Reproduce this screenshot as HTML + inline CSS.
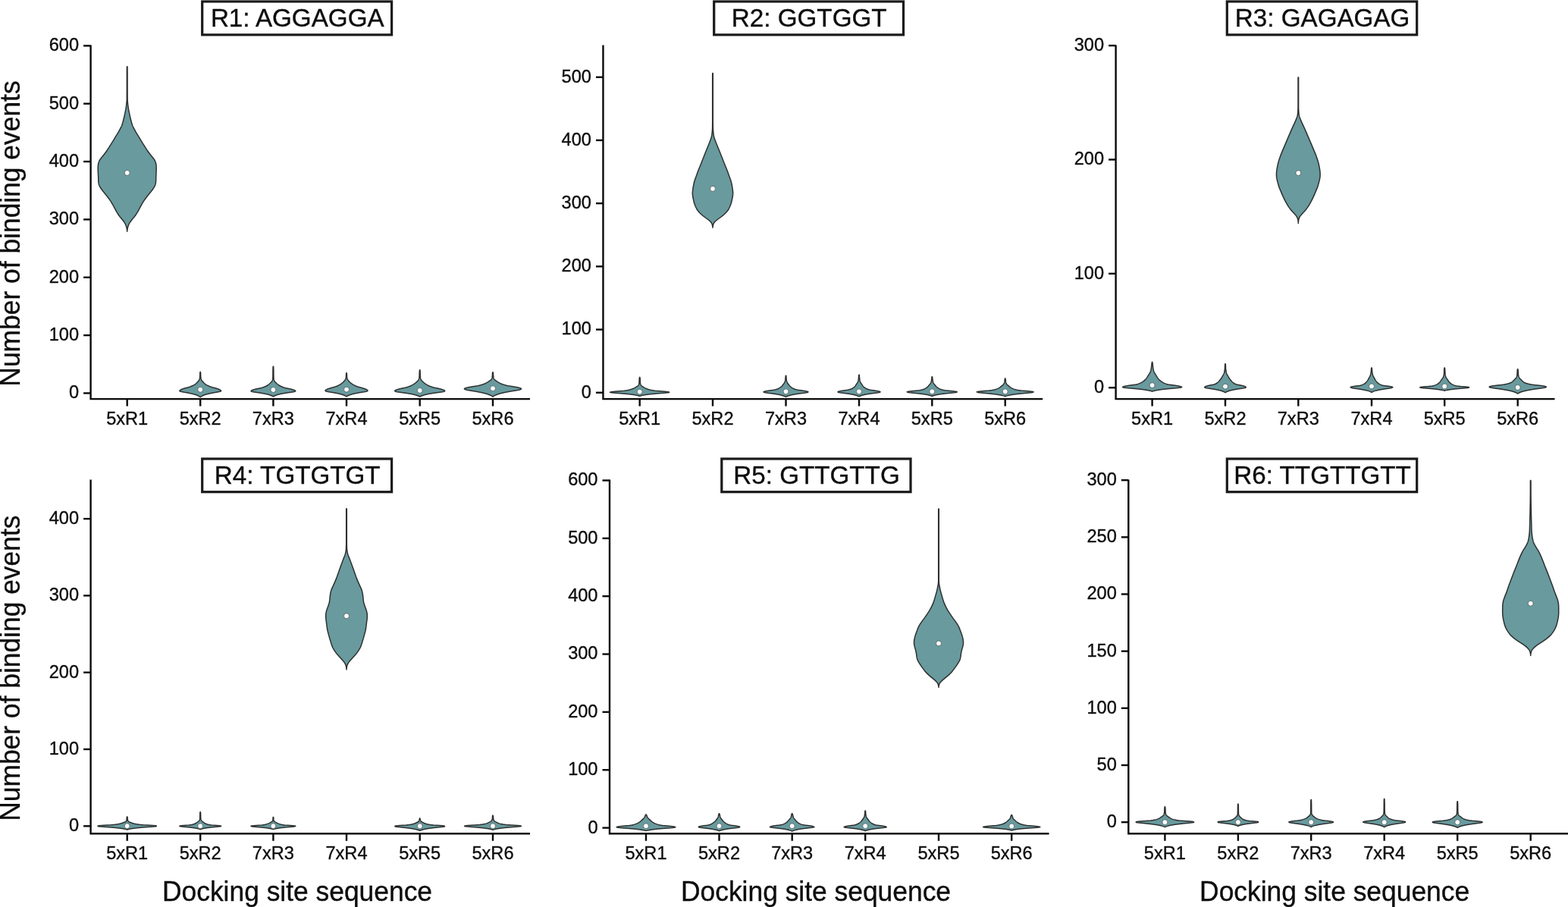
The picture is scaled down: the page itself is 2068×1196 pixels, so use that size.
<!DOCTYPE html>
<html lang="en">
<head>
<meta charset="utf-8">
<title>Number of binding events per docking site sequence</title>
<style>
html,body{margin:0;padding:0;background:#fff;}
body{width:2068px;height:1196px;overflow:hidden;}
svg{display:block;}
text{font-kerning:normal;stroke:#0d0d0d;stroke-width:0.35px;}
</style>
</head>
<body>
<svg width="2068" height="1196" viewBox="0 0 2068 1196">
<rect width="2068" height="1196" fill="#fff"/>
<g>
<g fill="#689a9e" stroke="#2e3030" stroke-width="1.5" stroke-linejoin="round">
<path d="M167.7 87.7 L168 88.2 L168 88.7 L168.01 89.2 L168.01 89.7 L168.01 90.2 L168.02 90.7 L168.02 91.2 L168.02 91.7 L168.02 92.2 L168.03 92.7 L168.03 93.2 L168.03 93.7 L168.03 94.2 L168.04 94.7 L168.04 95.2 L168.04 95.7 L168.04 96.2 L168.04 96.7 L168.04 97.2 L168.04 97.7 L168.05 98.2 L168.05 98.7 L168.05 99.2 L168.05 99.7 L168.05 100.2 L168.05 100.7 L168.05 101.2 L168.05 101.7 L168.05 102.2 L168.05 102.7 L168.05 103.2 L168.05 103.7 L168.05 104.2 L168.05 104.7 L168.06 105.2 L168.06 105.7 L168.06 106.2 L168.06 106.7 L168.06 107.2 L168.06 107.7 L168.06 108.2 L168.06 108.7 L168.06 109.2 L168.06 109.7 L168.06 110.2 L168.06 110.7 L168.06 111.2 L168.06 111.7 L168.06 112.2 L168.06 112.7 L168.06 113.2 L168.06 113.7 L168.06 114.2 L168.06 114.7 L168.06 115.2 L168.06 115.7 L168.06 116.2 L168.06 116.7 L168.06 117.2 L168.06 117.7 L168.06 118.2 L168.06 118.7 L168.06 119.2 L168.06 119.7 L168.07 120.2 L168.07 120.7 L168.07 121.2 L168.07 121.7 L168.07 122.2 L168.07 122.7 L168.07 123.2 L168.07 123.7 L168.07 124.2 L168.08 124.7 L168.08 125.2 L168.08 125.7 L168.08 126.2 L168.08 126.7 L168.09 127.2 L168.09 127.7 L168.09 128.2 L168.09 128.7 L168.1 129.2 L168.1 129.7 L168.1 130.2 L168.11 130.7 L168.12 131.2 L168.14 131.7 L168.16 132.2 L168.19 132.7 L168.22 133.2 L168.26 133.7 L168.3 134.2 L168.34 134.7 L168.39 135.2 L168.43 135.7 L168.48 136.2 L168.54 136.7 L168.59 137.2 L168.64 137.7 L168.7 138.2 L168.75 138.7 L168.81 139.2 L168.87 139.7 L168.92 140.2 L168.98 140.7 L169.05 141.2 L169.12 141.7 L169.2 142.2 L169.28 142.7 L169.36 143.2 L169.45 143.7 L169.53 144.2 L169.63 144.7 L169.72 145.2 L169.82 145.7 L169.92 146.2 L170.02 146.7 L170.12 147.2 L170.22 147.7 L170.33 148.2 L170.43 148.7 L170.54 149.2 L170.64 149.7 L170.74 150.2 L170.85 150.7 L170.96 151.2 L171.06 151.7 L171.17 152.2 L171.29 152.7 L171.4 153.2 L171.51 153.7 L171.63 154.2 L171.75 154.7 L171.87 155.2 L171.99 155.7 L172.11 156.2 L172.24 156.7 L172.37 157.2 L172.5 157.7 L172.63 158.2 L172.76 158.7 L172.89 159.2 L173.02 159.7 L173.16 160.2 L173.3 160.7 L173.43 161.2 L173.58 161.7 L173.72 162.2 L173.87 162.7 L174.02 163.2 L174.17 163.7 L174.33 164.2 L174.5 164.7 L174.68 165.2 L174.87 165.7 L175.08 166.2 L175.29 166.7 L175.52 167.2 L175.76 167.7 L176.01 168.2 L176.27 168.7 L176.54 169.2 L176.8 169.7 L177.07 170.2 L177.33 170.7 L177.59 171.2 L177.85 171.7 L178.11 172.2 L178.37 172.7 L178.64 173.2 L178.92 173.7 L179.2 174.2 L179.49 174.7 L179.79 175.2 L180.09 175.7 L180.4 176.2 L180.71 176.7 L181.03 177.2 L181.35 177.7 L181.66 178.2 L181.97 178.7 L182.29 179.2 L182.59 179.7 L182.9 180.2 L183.2 180.7 L183.5 181.2 L183.79 181.7 L184.09 182.2 L184.38 182.7 L184.67 183.2 L184.96 183.7 L185.26 184.2 L185.55 184.7 L185.85 185.2 L186.15 185.7 L186.46 186.2 L186.77 186.7 L187.08 187.2 L187.4 187.7 L187.72 188.2 L188.04 188.7 L188.36 189.2 L188.69 189.7 L189 190.2 L189.32 190.7 L189.63 191.2 L189.95 191.7 L190.26 192.2 L190.57 192.7 L190.89 193.2 L191.2 193.7 L191.52 194.2 L191.84 194.7 L192.17 195.2 L192.49 195.7 L192.82 196.2 L193.15 196.7 L193.48 197.2 L193.82 197.7 L194.16 198.2 L194.51 198.7 L194.86 199.2 L195.21 199.7 L195.57 200.2 L195.94 200.7 L196.31 201.2 L196.69 201.7 L197.07 202.2 L197.45 202.7 L197.84 203.2 L198.23 203.7 L198.63 204.2 L199.03 204.7 L199.43 205.2 L199.83 205.7 L200.23 206.2 L200.64 206.7 L201.05 207.2 L201.45 207.7 L201.85 208.2 L202.24 208.7 L202.61 209.2 L202.97 209.7 L203.3 210.2 L203.62 210.7 L203.92 211.2 L204.19 211.7 L204.44 212.2 L204.67 212.7 L204.88 213.2 L205.08 213.7 L205.25 214.2 L205.4 214.7 L205.54 215.2 L205.66 215.7 L205.76 216.2 L205.85 216.7 L205.93 217.2 L205.99 217.7 L206.05 218.2 L206.09 218.7 L206.12 219.2 L206.15 219.7 L206.17 220.2 L206.18 220.7 L206.18 221.2 L206.18 221.7 L206.18 222.2 L206.18 222.7 L206.17 223.2 L206.16 223.7 L206.16 224.2 L206.15 224.7 L206.14 225.2 L206.12 225.7 L206.11 226.2 L206.09 226.7 L206.07 227.2 L206.04 227.7 L206.02 228.2 L205.99 228.7 L205.96 229.2 L205.93 229.7 L205.9 230.2 L205.88 230.7 L205.85 231.2 L205.83 231.7 L205.8 232.2 L205.78 232.7 L205.76 233.2 L205.75 233.7 L205.73 234.2 L205.72 234.7 L205.7 235.2 L205.69 235.7 L205.68 236.2 L205.67 236.7 L205.66 237.2 L205.65 237.7 L205.63 238.2 L205.61 238.7 L205.59 239.2 L205.55 239.7 L205.51 240.2 L205.45 240.7 L205.38 241.2 L205.29 241.7 L205.18 242.2 L205.06 242.7 L204.92 243.2 L204.77 243.7 L204.6 244.2 L204.41 244.7 L204.19 245.2 L203.96 245.7 L203.7 246.2 L203.43 246.7 L203.12 247.2 L202.81 247.7 L202.47 248.2 L202.12 248.7 L201.76 249.2 L201.4 249.7 L201.03 250.2 L200.65 250.7 L200.26 251.2 L199.87 251.7 L199.47 252.2 L199.07 252.7 L198.67 253.2 L198.26 253.7 L197.86 254.2 L197.45 254.7 L197.04 255.2 L196.63 255.7 L196.23 256.2 L195.82 256.7 L195.42 257.2 L195.02 257.7 L194.62 258.2 L194.23 258.7 L193.84 259.2 L193.46 259.7 L193.08 260.2 L192.71 260.7 L192.34 261.2 L191.98 261.7 L191.62 262.2 L191.27 262.7 L190.93 263.2 L190.59 263.7 L190.25 264.2 L189.92 264.7 L189.6 265.2 L189.28 265.7 L188.97 266.2 L188.66 266.7 L188.35 267.2 L188.05 267.7 L187.76 268.2 L187.46 268.7 L187.17 269.2 L186.89 269.7 L186.6 270.2 L186.32 270.7 L186.05 271.2 L185.77 271.7 L185.5 272.2 L185.23 272.7 L184.96 273.2 L184.7 273.7 L184.43 274.2 L184.16 274.7 L183.9 275.2 L183.63 275.7 L183.37 276.2 L183.1 276.7 L182.83 277.2 L182.56 277.7 L182.29 278.2 L182.01 278.7 L181.73 279.2 L181.43 279.7 L181.13 280.2 L180.83 280.7 L180.51 281.2 L180.19 281.7 L179.86 282.2 L179.52 282.7 L179.17 283.2 L178.81 283.7 L178.44 284.2 L178.07 284.7 L177.68 285.2 L177.29 285.7 L176.88 286.2 L176.47 286.7 L176.05 287.2 L175.63 287.7 L175.21 288.2 L174.8 288.7 L174.39 289.2 L173.98 289.7 L173.59 290.2 L173.2 290.7 L172.83 291.2 L172.46 291.7 L172.09 292.2 L171.74 292.7 L171.4 293.2 L171.08 293.7 L170.77 294.2 L170.49 294.7 L170.24 295.2 L170 295.7 L169.78 296.2 L169.56 296.7 L169.36 297.2 L169.17 297.7 L169 298.2 L168.84 298.7 L168.69 299.2 L168.57 299.7 L168.46 300.2 L168.35 300.7 L168.25 301.2 L168.15 301.7 L168.06 302.2 L167.98 302.7 L167.9 303.2 L167.84 303.7 L167.78 304.2 L167.74 304.7 L167.7 305.3 L167.66 304.7 L167.62 304.2 L167.56 303.7 L167.5 303.2 L167.42 302.7 L167.34 302.2 L167.25 301.7 L167.15 301.2 L167.05 300.7 L166.94 300.2 L166.83 299.7 L166.71 299.2 L166.56 298.7 L166.4 298.2 L166.23 297.7 L166.04 297.2 L165.84 296.7 L165.62 296.2 L165.4 295.7 L165.16 295.2 L164.91 294.7 L164.63 294.2 L164.32 293.7 L164 293.2 L163.66 292.7 L163.31 292.2 L162.94 291.7 L162.57 291.2 L162.2 290.7 L161.81 290.2 L161.42 289.7 L161.01 289.2 L160.6 288.7 L160.19 288.2 L159.77 287.7 L159.35 287.2 L158.93 286.7 L158.52 286.2 L158.11 285.7 L157.72 285.2 L157.33 284.7 L156.96 284.2 L156.59 283.7 L156.23 283.2 L155.88 282.7 L155.54 282.2 L155.21 281.7 L154.89 281.2 L154.57 280.7 L154.27 280.2 L153.97 279.7 L153.67 279.2 L153.39 278.7 L153.11 278.2 L152.84 277.7 L152.57 277.2 L152.3 276.7 L152.03 276.2 L151.77 275.7 L151.5 275.2 L151.24 274.7 L150.97 274.2 L150.7 273.7 L150.44 273.2 L150.17 272.7 L149.9 272.2 L149.63 271.7 L149.35 271.2 L149.08 270.7 L148.8 270.2 L148.51 269.7 L148.23 269.2 L147.94 268.7 L147.64 268.2 L147.35 267.7 L147.05 267.2 L146.74 266.7 L146.43 266.2 L146.12 265.7 L145.8 265.2 L145.48 264.7 L145.15 264.2 L144.81 263.7 L144.47 263.2 L144.13 262.7 L143.78 262.2 L143.42 261.7 L143.06 261.2 L142.69 260.7 L142.32 260.2 L141.94 259.7 L141.56 259.2 L141.17 258.7 L140.78 258.2 L140.38 257.7 L139.98 257.2 L139.58 256.7 L139.17 256.2 L138.77 255.7 L138.36 255.2 L137.95 254.7 L137.54 254.2 L137.14 253.7 L136.73 253.2 L136.33 252.7 L135.93 252.2 L135.53 251.7 L135.14 251.2 L134.75 250.7 L134.37 250.2 L134 249.7 L133.64 249.2 L133.28 248.7 L132.93 248.2 L132.59 247.7 L132.28 247.2 L131.97 246.7 L131.7 246.2 L131.44 245.7 L131.21 245.2 L130.99 244.7 L130.8 244.2 L130.63 243.7 L130.48 243.2 L130.34 242.7 L130.22 242.2 L130.11 241.7 L130.02 241.2 L129.95 240.7 L129.89 240.2 L129.85 239.7 L129.81 239.2 L129.79 238.7 L129.77 238.2 L129.75 237.7 L129.74 237.2 L129.73 236.7 L129.72 236.2 L129.71 235.7 L129.7 235.2 L129.68 234.7 L129.67 234.2 L129.65 233.7 L129.64 233.2 L129.62 232.7 L129.6 232.2 L129.57 231.7 L129.55 231.2 L129.52 230.7 L129.5 230.2 L129.47 229.7 L129.44 229.2 L129.41 228.7 L129.38 228.2 L129.36 227.7 L129.33 227.2 L129.31 226.7 L129.29 226.2 L129.28 225.7 L129.26 225.2 L129.25 224.7 L129.24 224.2 L129.24 223.7 L129.23 223.2 L129.22 222.7 L129.22 222.2 L129.22 221.7 L129.22 221.2 L129.22 220.7 L129.23 220.2 L129.25 219.7 L129.28 219.2 L129.31 218.7 L129.35 218.2 L129.41 217.7 L129.47 217.2 L129.55 216.7 L129.64 216.2 L129.74 215.7 L129.86 215.2 L130 214.7 L130.15 214.2 L130.32 213.7 L130.52 213.2 L130.73 212.7 L130.96 212.2 L131.21 211.7 L131.48 211.2 L131.78 210.7 L132.1 210.2 L132.43 209.7 L132.79 209.2 L133.16 208.7 L133.55 208.2 L133.95 207.7 L134.35 207.2 L134.76 206.7 L135.17 206.2 L135.57 205.7 L135.97 205.2 L136.37 204.7 L136.77 204.2 L137.17 203.7 L137.56 203.2 L137.95 202.7 L138.33 202.2 L138.71 201.7 L139.09 201.2 L139.46 200.7 L139.83 200.2 L140.19 199.7 L140.54 199.2 L140.89 198.7 L141.24 198.2 L141.58 197.7 L141.92 197.2 L142.25 196.7 L142.58 196.2 L142.91 195.7 L143.23 195.2 L143.56 194.7 L143.88 194.2 L144.2 193.7 L144.51 193.2 L144.83 192.7 L145.14 192.2 L145.45 191.7 L145.77 191.2 L146.08 190.7 L146.4 190.2 L146.71 189.7 L147.04 189.2 L147.36 188.7 L147.68 188.2 L148 187.7 L148.32 187.2 L148.63 186.7 L148.94 186.2 L149.25 185.7 L149.55 185.2 L149.85 184.7 L150.14 184.2 L150.44 183.7 L150.73 183.2 L151.02 182.7 L151.31 182.2 L151.61 181.7 L151.9 181.2 L152.2 180.7 L152.5 180.2 L152.81 179.7 L153.11 179.2 L153.43 178.7 L153.74 178.2 L154.05 177.7 L154.37 177.2 L154.69 176.7 L155 176.2 L155.31 175.7 L155.61 175.2 L155.91 174.7 L156.2 174.2 L156.48 173.7 L156.76 173.2 L157.03 172.7 L157.29 172.2 L157.55 171.7 L157.81 171.2 L158.07 170.7 L158.33 170.2 L158.6 169.7 L158.86 169.2 L159.13 168.7 L159.39 168.2 L159.64 167.7 L159.88 167.2 L160.11 166.7 L160.32 166.2 L160.53 165.7 L160.72 165.2 L160.9 164.7 L161.07 164.2 L161.23 163.7 L161.38 163.2 L161.53 162.7 L161.68 162.2 L161.82 161.7 L161.97 161.2 L162.1 160.7 L162.24 160.2 L162.38 159.7 L162.51 159.2 L162.64 158.7 L162.77 158.2 L162.9 157.7 L163.03 157.2 L163.16 156.7 L163.29 156.2 L163.41 155.7 L163.53 155.2 L163.65 154.7 L163.77 154.2 L163.89 153.7 L164 153.2 L164.11 152.7 L164.23 152.2 L164.34 151.7 L164.44 151.2 L164.55 150.7 L164.66 150.2 L164.76 149.7 L164.86 149.2 L164.97 148.7 L165.07 148.2 L165.18 147.7 L165.28 147.2 L165.38 146.7 L165.48 146.2 L165.58 145.7 L165.68 145.2 L165.77 144.7 L165.87 144.2 L165.95 143.7 L166.04 143.2 L166.12 142.7 L166.2 142.2 L166.28 141.7 L166.35 141.2 L166.42 140.7 L166.48 140.2 L166.53 139.7 L166.59 139.2 L166.65 138.7 L166.7 138.2 L166.76 137.7 L166.81 137.2 L166.86 136.7 L166.92 136.2 L166.97 135.7 L167.01 135.2 L167.06 134.7 L167.1 134.2 L167.14 133.7 L167.18 133.2 L167.21 132.7 L167.24 132.2 L167.26 131.7 L167.28 131.2 L167.29 130.7 L167.3 130.2 L167.3 129.7 L167.3 129.2 L167.31 128.7 L167.31 128.2 L167.31 127.7 L167.31 127.2 L167.32 126.7 L167.32 126.2 L167.32 125.7 L167.32 125.2 L167.32 124.7 L167.33 124.2 L167.33 123.7 L167.33 123.2 L167.33 122.7 L167.33 122.2 L167.33 121.7 L167.33 121.2 L167.33 120.7 L167.33 120.2 L167.34 119.7 L167.34 119.2 L167.34 118.7 L167.34 118.2 L167.34 117.7 L167.34 117.2 L167.34 116.7 L167.34 116.2 L167.34 115.7 L167.34 115.2 L167.34 114.7 L167.34 114.2 L167.34 113.7 L167.34 113.2 L167.34 112.7 L167.34 112.2 L167.34 111.7 L167.34 111.2 L167.34 110.7 L167.34 110.2 L167.34 109.7 L167.34 109.2 L167.34 108.7 L167.34 108.2 L167.34 107.7 L167.34 107.2 L167.34 106.7 L167.34 106.2 L167.34 105.7 L167.34 105.2 L167.35 104.7 L167.35 104.2 L167.35 103.7 L167.35 103.2 L167.35 102.7 L167.35 102.2 L167.35 101.7 L167.35 101.2 L167.35 100.7 L167.35 100.2 L167.35 99.7 L167.35 99.2 L167.35 98.7 L167.35 98.2 L167.36 97.7 L167.36 97.2 L167.36 96.7 L167.36 96.2 L167.36 95.7 L167.36 95.2 L167.36 94.7 L167.37 94.2 L167.37 93.7 L167.37 93.2 L167.37 92.7 L167.38 92.2 L167.38 91.7 L167.38 91.2 L167.38 90.7 L167.39 90.2 L167.39 89.7 L167.39 89.2 L167.4 88.7 L167.4 88.2 Z"/>
<path d="M264.2 490.3 L264.47 490.8 L264.53 491.3 L264.57 491.8 L264.6 492.3 L264.62 492.8 L264.64 493.3 L264.65 493.8 L264.66 494.3 L264.67 494.8 L264.68 495.3 L264.7 495.8 L264.71 496.3 L264.74 496.8 L264.77 497.3 L264.81 497.8 L264.88 498.3 L264.98 498.8 L265.1 499.3 L265.24 499.8 L265.41 500.3 L265.59 500.8 L265.85 501.3 L266.2 501.8 L266.6 502.3 L267.05 502.8 L267.49 503.3 L267.93 503.8 L268.38 504.3 L268.85 504.8 L269.36 505.3 L269.91 505.8 L270.52 506.3 L271.19 506.8 L271.95 507.3 L272.8 507.8 L273.75 508.3 L274.79 508.8 L275.92 509.3 L277.13 509.8 L278.46 510.3 L280.14 510.8 L282.05 511.3 L283.97 511.8 L285.7 512.3 L287.16 512.8 L288.55 513.3 L289.74 513.8 L290.58 514.3 L291.28 514.8 L291.6 515.3 L291.27 515.8 L290.18 516.3 L287.83 516.8 L285.22 517.3 L282.23 517.8 L279.62 518.3 L277.23 518.8 L274.91 519.3 L272.91 519.8 L271.16 520.3 L269.63 520.8 L268.29 521.3 L267.11 521.8 L266.09 522.3 L265.28 522.8 L264.62 523.3 L264.2 523.7 L263.78 523.3 L263.12 522.8 L262.31 522.3 L261.29 521.8 L260.11 521.3 L258.77 520.8 L257.24 520.3 L255.49 519.8 L253.49 519.3 L251.17 518.8 L248.78 518.3 L246.17 517.8 L243.18 517.3 L240.57 516.8 L238.22 516.3 L237.13 515.8 L236.8 515.3 L237.12 514.8 L237.82 514.3 L238.66 513.8 L239.85 513.3 L241.24 512.8 L242.7 512.3 L244.43 511.8 L246.35 511.3 L248.26 510.8 L249.94 510.3 L251.27 509.8 L252.48 509.3 L253.61 508.8 L254.65 508.3 L255.6 507.8 L256.45 507.3 L257.21 506.8 L257.88 506.3 L258.49 505.8 L259.04 505.3 L259.55 504.8 L260.02 504.3 L260.47 503.8 L260.91 503.3 L261.35 502.8 L261.8 502.3 L262.2 501.8 L262.55 501.3 L262.81 500.8 L262.99 500.3 L263.16 499.8 L263.3 499.3 L263.42 498.8 L263.52 498.3 L263.59 497.8 L263.63 497.3 L263.66 496.8 L263.69 496.3 L263.7 495.8 L263.72 495.3 L263.73 494.8 L263.74 494.3 L263.75 493.8 L263.76 493.3 L263.78 492.8 L263.8 492.3 L263.83 491.8 L263.87 491.3 L263.93 490.8 Z"/>
<path d="M360.4 483 L360.66 483.5 L360.69 484 L360.72 484.5 L360.75 485 L360.77 485.5 L360.79 486 L360.8 486.5 L360.82 487 L360.83 487.5 L360.84 488 L360.85 488.5 L360.85 489 L360.86 489.5 L360.86 490 L360.87 490.5 L360.87 491 L360.87 491.5 L360.88 492 L360.88 492.5 L360.88 493 L360.89 493.5 L360.89 494 L360.9 494.5 L360.9 495 L360.91 495.5 L360.92 496 L360.93 496.5 L360.95 497 L360.96 497.5 L360.98 498 L361 498.5 L361.02 499 L361.05 499.5 L361.11 500 L361.22 500.5 L361.37 501 L361.54 501.5 L361.74 502 L361.97 502.5 L362.3 503 L362.73 503.5 L363.22 504 L363.73 504.5 L364.23 505 L364.74 505.5 L365.27 506 L365.85 506.5 L366.47 507 L367.15 507.5 L367.91 508 L368.74 508.5 L369.67 509 L370.7 509.5 L371.84 510 L373.1 510.5 L374.5 511 L376.17 511.5 L378.42 512 L380.91 512.5 L383.22 513 L385.09 513.5 L386.83 514 L388.21 514.5 L389.17 515 L389.78 515.5 L389.5 516 L388.18 516.5 L385.28 517 L381.96 517.5 L378.42 518 L375.45 518.5 L372.57 519 L370.04 519.5 L367.89 520 L366.04 520.5 L364.44 521 L363.07 521.5 L361.94 522 L361.07 522.5 L360.4 523 L359.73 522.5 L358.86 522 L357.73 521.5 L356.36 521 L354.76 520.5 L352.91 520 L350.76 519.5 L348.23 519 L345.35 518.5 L342.38 518 L338.84 517.5 L335.52 517 L332.62 516.5 L331.3 516 L331.02 515.5 L331.63 515 L332.59 514.5 L333.97 514 L335.71 513.5 L337.58 513 L339.89 512.5 L342.38 512 L344.63 511.5 L346.3 511 L347.7 510.5 L348.96 510 L350.1 509.5 L351.13 509 L352.06 508.5 L352.89 508 L353.65 507.5 L354.33 507 L354.95 506.5 L355.53 506 L356.06 505.5 L356.57 505 L357.07 504.5 L357.58 504 L358.07 503.5 L358.5 503 L358.83 502.5 L359.06 502 L359.26 501.5 L359.43 501 L359.58 500.5 L359.69 500 L359.75 499.5 L359.78 499 L359.8 498.5 L359.82 498 L359.84 497.5 L359.85 497 L359.87 496.5 L359.88 496 L359.89 495.5 L359.9 495 L359.9 494.5 L359.91 494 L359.91 493.5 L359.92 493 L359.92 492.5 L359.92 492 L359.93 491.5 L359.93 491 L359.93 490.5 L359.94 490 L359.94 489.5 L359.95 489 L359.95 488.5 L359.96 488 L359.97 487.5 L359.98 487 L360 486.5 L360.01 486 L360.03 485.5 L360.05 485 L360.08 484.5 L360.11 484 L360.14 483.5 Z"/>
<path d="M457 491.7 L457.28 492.2 L457.35 492.7 L457.4 493.2 L457.43 493.7 L457.45 494.2 L457.47 494.7 L457.48 495.2 L457.5 495.7 L457.52 496.2 L457.55 496.7 L457.6 497.2 L457.66 497.7 L457.75 498.2 L457.87 498.7 L458 499.2 L458.17 499.7 L458.35 500.2 L458.59 500.7 L458.93 501.2 L459.34 501.7 L459.8 502.2 L460.27 502.7 L460.73 503.2 L461.21 503.7 L461.71 504.2 L462.25 504.7 L462.82 505.2 L463.45 505.7 L464.14 506.2 L464.91 506.7 L465.77 507.2 L466.71 507.7 L467.72 508.2 L468.82 508.7 L470 509.2 L471.26 509.7 L472.81 510.2 L474.61 510.7 L476.49 511.2 L478.25 511.7 L479.75 512.2 L481.14 512.7 L482.41 513.2 L483.44 513.7 L484.19 514.2 L484.8 514.7 L484.98 515.2 L484.48 515.7 L482.81 516.2 L480.14 516.7 L477.06 517.2 L473.95 517.7 L471.31 518.2 L468.73 518.7 L466.44 519.2 L464.48 519.7 L462.78 520.2 L461.29 520.7 L460.01 521.2 L458.9 521.7 L458.03 522.2 L457.34 522.7 L457 523 L456.66 522.7 L455.97 522.2 L455.1 521.7 L453.99 521.2 L452.71 520.7 L451.22 520.2 L449.52 519.7 L447.56 519.2 L445.27 518.7 L442.69 518.2 L440.05 517.7 L436.94 517.2 L433.86 516.7 L431.19 516.2 L429.52 515.7 L429.02 515.2 L429.2 514.7 L429.81 514.2 L430.56 513.7 L431.59 513.2 L432.86 512.7 L434.25 512.2 L435.75 511.7 L437.51 511.2 L439.39 510.7 L441.19 510.2 L442.74 509.7 L444 509.2 L445.18 508.7 L446.28 508.2 L447.29 507.7 L448.23 507.2 L449.09 506.7 L449.86 506.2 L450.55 505.7 L451.18 505.2 L451.75 504.7 L452.29 504.2 L452.79 503.7 L453.27 503.2 L453.73 502.7 L454.2 502.2 L454.66 501.7 L455.07 501.2 L455.41 500.7 L455.65 500.2 L455.83 499.7 L456 499.2 L456.13 498.7 L456.25 498.2 L456.34 497.7 L456.4 497.2 L456.45 496.7 L456.48 496.2 L456.5 495.7 L456.52 495.2 L456.53 494.7 L456.55 494.2 L456.57 493.7 L456.6 493.2 L456.65 492.7 L456.72 492.2 Z"/>
<path d="M553.7 487.7 L553.98 488.2 L554.03 488.7 L554.08 489.2 L554.12 489.7 L554.15 490.2 L554.17 490.7 L554.19 491.2 L554.21 491.7 L554.22 492.2 L554.23 492.7 L554.24 493.2 L554.25 493.7 L554.26 494.2 L554.27 494.7 L554.28 495.2 L554.3 495.7 L554.33 496.2 L554.36 496.7 L554.4 497.2 L554.45 497.7 L554.53 498.2 L554.64 498.7 L554.78 499.2 L554.96 499.7 L555.15 500.2 L555.37 500.7 L555.66 501.2 L556.06 501.7 L556.53 502.2 L557.05 502.7 L557.57 503.2 L558.08 503.7 L558.61 504.2 L559.16 504.7 L559.75 505.2 L560.38 505.7 L561.07 506.2 L561.82 506.7 L562.64 507.2 L563.56 507.7 L564.57 508.2 L565.68 508.7 L566.89 509.2 L568.21 509.7 L569.65 510.2 L571.29 510.7 L573.43 511.2 L575.82 511.7 L578.17 512.2 L580.2 512.7 L581.97 513.2 L583.63 513.7 L584.95 514.2 L585.9 514.7 L586.64 515.2 L586.71 515.7 L585.95 516.2 L583.41 516.7 L580.09 517.2 L576.19 517.7 L572.65 518.2 L569.5 518.7 L566.44 519.2 L563.85 519.7 L561.62 520.2 L559.68 520.7 L558 521.2 L556.54 521.7 L555.35 522.2 L554.42 522.7 L553.7 523.2 L552.98 522.7 L552.05 522.2 L550.86 521.7 L549.4 521.2 L547.72 520.7 L545.78 520.2 L543.55 519.7 L540.96 519.2 L537.9 518.7 L534.75 518.2 L531.21 517.7 L527.31 517.2 L523.99 516.7 L521.45 516.2 L520.69 515.7 L520.76 515.2 L521.5 514.7 L522.45 514.2 L523.77 513.7 L525.43 513.2 L527.2 512.7 L529.23 512.2 L531.58 511.7 L533.97 511.2 L536.11 510.7 L537.75 510.2 L539.19 509.7 L540.51 509.2 L541.72 508.7 L542.83 508.2 L543.84 507.7 L544.76 507.2 L545.58 506.7 L546.33 506.2 L547.02 505.7 L547.65 505.2 L548.24 504.7 L548.79 504.2 L549.32 503.7 L549.83 503.2 L550.35 502.7 L550.87 502.2 L551.34 501.7 L551.74 501.2 L552.03 500.7 L552.25 500.2 L552.44 499.7 L552.62 499.2 L552.76 498.7 L552.87 498.2 L552.95 497.7 L553 497.2 L553.04 496.7 L553.07 496.2 L553.1 495.7 L553.12 495.2 L553.13 494.7 L553.14 494.2 L553.15 493.7 L553.16 493.2 L553.17 492.7 L553.18 492.2 L553.19 491.7 L553.21 491.2 L553.23 490.7 L553.25 490.2 L553.28 489.7 L553.32 489.2 L553.37 488.7 L553.42 488.2 Z"/>
<path d="M650 490.7 L650.29 491.2 L650.37 491.7 L650.44 492.2 L650.49 492.7 L650.53 493.2 L650.56 493.7 L650.58 494.2 L650.6 494.7 L650.62 495.2 L650.64 495.7 L650.67 496.2 L650.71 496.7 L650.77 497.2 L650.84 497.7 L650.96 498.2 L651.12 498.7 L651.33 499.2 L651.58 499.7 L651.86 500.2 L652.27 500.7 L652.84 501.2 L653.51 501.7 L654.23 502.2 L654.94 502.7 L655.66 503.2 L656.44 503.7 L657.27 504.2 L658.18 504.7 L659.19 505.2 L660.3 505.7 L661.53 506.2 L662.9 506.7 L664.42 507.2 L666.11 507.7 L667.99 508.2 L670.24 508.7 L673.3 509.2 L676.63 509.7 L679.62 510.2 L682.09 510.7 L684.33 511.2 L685.97 511.7 L687.17 512.2 L687.59 512.7 L687.18 513.2 L686.25 513.7 L684.03 514.2 L681.31 514.7 L678.36 515.2 L675.09 515.7 L672.15 516.2 L669.52 516.7 L666.93 517.2 L664.44 517.7 L662.27 518.2 L660.31 518.7 L658.55 519.2 L656.97 519.7 L655.53 520.2 L654.25 520.7 L653.08 521.2 L652.09 521.7 L651.27 522.2 L650.57 522.7 L650 523.2 L649.43 522.7 L648.73 522.2 L647.91 521.7 L646.92 521.2 L645.75 520.7 L644.47 520.2 L643.03 519.7 L641.45 519.2 L639.69 518.7 L637.73 518.2 L635.56 517.7 L633.07 517.2 L630.48 516.7 L627.85 516.2 L624.91 515.7 L621.64 515.2 L618.69 514.7 L615.97 514.2 L613.75 513.7 L612.82 513.2 L612.41 512.7 L612.83 512.2 L614.03 511.7 L615.67 511.2 L617.91 510.7 L620.38 510.2 L623.37 509.7 L626.7 509.2 L629.76 508.7 L632.01 508.2 L633.89 507.7 L635.58 507.2 L637.1 506.7 L638.47 506.2 L639.7 505.7 L640.81 505.2 L641.82 504.7 L642.73 504.2 L643.56 503.7 L644.34 503.2 L645.06 502.7 L645.77 502.2 L646.49 501.7 L647.16 501.2 L647.73 500.7 L648.14 500.2 L648.42 499.7 L648.67 499.2 L648.88 498.7 L649.04 498.2 L649.16 497.7 L649.23 497.2 L649.29 496.7 L649.33 496.2 L649.36 495.7 L649.38 495.2 L649.4 494.7 L649.42 494.2 L649.44 493.7 L649.47 493.2 L649.51 492.7 L649.56 492.2 L649.63 491.7 L649.71 491.2 Z"/>
</g>
<g fill="#fff" stroke="#3c4a4a" stroke-width="0.7">
<circle cx="167.7" cy="227.9" r="3.45"/>
<circle cx="264.2" cy="513.8" r="3.45"/>
<circle cx="360.4" cy="514" r="3.45"/>
<circle cx="457" cy="513.6" r="3.45"/>
<circle cx="553.7" cy="514.9" r="3.45"/>
<circle cx="650" cy="512.2" r="3.45"/>
</g>
<g stroke="#0a0a0a" stroke-width="2.4" fill="none">
<path d="M119.6 59.4 V526.1 H699"/>
<path d="M167.7 526.1 v9.5"/>
<path d="M264.2 526.1 v9.5"/>
<path d="M360.4 526.1 v9.5"/>
<path d="M457 526.1 v9.5"/>
<path d="M553.7 526.1 v9.5"/>
<path d="M650 526.1 v9.5"/>
<path d="M119.6 518.45 h-9.5"/>
<path d="M119.6 442.1 h-9.5"/>
<path d="M119.6 365.75 h-9.5"/>
<path d="M119.6 289.4 h-9.5"/>
<path d="M119.6 213.05 h-9.5"/>
<path d="M119.6 136.7 h-9.5"/>
<path d="M119.6 60.35 h-9.5"/>
</g>
<g font-family='"Liberation Sans", sans-serif' font-size="23.6" fill="#0d0d0d">
<g text-anchor="middle">
<text x="167.7" y="559.9">5xR1</text>
<text x="264.2" y="559.9">5xR2</text>
<text x="360.4" y="559.9">7xR3</text>
<text x="457" y="559.9">7xR4</text>
<text x="553.7" y="559.9">5xR5</text>
<text x="650" y="559.9">5xR6</text>
</g>
<g text-anchor="end">
<text x="104.1" y="525.35">0</text>
<text x="104.1" y="449">100</text>
<text x="104.1" y="372.65">200</text>
<text x="104.1" y="296.3">300</text>
<text x="104.1" y="219.95">400</text>
<text x="104.1" y="143.6">500</text>
<text x="104.1" y="67.25">600</text>
</g>
</g>
<rect x="266.7" y="2" width="249.9" height="43.9" fill="#fff" stroke="#1a1a1a" stroke-width="3.2"/>
<text x="392.25" y="35.3" text-anchor="middle" font-family='"Liberation Sans", sans-serif' font-size="33.2" fill="#0d0d0d">R1: AGGAGGA</text>
<text transform="translate(26.3 308) rotate(-90) scale(1 1.03)" text-anchor="middle" font-family='"Liberation Sans", sans-serif' font-size="35.4" fill="#0d0d0d">Number of binding events</text>
</g>
<g>
<g fill="#689a9e" stroke="#2e3030" stroke-width="1.5" stroke-linejoin="round">
<path d="M940 96.5 L940.3 97 L940.3 97.5 L940.3 98 L940.3 98.5 L940.3 99 L940.3 99.5 L940.3 100 L940.3 100.5 L940.3 101 L940.3 101.5 L940.3 102 L940.3 102.5 L940.3 103 L940.3 103.5 L940.3 104 L940.3 104.5 L940.3 105 L940.3 105.5 L940.3 106 L940.3 106.5 L940.3 107 L940.3 107.5 L940.3 108 L940.3 108.5 L940.3 109 L940.3 109.5 L940.3 110 L940.3 110.5 L940.3 111 L940.3 111.5 L940.3 112 L940.3 112.5 L940.3 113 L940.3 113.5 L940.3 114 L940.3 114.5 L940.3 115 L940.3 115.5 L940.3 116 L940.3 116.5 L940.3 117 L940.3 117.5 L940.3 118 L940.3 118.5 L940.3 119 L940.3 119.5 L940.3 120 L940.3 120.5 L940.3 121 L940.3 121.5 L940.3 122 L940.3 122.5 L940.3 123 L940.3 123.5 L940.3 124 L940.3 124.5 L940.3 125 L940.3 125.5 L940.3 126 L940.3 126.5 L940.3 127 L940.3 127.5 L940.3 128 L940.3 128.5 L940.3 129 L940.3 129.5 L940.3 130 L940.3 130.5 L940.3 131 L940.3 131.5 L940.3 132 L940.3 132.5 L940.3 133 L940.3 133.5 L940.3 134 L940.3 134.5 L940.3 135 L940.3 135.5 L940.3 136 L940.3 136.5 L940.3 137 L940.3 137.5 L940.3 138 L940.3 138.5 L940.3 139 L940.3 139.5 L940.3 140 L940.3 140.5 L940.3 141 L940.3 141.5 L940.3 142 L940.3 142.5 L940.3 143 L940.3 143.5 L940.3 144 L940.3 144.5 L940.3 145 L940.3 145.5 L940.3 146 L940.3 146.5 L940.3 147 L940.3 147.5 L940.3 148 L940.3 148.5 L940.3 149 L940.3 149.5 L940.3 150 L940.3 150.5 L940.3 151 L940.3 151.5 L940.3 152 L940.3 152.5 L940.3 153 L940.3 153.5 L940.3 154 L940.3 154.5 L940.3 155 L940.3 155.5 L940.3 156 L940.3 156.5 L940.3 157 L940.3 157.5 L940.3 158 L940.3 158.5 L940.3 159 L940.3 159.5 L940.3 160 L940.3 160.5 L940.3 161 L940.3 161.5 L940.31 162 L940.31 162.5 L940.32 163 L940.32 163.5 L940.33 164 L940.33 164.5 L940.34 165 L940.35 165.5 L940.36 166 L940.36 166.5 L940.37 167 L940.38 167.5 L940.39 168 L940.4 168.5 L940.42 169 L940.43 169.5 L940.45 170 L940.48 170.5 L940.5 171 L940.53 171.5 L940.57 172 L940.6 172.5 L940.64 173 L940.68 173.5 L940.73 174 L940.77 174.5 L940.82 175 L940.87 175.5 L940.92 176 L940.98 176.5 L941.04 177 L941.11 177.5 L941.19 178 L941.28 178.5 L941.37 179 L941.48 179.5 L941.59 180 L941.71 180.5 L941.83 181 L941.97 181.5 L942.12 182 L942.28 182.5 L942.45 183 L942.63 183.5 L942.81 184 L942.99 184.5 L943.17 185 L943.35 185.5 L943.54 186 L943.73 186.5 L943.92 187 L944.12 187.5 L944.31 188 L944.51 188.5 L944.71 189 L944.91 189.5 L945.12 190 L945.32 190.5 L945.52 191 L945.73 191.5 L945.93 192 L946.13 192.5 L946.34 193 L946.54 193.5 L946.74 194 L946.94 194.5 L947.15 195 L947.35 195.5 L947.55 196 L947.76 196.5 L947.96 197 L948.16 197.5 L948.36 198 L948.57 198.5 L948.77 199 L948.97 199.5 L949.17 200 L949.38 200.5 L949.58 201 L949.78 201.5 L949.98 202 L950.17 202.5 L950.37 203 L950.57 203.5 L950.77 204 L950.96 204.5 L951.16 205 L951.36 205.5 L951.55 206 L951.75 206.5 L951.94 207 L952.14 207.5 L952.34 208 L952.53 208.5 L952.73 209 L952.93 209.5 L953.12 210 L953.32 210.5 L953.52 211 L953.71 211.5 L953.91 212 L954.11 212.5 L954.31 213 L954.51 213.5 L954.71 214 L954.9 214.5 L955.1 215 L955.3 215.5 L955.5 216 L955.7 216.5 L955.9 217 L956.1 217.5 L956.3 218 L956.51 218.5 L956.71 219 L956.91 219.5 L957.12 220 L957.33 220.5 L957.53 221 L957.74 221.5 L957.95 222 L958.15 222.5 L958.36 223 L958.56 223.5 L958.76 224 L958.96 224.5 L959.16 225 L959.35 225.5 L959.54 226 L959.73 226.5 L959.91 227 L960.09 227.5 L960.26 228 L960.43 228.5 L960.6 229 L960.77 229.5 L960.94 230 L961.11 230.5 L961.29 231 L961.47 231.5 L961.65 232 L961.84 232.5 L962.03 233 L962.21 233.5 L962.4 234 L962.59 234.5 L962.78 235 L962.96 235.5 L963.15 236 L963.32 236.5 L963.5 237 L963.67 237.5 L963.83 238 L963.99 238.5 L964.14 239 L964.28 239.5 L964.41 240 L964.53 240.5 L964.65 241 L964.76 241.5 L964.87 242 L964.98 242.5 L965.08 243 L965.18 243.5 L965.28 244 L965.38 244.5 L965.48 245 L965.57 245.5 L965.67 246 L965.76 246.5 L965.84 247 L965.93 247.5 L966 248 L966.07 248.5 L966.14 249 L966.21 249.5 L966.27 250 L966.33 250.5 L966.39 251 L966.45 251.5 L966.5 252 L966.56 252.5 L966.61 253 L966.65 253.5 L966.68 254 L966.69 254.5 L966.69 255 L966.68 255.5 L966.65 256 L966.61 256.5 L966.56 257 L966.5 257.5 L966.43 258 L966.36 258.5 L966.28 259 L966.19 259.5 L966.1 260 L966 260.5 L965.9 261 L965.8 261.5 L965.7 262 L965.6 262.5 L965.49 263 L965.39 263.5 L965.29 264 L965.18 264.5 L965.07 265 L964.96 265.5 L964.84 266 L964.72 266.5 L964.59 267 L964.45 267.5 L964.3 268 L964.14 268.5 L963.97 269 L963.79 269.5 L963.61 270 L963.42 270.5 L963.23 271 L963.03 271.5 L962.82 272 L962.61 272.5 L962.38 273 L962.15 273.5 L961.91 274 L961.65 274.5 L961.38 275 L961.1 275.5 L960.81 276 L960.49 276.5 L960.16 277 L959.82 277.5 L959.45 278 L959.06 278.5 L958.66 279 L958.23 279.5 L957.79 280 L957.33 280.5 L956.86 281 L956.36 281.5 L955.85 282 L955.32 282.5 L954.76 283 L954.19 283.5 L953.6 284 L952.99 284.5 L952.36 285 L951.71 285.5 L951.05 286 L950.38 286.5 L949.69 287 L949 287.5 L948.3 288 L947.61 288.5 L946.93 289 L946.26 289.5 L945.62 290 L945 290.5 L944.4 291 L943.82 291.5 L943.28 292 L942.77 292.5 L942.33 293 L941.96 293.5 L941.65 294 L941.38 294.5 L941.14 295 L940.93 295.5 L940.75 296 L940.6 296.5 L940.48 297 L940.37 297.5 L940.27 298 L940.18 298.5 L940.1 299 L940.04 299.5 L940.01 300 L940 300.2 L939.99 300 L939.96 299.5 L939.9 299 L939.82 298.5 L939.73 298 L939.63 297.5 L939.52 297 L939.4 296.5 L939.25 296 L939.07 295.5 L938.86 295 L938.62 294.5 L938.35 294 L938.04 293.5 L937.67 293 L937.23 292.5 L936.72 292 L936.18 291.5 L935.6 291 L935 290.5 L934.38 290 L933.74 289.5 L933.07 289 L932.39 288.5 L931.7 288 L931 287.5 L930.31 287 L929.62 286.5 L928.95 286 L928.29 285.5 L927.64 285 L927.01 284.5 L926.4 284 L925.81 283.5 L925.24 283 L924.68 282.5 L924.15 282 L923.64 281.5 L923.14 281 L922.67 280.5 L922.21 280 L921.77 279.5 L921.34 279 L920.94 278.5 L920.55 278 L920.18 277.5 L919.84 277 L919.51 276.5 L919.19 276 L918.9 275.5 L918.62 275 L918.35 274.5 L918.09 274 L917.85 273.5 L917.62 273 L917.39 272.5 L917.18 272 L916.97 271.5 L916.77 271 L916.58 270.5 L916.39 270 L916.21 269.5 L916.03 269 L915.86 268.5 L915.7 268 L915.55 267.5 L915.41 267 L915.28 266.5 L915.16 266 L915.04 265.5 L914.93 265 L914.82 264.5 L914.71 264 L914.61 263.5 L914.51 263 L914.4 262.5 L914.3 262 L914.2 261.5 L914.1 261 L914 260.5 L913.9 260 L913.81 259.5 L913.72 259 L913.64 258.5 L913.57 258 L913.5 257.5 L913.44 257 L913.39 256.5 L913.35 256 L913.32 255.5 L913.31 255 L913.31 254.5 L913.32 254 L913.35 253.5 L913.39 253 L913.44 252.5 L913.5 252 L913.55 251.5 L913.61 251 L913.67 250.5 L913.73 250 L913.79 249.5 L913.86 249 L913.93 248.5 L914 248 L914.07 247.5 L914.16 247 L914.24 246.5 L914.33 246 L914.43 245.5 L914.52 245 L914.62 244.5 L914.72 244 L914.82 243.5 L914.92 243 L915.02 242.5 L915.13 242 L915.24 241.5 L915.35 241 L915.47 240.5 L915.59 240 L915.72 239.5 L915.86 239 L916.01 238.5 L916.17 238 L916.33 237.5 L916.5 237 L916.68 236.5 L916.85 236 L917.04 235.5 L917.22 235 L917.41 234.5 L917.6 234 L917.79 233.5 L917.97 233 L918.16 232.5 L918.35 232 L918.53 231.5 L918.71 231 L918.89 230.5 L919.06 230 L919.23 229.5 L919.4 229 L919.57 228.5 L919.74 228 L919.91 227.5 L920.09 227 L920.27 226.5 L920.46 226 L920.65 225.5 L920.84 225 L921.04 224.5 L921.24 224 L921.44 223.5 L921.64 223 L921.85 222.5 L922.05 222 L922.26 221.5 L922.47 221 L922.67 220.5 L922.88 220 L923.09 219.5 L923.29 219 L923.49 218.5 L923.7 218 L923.9 217.5 L924.1 217 L924.3 216.5 L924.5 216 L924.7 215.5 L924.9 215 L925.1 214.5 L925.29 214 L925.49 213.5 L925.69 213 L925.89 212.5 L926.09 212 L926.29 211.5 L926.48 211 L926.68 210.5 L926.88 210 L927.07 209.5 L927.27 209 L927.47 208.5 L927.66 208 L927.86 207.5 L928.06 207 L928.25 206.5 L928.45 206 L928.64 205.5 L928.84 205 L929.04 204.5 L929.23 204 L929.43 203.5 L929.63 203 L929.83 202.5 L930.02 202 L930.22 201.5 L930.42 201 L930.62 200.5 L930.83 200 L931.03 199.5 L931.23 199 L931.43 198.5 L931.64 198 L931.84 197.5 L932.04 197 L932.24 196.5 L932.45 196 L932.65 195.5 L932.85 195 L933.06 194.5 L933.26 194 L933.46 193.5 L933.66 193 L933.87 192.5 L934.07 192 L934.27 191.5 L934.48 191 L934.68 190.5 L934.88 190 L935.09 189.5 L935.29 189 L935.49 188.5 L935.69 188 L935.88 187.5 L936.08 187 L936.27 186.5 L936.46 186 L936.65 185.5 L936.83 185 L937.01 184.5 L937.19 184 L937.37 183.5 L937.55 183 L937.72 182.5 L937.88 182 L938.03 181.5 L938.17 181 L938.29 180.5 L938.41 180 L938.52 179.5 L938.63 179 L938.72 178.5 L938.81 178 L938.89 177.5 L938.96 177 L939.02 176.5 L939.08 176 L939.13 175.5 L939.18 175 L939.23 174.5 L939.27 174 L939.32 173.5 L939.36 173 L939.4 172.5 L939.43 172 L939.47 171.5 L939.5 171 L939.52 170.5 L939.55 170 L939.57 169.5 L939.58 169 L939.6 168.5 L939.61 168 L939.62 167.5 L939.63 167 L939.64 166.5 L939.64 166 L939.65 165.5 L939.66 165 L939.67 164.5 L939.67 164 L939.68 163.5 L939.68 163 L939.69 162.5 L939.69 162 L939.7 161.5 L939.7 161 L939.7 160.5 L939.7 160 L939.7 159.5 L939.7 159 L939.7 158.5 L939.7 158 L939.7 157.5 L939.7 157 L939.7 156.5 L939.7 156 L939.7 155.5 L939.7 155 L939.7 154.5 L939.7 154 L939.7 153.5 L939.7 153 L939.7 152.5 L939.7 152 L939.7 151.5 L939.7 151 L939.7 150.5 L939.7 150 L939.7 149.5 L939.7 149 L939.7 148.5 L939.7 148 L939.7 147.5 L939.7 147 L939.7 146.5 L939.7 146 L939.7 145.5 L939.7 145 L939.7 144.5 L939.7 144 L939.7 143.5 L939.7 143 L939.7 142.5 L939.7 142 L939.7 141.5 L939.7 141 L939.7 140.5 L939.7 140 L939.7 139.5 L939.7 139 L939.7 138.5 L939.7 138 L939.7 137.5 L939.7 137 L939.7 136.5 L939.7 136 L939.7 135.5 L939.7 135 L939.7 134.5 L939.7 134 L939.7 133.5 L939.7 133 L939.7 132.5 L939.7 132 L939.7 131.5 L939.7 131 L939.7 130.5 L939.7 130 L939.7 129.5 L939.7 129 L939.7 128.5 L939.7 128 L939.7 127.5 L939.7 127 L939.7 126.5 L939.7 126 L939.7 125.5 L939.7 125 L939.7 124.5 L939.7 124 L939.7 123.5 L939.7 123 L939.7 122.5 L939.7 122 L939.7 121.5 L939.7 121 L939.7 120.5 L939.7 120 L939.7 119.5 L939.7 119 L939.7 118.5 L939.7 118 L939.7 117.5 L939.7 117 L939.7 116.5 L939.7 116 L939.7 115.5 L939.7 115 L939.7 114.5 L939.7 114 L939.7 113.5 L939.7 113 L939.7 112.5 L939.7 112 L939.7 111.5 L939.7 111 L939.7 110.5 L939.7 110 L939.7 109.5 L939.7 109 L939.7 108.5 L939.7 108 L939.7 107.5 L939.7 107 L939.7 106.5 L939.7 106 L939.7 105.5 L939.7 105 L939.7 104.5 L939.7 104 L939.7 103.5 L939.7 103 L939.7 102.5 L939.7 102 L939.7 101.5 L939.7 101 L939.7 100.5 L939.7 100 L939.7 99.5 L939.7 99 L939.7 98.5 L939.7 98 L939.7 97.5 L939.7 97 Z"/>
<path d="M843.7 497.3 L843.99 497.8 L844.06 498.3 L844.12 498.8 L844.17 499.3 L844.21 499.8 L844.24 500.3 L844.26 500.8 L844.28 501.3 L844.29 501.8 L844.31 502.3 L844.32 502.8 L844.34 503.3 L844.36 503.8 L844.4 504.3 L844.43 504.8 L844.49 505.3 L844.55 505.8 L844.65 506.3 L844.82 506.8 L845.06 507.3 L845.35 507.8 L845.68 508.3 L846.18 508.8 L846.87 509.3 L847.66 509.8 L848.47 510.3 L849.27 510.8 L850.09 511.3 L851 511.8 L852.02 512.3 L853.21 512.8 L854.59 513.3 L856.2 513.8 L858.19 514.3 L860.73 514.8 L864.09 515.3 L870.98 515.8 L877.12 516.3 L881.26 516.8 L882.74 517.3 L880.93 517.8 L875.47 518.3 L868.74 518.8 L863.03 519.3 L857.78 519.8 L853.6 520.3 L850.21 520.8 L847.47 521.3 L845.38 521.8 L843.7 522.4 L842.02 521.8 L839.93 521.3 L837.19 520.8 L833.8 520.3 L829.62 519.8 L824.37 519.3 L818.66 518.8 L811.93 518.3 L806.47 517.8 L804.66 517.3 L806.14 516.8 L810.28 516.3 L816.42 515.8 L823.31 515.3 L826.67 514.8 L829.21 514.3 L831.2 513.8 L832.81 513.3 L834.19 512.8 L835.38 512.3 L836.4 511.8 L837.31 511.3 L838.13 510.8 L838.93 510.3 L839.74 509.8 L840.53 509.3 L841.22 508.8 L841.72 508.3 L842.05 507.8 L842.34 507.3 L842.58 506.8 L842.75 506.3 L842.85 505.8 L842.91 505.3 L842.97 504.8 L843 504.3 L843.04 503.8 L843.06 503.3 L843.08 502.8 L843.09 502.3 L843.11 501.8 L843.12 501.3 L843.14 500.8 L843.16 500.3 L843.19 499.8 L843.23 499.3 L843.28 498.8 L843.34 498.3 L843.41 497.8 Z"/>
<path d="M1036.5 495.2 L1036.79 495.7 L1036.87 496.2 L1036.92 496.7 L1036.96 497.2 L1036.99 497.7 L1037.01 498.2 L1037.03 498.7 L1037.06 499.2 L1037.1 499.7 L1037.16 500.2 L1037.23 500.7 L1037.32 501.2 L1037.41 501.7 L1037.52 502.2 L1037.65 502.7 L1037.79 503.2 L1037.94 503.7 L1038.15 504.2 L1038.42 504.7 L1038.75 505.2 L1039.12 505.7 L1039.52 506.2 L1039.91 506.7 L1040.3 507.2 L1040.67 507.7 L1041.06 508.2 L1041.46 508.7 L1041.89 509.2 L1042.37 509.7 L1042.91 510.2 L1043.52 510.7 L1044.21 511.2 L1045.04 511.7 L1046.02 512.2 L1047.2 512.7 L1048.61 513.2 L1050.27 513.7 L1052.5 514.2 L1056.3 514.7 L1059.96 515.2 L1062.77 515.7 L1064.77 516.2 L1065.89 516.7 L1065.45 517.2 L1063.45 517.7 L1060.08 518.2 L1056.08 518.7 L1052.55 519.2 L1049.33 519.7 L1046.42 520.2 L1044.01 520.7 L1041.96 521.2 L1040.23 521.7 L1038.76 522.2 L1037.63 522.7 L1036.78 523.2 L1036.5 523.4 L1036.22 523.2 L1035.37 522.7 L1034.24 522.2 L1032.77 521.7 L1031.04 521.2 L1028.99 520.7 L1026.58 520.2 L1023.67 519.7 L1020.45 519.2 L1016.92 518.7 L1012.92 518.2 L1009.55 517.7 L1007.55 517.2 L1007.11 516.7 L1008.23 516.2 L1010.23 515.7 L1013.04 515.2 L1016.7 514.7 L1020.5 514.2 L1022.73 513.7 L1024.39 513.2 L1025.8 512.7 L1026.98 512.2 L1027.96 511.7 L1028.79 511.2 L1029.48 510.7 L1030.09 510.2 L1030.63 509.7 L1031.11 509.2 L1031.54 508.7 L1031.94 508.2 L1032.33 507.7 L1032.7 507.2 L1033.09 506.7 L1033.48 506.2 L1033.88 505.7 L1034.25 505.2 L1034.58 504.7 L1034.85 504.2 L1035.06 503.7 L1035.21 503.2 L1035.35 502.7 L1035.48 502.2 L1035.59 501.7 L1035.68 501.2 L1035.77 500.7 L1035.84 500.2 L1035.9 499.7 L1035.94 499.2 L1035.97 498.7 L1035.99 498.2 L1036.01 497.7 L1036.04 497.2 L1036.08 496.7 L1036.13 496.2 L1036.21 495.7 Z"/>
<path d="M1133 494.2 L1133.29 494.7 L1133.36 495.2 L1133.41 495.7 L1133.45 496.2 L1133.47 496.7 L1133.5 497.2 L1133.52 497.7 L1133.54 498.2 L1133.58 498.7 L1133.64 499.2 L1133.7 499.7 L1133.77 500.2 L1133.85 500.7 L1133.95 501.2 L1134.05 501.7 L1134.16 502.2 L1134.29 502.7 L1134.44 503.2 L1134.64 503.7 L1134.89 504.2 L1135.18 504.7 L1135.51 505.2 L1135.85 505.7 L1136.19 506.2 L1136.53 506.7 L1136.85 507.2 L1137.17 507.7 L1137.51 508.2 L1137.86 508.7 L1138.24 509.2 L1138.67 509.7 L1139.15 510.2 L1139.7 510.7 L1140.33 511.2 L1141.1 511.7 L1142.04 512.2 L1143.17 512.7 L1144.52 513.2 L1146.11 513.7 L1148.24 514.2 L1151.85 514.7 L1155.34 515.2 L1158.02 515.7 L1159.93 516.2 L1160.99 516.7 L1160.52 517.2 L1158.19 517.7 L1154.6 518.2 L1150.49 518.7 L1147.07 519.2 L1143.81 519.7 L1141.11 520.2 L1138.86 520.7 L1136.98 521.2 L1135.41 521.7 L1134.19 522.2 L1133.29 522.7 L1133 522.9 L1132.71 522.7 L1131.81 522.2 L1130.59 521.7 L1129.02 521.2 L1127.14 520.7 L1124.89 520.2 L1122.19 519.7 L1118.93 519.2 L1115.51 518.7 L1111.4 518.2 L1107.81 517.7 L1105.48 517.2 L1105.01 516.7 L1106.07 516.2 L1107.98 515.7 L1110.66 515.2 L1114.15 514.7 L1117.76 514.2 L1119.89 513.7 L1121.48 513.2 L1122.83 512.7 L1123.96 512.2 L1124.9 511.7 L1125.67 511.2 L1126.3 510.7 L1126.85 510.2 L1127.33 509.7 L1127.76 509.2 L1128.14 508.7 L1128.49 508.2 L1128.83 507.7 L1129.15 507.2 L1129.47 506.7 L1129.81 506.2 L1130.15 505.7 L1130.49 505.2 L1130.82 504.7 L1131.11 504.2 L1131.36 503.7 L1131.56 503.2 L1131.71 502.7 L1131.84 502.2 L1131.95 501.7 L1132.05 501.2 L1132.15 500.7 L1132.23 500.2 L1132.3 499.7 L1132.36 499.2 L1132.42 498.7 L1132.46 498.2 L1132.48 497.7 L1132.5 497.2 L1132.53 496.7 L1132.55 496.2 L1132.59 495.7 L1132.64 495.2 L1132.71 494.7 Z"/>
<path d="M1229.3 496.7 L1229.6 497.2 L1229.7 497.7 L1229.77 498.2 L1229.82 498.7 L1229.85 499.2 L1229.88 499.7 L1229.92 500.2 L1229.97 500.7 L1230.05 501.2 L1230.13 501.7 L1230.23 502.2 L1230.34 502.7 L1230.46 503.2 L1230.59 503.7 L1230.75 504.2 L1230.93 504.7 L1231.15 505.2 L1231.46 505.7 L1231.84 506.2 L1232.25 506.7 L1232.69 507.2 L1233.14 507.7 L1233.57 508.2 L1233.99 508.7 L1234.41 509.2 L1234.85 509.7 L1235.33 510.2 L1235.87 510.7 L1236.48 511.2 L1237.18 511.7 L1238 512.2 L1238.99 512.7 L1240.22 513.2 L1241.77 513.7 L1243.71 514.2 L1246.14 514.7 L1251.37 515.2 L1256.69 515.7 L1260.47 516.2 L1262.37 516.7 L1261.74 517.2 L1258.38 517.7 L1253.58 518.2 L1248.52 518.7 L1244.22 519.2 L1240.34 519.7 L1237.21 520.2 L1234.63 520.7 L1232.51 521.2 L1230.86 521.7 L1229.67 522.2 L1229.3 522.4 L1228.93 522.2 L1227.74 521.7 L1226.09 521.2 L1223.97 520.7 L1221.39 520.2 L1218.26 519.7 L1214.38 519.2 L1210.08 518.7 L1205.02 518.2 L1200.22 517.7 L1196.86 517.2 L1196.23 516.7 L1198.13 516.2 L1201.91 515.7 L1207.23 515.2 L1212.46 514.7 L1214.89 514.2 L1216.83 513.7 L1218.38 513.2 L1219.61 512.7 L1220.6 512.2 L1221.42 511.7 L1222.12 511.2 L1222.73 510.7 L1223.27 510.2 L1223.75 509.7 L1224.19 509.2 L1224.61 508.7 L1225.03 508.2 L1225.46 507.7 L1225.91 507.2 L1226.35 506.7 L1226.76 506.2 L1227.14 505.7 L1227.45 505.2 L1227.67 504.7 L1227.85 504.2 L1228.01 503.7 L1228.14 503.2 L1228.26 502.7 L1228.37 502.2 L1228.47 501.7 L1228.55 501.2 L1228.63 500.7 L1228.68 500.2 L1228.72 499.7 L1228.75 499.2 L1228.78 498.7 L1228.83 498.2 L1228.9 497.7 L1229 497.2 Z"/>
<path d="M1325.7 498.9 L1326.01 499.4 L1326.12 499.9 L1326.2 500.4 L1326.26 500.9 L1326.3 501.4 L1326.35 501.9 L1326.4 502.4 L1326.46 502.9 L1326.56 503.4 L1326.68 503.9 L1326.82 504.4 L1326.98 504.9 L1327.16 505.4 L1327.38 505.9 L1327.64 506.4 L1328 506.9 L1328.49 507.4 L1329.06 507.9 L1329.67 508.4 L1330.27 508.9 L1330.85 509.4 L1331.44 509.9 L1332.05 510.4 L1332.72 510.9 L1333.49 511.4 L1334.39 511.9 L1335.43 512.4 L1336.72 512.9 L1338.35 513.4 L1340.41 513.9 L1342.99 514.4 L1346.84 514.9 L1353.54 515.4 L1358.73 515.9 L1362.18 516.4 L1363.2 516.9 L1361.75 517.4 L1357.28 517.9 L1351.83 518.4 L1346.62 518.9 L1342.01 519.4 L1337.92 519.9 L1334.58 520.4 L1331.81 520.9 L1329.5 521.4 L1327.66 521.9 L1326.32 522.4 L1325.7 522.7 L1325.08 522.4 L1323.74 521.9 L1321.9 521.4 L1319.59 520.9 L1316.82 520.4 L1313.48 519.9 L1309.39 519.4 L1304.78 518.9 L1299.57 518.4 L1294.12 517.9 L1289.65 517.4 L1288.2 516.9 L1289.22 516.4 L1292.67 515.9 L1297.86 515.4 L1304.56 514.9 L1308.41 514.4 L1310.99 513.9 L1313.05 513.4 L1314.68 512.9 L1315.97 512.4 L1317.01 511.9 L1317.91 511.4 L1318.68 510.9 L1319.35 510.4 L1319.96 509.9 L1320.55 509.4 L1321.13 508.9 L1321.73 508.4 L1322.34 507.9 L1322.91 507.4 L1323.4 506.9 L1323.76 506.4 L1324.02 505.9 L1324.24 505.4 L1324.42 504.9 L1324.58 504.4 L1324.72 503.9 L1324.84 503.4 L1324.94 502.9 L1325 502.4 L1325.05 501.9 L1325.1 501.4 L1325.14 500.9 L1325.2 500.4 L1325.28 499.9 L1325.39 499.4 Z"/>
</g>
<g fill="#fff" stroke="#3c4a4a" stroke-width="0.7">
<circle cx="940" cy="248.9" r="3.45"/>
<circle cx="843.7" cy="516.6" r="3.45"/>
<circle cx="1036.5" cy="516.3" r="3.45"/>
<circle cx="1133" cy="516.3" r="3.45"/>
<circle cx="1229.3" cy="516.3" r="3.45"/>
<circle cx="1325.7" cy="516.3" r="3.45"/>
</g>
<g stroke="#0a0a0a" stroke-width="2.4" fill="none">
<path d="M795.45 59.4 V526.1 H1375.2"/>
<path d="M843.7 526.1 v9.5"/>
<path d="M940 526.1 v9.5"/>
<path d="M1036.5 526.1 v9.5"/>
<path d="M1133 526.1 v9.5"/>
<path d="M1229.3 526.1 v9.5"/>
<path d="M1325.7 526.1 v9.5"/>
<path d="M795.45 517.75 h-9.5"/>
<path d="M795.45 434.55 h-9.5"/>
<path d="M795.45 351.35 h-9.5"/>
<path d="M795.45 268.15 h-9.5"/>
<path d="M795.45 184.95 h-9.5"/>
<path d="M795.45 101.75 h-9.5"/>
</g>
<g font-family='"Liberation Sans", sans-serif' font-size="23.6" fill="#0d0d0d">
<g text-anchor="middle">
<text x="843.7" y="559.9">5xR1</text>
<text x="940" y="559.9">5xR2</text>
<text x="1036.5" y="559.9">7xR3</text>
<text x="1133" y="559.9">7xR4</text>
<text x="1229.3" y="559.9">5xR5</text>
<text x="1325.7" y="559.9">5xR6</text>
</g>
<g text-anchor="end">
<text x="779.95" y="524.65">0</text>
<text x="779.95" y="441.45">100</text>
<text x="779.95" y="358.25">200</text>
<text x="779.95" y="275.05">300</text>
<text x="779.95" y="191.85">400</text>
<text x="779.95" y="108.65">500</text>
</g>
</g>
<rect x="941.7" y="2" width="249.8" height="43.9" fill="#fff" stroke="#1a1a1a" stroke-width="3.2"/>
<text x="1067.2" y="35.3" text-anchor="middle" font-family='"Liberation Sans", sans-serif' font-size="33.2" fill="#0d0d0d">R2: GGTGGT</text>
</g>
<g>
<g fill="#689a9e" stroke="#2e3030" stroke-width="1.5" stroke-linejoin="round">
<path d="M1712.3 101.9 L1712.6 102.4 L1712.6 102.9 L1712.6 103.4 L1712.6 103.9 L1712.6 104.4 L1712.6 104.9 L1712.6 105.4 L1712.6 105.9 L1712.6 106.4 L1712.6 106.9 L1712.6 107.4 L1712.6 107.9 L1712.6 108.4 L1712.6 108.9 L1712.6 109.4 L1712.6 109.9 L1712.6 110.4 L1712.6 110.9 L1712.6 111.4 L1712.6 111.9 L1712.6 112.4 L1712.6 112.9 L1712.6 113.4 L1712.6 113.9 L1712.6 114.4 L1712.6 114.9 L1712.6 115.4 L1712.6 115.9 L1712.6 116.4 L1712.6 116.9 L1712.6 117.4 L1712.6 117.9 L1712.6 118.4 L1712.6 118.9 L1712.6 119.4 L1712.6 119.9 L1712.6 120.4 L1712.6 120.9 L1712.6 121.4 L1712.6 121.9 L1712.6 122.4 L1712.6 122.9 L1712.6 123.4 L1712.6 123.9 L1712.6 124.4 L1712.6 124.9 L1712.6 125.4 L1712.6 125.9 L1712.6 126.4 L1712.6 126.9 L1712.6 127.4 L1712.6 127.9 L1712.6 128.4 L1712.6 128.9 L1712.6 129.4 L1712.6 129.9 L1712.6 130.4 L1712.6 130.9 L1712.6 131.4 L1712.6 131.9 L1712.6 132.4 L1712.6 132.9 L1712.6 133.4 L1712.6 133.9 L1712.6 134.4 L1712.6 134.9 L1712.6 135.4 L1712.6 135.9 L1712.6 136.4 L1712.6 136.9 L1712.6 137.4 L1712.6 137.9 L1712.6 138.4 L1712.6 138.9 L1712.6 139.4 L1712.6 139.9 L1712.6 140.4 L1712.6 140.9 L1712.61 141.4 L1712.62 141.9 L1712.63 142.4 L1712.64 142.9 L1712.66 143.4 L1712.67 143.9 L1712.69 144.4 L1712.71 144.9 L1712.74 145.4 L1712.76 145.9 L1712.79 146.4 L1712.81 146.9 L1712.84 147.4 L1712.87 147.9 L1712.9 148.4 L1712.94 148.9 L1712.99 149.4 L1713.05 149.9 L1713.12 150.4 L1713.2 150.9 L1713.29 151.4 L1713.38 151.9 L1713.48 152.4 L1713.59 152.9 L1713.73 153.4 L1713.89 153.9 L1714.05 154.4 L1714.23 154.9 L1714.42 155.4 L1714.6 155.9 L1714.79 156.4 L1714.98 156.9 L1715.17 157.4 L1715.36 157.9 L1715.56 158.4 L1715.77 158.9 L1715.97 159.4 L1716.19 159.9 L1716.4 160.4 L1716.62 160.9 L1716.85 161.4 L1717.08 161.9 L1717.31 162.4 L1717.55 162.9 L1717.78 163.4 L1718.02 163.9 L1718.26 164.4 L1718.49 164.9 L1718.73 165.4 L1718.96 165.9 L1719.19 166.4 L1719.42 166.9 L1719.64 167.4 L1719.87 167.9 L1720.09 168.4 L1720.32 168.9 L1720.54 169.4 L1720.76 169.9 L1720.98 170.4 L1721.2 170.9 L1721.42 171.4 L1721.64 171.9 L1721.86 172.4 L1722.08 172.9 L1722.3 173.4 L1722.51 173.9 L1722.73 174.4 L1722.95 174.9 L1723.16 175.4 L1723.38 175.9 L1723.59 176.4 L1723.81 176.9 L1724.02 177.4 L1724.24 177.9 L1724.45 178.4 L1724.66 178.9 L1724.88 179.4 L1725.09 179.9 L1725.3 180.4 L1725.52 180.9 L1725.73 181.4 L1725.94 181.9 L1726.16 182.4 L1726.37 182.9 L1726.59 183.4 L1726.8 183.9 L1727.02 184.4 L1727.23 184.9 L1727.45 185.4 L1727.66 185.9 L1727.87 186.4 L1728.09 186.9 L1728.3 187.4 L1728.52 187.9 L1728.73 188.4 L1728.94 188.9 L1729.16 189.4 L1729.37 189.9 L1729.58 190.4 L1729.8 190.9 L1730.01 191.4 L1730.22 191.9 L1730.43 192.4 L1730.65 192.9 L1730.86 193.4 L1731.07 193.9 L1731.28 194.4 L1731.49 194.9 L1731.7 195.4 L1731.91 195.9 L1732.12 196.4 L1732.33 196.9 L1732.54 197.4 L1732.75 197.9 L1732.96 198.4 L1733.17 198.9 L1733.38 199.4 L1733.59 199.9 L1733.8 200.4 L1734.01 200.9 L1734.22 201.4 L1734.42 201.9 L1734.63 202.4 L1734.84 202.9 L1735.04 203.4 L1735.24 203.9 L1735.44 204.4 L1735.64 204.9 L1735.83 205.4 L1736.02 205.9 L1736.2 206.4 L1736.38 206.9 L1736.56 207.4 L1736.74 207.9 L1736.91 208.4 L1737.08 208.9 L1737.24 209.4 L1737.41 209.9 L1737.57 210.4 L1737.73 210.9 L1737.89 211.4 L1738.04 211.9 L1738.19 212.4 L1738.33 212.9 L1738.48 213.4 L1738.61 213.9 L1738.75 214.4 L1738.88 214.9 L1739 215.4 L1739.12 215.9 L1739.24 216.4 L1739.36 216.9 L1739.47 217.4 L1739.57 217.9 L1739.68 218.4 L1739.78 218.9 L1739.88 219.4 L1739.97 219.9 L1740.06 220.4 L1740.16 220.9 L1740.24 221.4 L1740.33 221.9 L1740.41 222.4 L1740.49 222.9 L1740.57 223.4 L1740.64 223.9 L1740.71 224.4 L1740.77 224.9 L1740.83 225.4 L1740.89 225.9 L1740.94 226.4 L1740.99 226.9 L1741.03 227.4 L1741.07 227.9 L1741.1 228.4 L1741.12 228.9 L1741.14 229.4 L1741.15 229.9 L1741.15 230.4 L1741.13 230.9 L1741.12 231.4 L1741.09 231.9 L1741.05 232.4 L1741.01 232.9 L1740.96 233.4 L1740.9 233.9 L1740.83 234.4 L1740.76 234.9 L1740.67 235.4 L1740.58 235.9 L1740.48 236.4 L1740.37 236.9 L1740.26 237.4 L1740.14 237.9 L1740.02 238.4 L1739.9 238.9 L1739.77 239.4 L1739.64 239.9 L1739.51 240.4 L1739.38 240.9 L1739.25 241.4 L1739.11 241.9 L1738.97 242.4 L1738.83 242.9 L1738.68 243.4 L1738.53 243.9 L1738.37 244.4 L1738.21 244.9 L1738.05 245.4 L1737.88 245.9 L1737.71 246.4 L1737.54 246.9 L1737.36 247.4 L1737.17 247.9 L1736.98 248.4 L1736.78 248.9 L1736.58 249.4 L1736.38 249.9 L1736.17 250.4 L1735.96 250.9 L1735.75 251.4 L1735.54 251.9 L1735.33 252.4 L1735.12 252.9 L1734.9 253.4 L1734.69 253.9 L1734.48 254.4 L1734.27 254.9 L1734.06 255.4 L1733.84 255.9 L1733.63 256.4 L1733.42 256.9 L1733.2 257.4 L1732.98 257.9 L1732.76 258.4 L1732.53 258.9 L1732.31 259.4 L1732.08 259.9 L1731.84 260.4 L1731.61 260.9 L1731.37 261.4 L1731.12 261.9 L1730.88 262.4 L1730.63 262.9 L1730.38 263.4 L1730.12 263.9 L1729.87 264.4 L1729.6 264.9 L1729.34 265.4 L1729.07 265.9 L1728.81 266.4 L1728.53 266.9 L1728.26 267.4 L1727.98 267.9 L1727.7 268.4 L1727.42 268.9 L1727.13 269.4 L1726.84 269.9 L1726.54 270.4 L1726.24 270.9 L1725.93 271.4 L1725.61 271.9 L1725.29 272.4 L1724.95 272.9 L1724.6 273.4 L1724.25 273.9 L1723.87 274.4 L1723.49 274.9 L1723.1 275.4 L1722.69 275.9 L1722.28 276.4 L1721.85 276.9 L1721.42 277.4 L1720.98 277.9 L1720.53 278.4 L1720.08 278.9 L1719.63 279.4 L1719.17 279.9 L1718.71 280.4 L1718.25 280.9 L1717.79 281.4 L1717.35 281.9 L1716.9 282.4 L1716.46 282.9 L1716.05 283.4 L1715.65 283.9 L1715.27 284.4 L1714.91 284.9 L1714.56 285.4 L1714.24 285.9 L1713.96 286.4 L1713.71 286.9 L1713.51 287.4 L1713.31 287.9 L1713.14 288.4 L1712.99 288.9 L1712.86 289.4 L1712.75 289.9 L1712.67 290.4 L1712.6 290.9 L1712.53 291.4 L1712.47 291.9 L1712.41 292.4 L1712.37 292.9 L1712.33 293.4 L1712.31 293.9 L1712.3 294.4 L1712.29 293.9 L1712.27 293.4 L1712.23 292.9 L1712.19 292.4 L1712.13 291.9 L1712.07 291.4 L1712 290.9 L1711.93 290.4 L1711.85 289.9 L1711.74 289.4 L1711.61 288.9 L1711.46 288.4 L1711.29 287.9 L1711.09 287.4 L1710.89 286.9 L1710.64 286.4 L1710.36 285.9 L1710.04 285.4 L1709.69 284.9 L1709.33 284.4 L1708.95 283.9 L1708.55 283.4 L1708.14 282.9 L1707.7 282.4 L1707.25 281.9 L1706.81 281.4 L1706.35 280.9 L1705.89 280.4 L1705.43 279.9 L1704.97 279.4 L1704.52 278.9 L1704.07 278.4 L1703.62 277.9 L1703.18 277.4 L1702.75 276.9 L1702.32 276.4 L1701.91 275.9 L1701.5 275.4 L1701.11 274.9 L1700.73 274.4 L1700.35 273.9 L1700 273.4 L1699.65 272.9 L1699.31 272.4 L1698.99 271.9 L1698.67 271.4 L1698.36 270.9 L1698.06 270.4 L1697.76 269.9 L1697.47 269.4 L1697.18 268.9 L1696.9 268.4 L1696.62 267.9 L1696.34 267.4 L1696.07 266.9 L1695.79 266.4 L1695.53 265.9 L1695.26 265.4 L1695 264.9 L1694.73 264.4 L1694.48 263.9 L1694.22 263.4 L1693.97 262.9 L1693.72 262.4 L1693.48 261.9 L1693.23 261.4 L1692.99 260.9 L1692.76 260.4 L1692.52 259.9 L1692.29 259.4 L1692.07 258.9 L1691.84 258.4 L1691.62 257.9 L1691.4 257.4 L1691.18 256.9 L1690.97 256.4 L1690.76 255.9 L1690.54 255.4 L1690.33 254.9 L1690.12 254.4 L1689.91 253.9 L1689.7 253.4 L1689.48 252.9 L1689.27 252.4 L1689.06 251.9 L1688.85 251.4 L1688.64 250.9 L1688.43 250.4 L1688.22 249.9 L1688.02 249.4 L1687.82 248.9 L1687.62 248.4 L1687.43 247.9 L1687.24 247.4 L1687.06 246.9 L1686.89 246.4 L1686.72 245.9 L1686.55 245.4 L1686.39 244.9 L1686.23 244.4 L1686.07 243.9 L1685.92 243.4 L1685.77 242.9 L1685.63 242.4 L1685.49 241.9 L1685.35 241.4 L1685.22 240.9 L1685.09 240.4 L1684.96 239.9 L1684.83 239.4 L1684.7 238.9 L1684.58 238.4 L1684.46 237.9 L1684.34 237.4 L1684.23 236.9 L1684.12 236.4 L1684.02 235.9 L1683.93 235.4 L1683.84 234.9 L1683.77 234.4 L1683.7 233.9 L1683.64 233.4 L1683.59 232.9 L1683.55 232.4 L1683.51 231.9 L1683.48 231.4 L1683.47 230.9 L1683.45 230.4 L1683.45 229.9 L1683.46 229.4 L1683.48 228.9 L1683.5 228.4 L1683.53 227.9 L1683.57 227.4 L1683.61 226.9 L1683.66 226.4 L1683.71 225.9 L1683.77 225.4 L1683.83 224.9 L1683.89 224.4 L1683.96 223.9 L1684.03 223.4 L1684.11 222.9 L1684.19 222.4 L1684.27 221.9 L1684.36 221.4 L1684.44 220.9 L1684.54 220.4 L1684.63 219.9 L1684.72 219.4 L1684.82 218.9 L1684.92 218.4 L1685.03 217.9 L1685.13 217.4 L1685.24 216.9 L1685.36 216.4 L1685.48 215.9 L1685.6 215.4 L1685.72 214.9 L1685.85 214.4 L1685.99 213.9 L1686.12 213.4 L1686.27 212.9 L1686.41 212.4 L1686.56 211.9 L1686.71 211.4 L1686.87 210.9 L1687.03 210.4 L1687.19 209.9 L1687.36 209.4 L1687.52 208.9 L1687.69 208.4 L1687.86 207.9 L1688.04 207.4 L1688.22 206.9 L1688.4 206.4 L1688.58 205.9 L1688.77 205.4 L1688.96 204.9 L1689.16 204.4 L1689.36 203.9 L1689.56 203.4 L1689.76 202.9 L1689.97 202.4 L1690.18 201.9 L1690.38 201.4 L1690.59 200.9 L1690.8 200.4 L1691.01 199.9 L1691.22 199.4 L1691.43 198.9 L1691.64 198.4 L1691.85 197.9 L1692.06 197.4 L1692.27 196.9 L1692.48 196.4 L1692.69 195.9 L1692.9 195.4 L1693.11 194.9 L1693.32 194.4 L1693.53 193.9 L1693.74 193.4 L1693.95 192.9 L1694.17 192.4 L1694.38 191.9 L1694.59 191.4 L1694.8 190.9 L1695.02 190.4 L1695.23 189.9 L1695.44 189.4 L1695.66 188.9 L1695.87 188.4 L1696.08 187.9 L1696.3 187.4 L1696.51 186.9 L1696.73 186.4 L1696.94 185.9 L1697.15 185.4 L1697.37 184.9 L1697.58 184.4 L1697.8 183.9 L1698.01 183.4 L1698.23 182.9 L1698.44 182.4 L1698.66 181.9 L1698.87 181.4 L1699.08 180.9 L1699.3 180.4 L1699.51 179.9 L1699.72 179.4 L1699.94 178.9 L1700.15 178.4 L1700.36 177.9 L1700.58 177.4 L1700.79 176.9 L1701.01 176.4 L1701.22 175.9 L1701.44 175.4 L1701.65 174.9 L1701.87 174.4 L1702.09 173.9 L1702.3 173.4 L1702.52 172.9 L1702.74 172.4 L1702.96 171.9 L1703.18 171.4 L1703.4 170.9 L1703.62 170.4 L1703.84 169.9 L1704.06 169.4 L1704.28 168.9 L1704.51 168.4 L1704.73 167.9 L1704.96 167.4 L1705.18 166.9 L1705.41 166.4 L1705.64 165.9 L1705.87 165.4 L1706.11 164.9 L1706.34 164.4 L1706.58 163.9 L1706.82 163.4 L1707.05 162.9 L1707.29 162.4 L1707.52 161.9 L1707.75 161.4 L1707.98 160.9 L1708.2 160.4 L1708.41 159.9 L1708.63 159.4 L1708.83 158.9 L1709.04 158.4 L1709.24 157.9 L1709.43 157.4 L1709.62 156.9 L1709.81 156.4 L1710 155.9 L1710.18 155.4 L1710.37 154.9 L1710.55 154.4 L1710.71 153.9 L1710.87 153.4 L1711.01 152.9 L1711.12 152.4 L1711.22 151.9 L1711.31 151.4 L1711.4 150.9 L1711.48 150.4 L1711.55 149.9 L1711.61 149.4 L1711.66 148.9 L1711.7 148.4 L1711.73 147.9 L1711.76 147.4 L1711.79 146.9 L1711.81 146.4 L1711.84 145.9 L1711.86 145.4 L1711.89 144.9 L1711.91 144.4 L1711.93 143.9 L1711.94 143.4 L1711.96 142.9 L1711.97 142.4 L1711.98 141.9 L1711.99 141.4 L1712 140.9 L1712 140.4 L1712 139.9 L1712 139.4 L1712 138.9 L1712 138.4 L1712 137.9 L1712 137.4 L1712 136.9 L1712 136.4 L1712 135.9 L1712 135.4 L1712 134.9 L1712 134.4 L1712 133.9 L1712 133.4 L1712 132.9 L1712 132.4 L1712 131.9 L1712 131.4 L1712 130.9 L1712 130.4 L1712 129.9 L1712 129.4 L1712 128.9 L1712 128.4 L1712 127.9 L1712 127.4 L1712 126.9 L1712 126.4 L1712 125.9 L1712 125.4 L1712 124.9 L1712 124.4 L1712 123.9 L1712 123.4 L1712 122.9 L1712 122.4 L1712 121.9 L1712 121.4 L1712 120.9 L1712 120.4 L1712 119.9 L1712 119.4 L1712 118.9 L1712 118.4 L1712 117.9 L1712 117.4 L1712 116.9 L1712 116.4 L1712 115.9 L1712 115.4 L1712 114.9 L1712 114.4 L1712 113.9 L1712 113.4 L1712 112.9 L1712 112.4 L1712 111.9 L1712 111.4 L1712 110.9 L1712 110.4 L1712 109.9 L1712 109.4 L1712 108.9 L1712 108.4 L1712 107.9 L1712 107.4 L1712 106.9 L1712 106.4 L1712 105.9 L1712 105.4 L1712 104.9 L1712 104.4 L1712 103.9 L1712 103.4 L1712 102.9 L1712 102.4 Z"/>
<path d="M1519.6 477.4 L1519.9 477.9 L1520.01 478.4 L1520.09 478.9 L1520.15 479.4 L1520.2 479.9 L1520.24 480.4 L1520.28 480.9 L1520.31 481.4 L1520.35 481.9 L1520.4 482.4 L1520.46 482.9 L1520.53 483.4 L1520.6 483.9 L1520.67 484.4 L1520.74 484.9 L1520.81 485.4 L1520.89 485.9 L1520.97 486.4 L1521.06 486.9 L1521.16 487.4 L1521.26 487.9 L1521.37 488.4 L1521.5 488.9 L1521.64 489.4 L1521.81 489.9 L1522.02 490.4 L1522.26 490.9 L1522.53 491.4 L1522.81 491.9 L1523.11 492.4 L1523.42 492.9 L1523.73 493.4 L1524.05 493.9 L1524.35 494.4 L1524.66 494.9 L1524.96 495.4 L1525.26 495.9 L1525.57 496.4 L1525.88 496.9 L1526.21 497.4 L1526.55 497.9 L1526.9 498.4 L1527.28 498.9 L1527.68 499.4 L1528.11 499.9 L1528.57 500.4 L1529.06 500.9 L1529.59 501.4 L1530.14 501.9 L1530.72 502.4 L1531.35 502.9 L1532.05 503.4 L1532.83 503.9 L1533.71 504.4 L1534.7 504.9 L1535.82 505.4 L1537.09 505.9 L1538.53 506.4 L1540.51 506.9 L1544.05 507.4 L1548.09 507.9 L1551.39 508.4 L1554.15 508.9 L1556.41 509.4 L1557.91 509.9 L1558.7 510.4 L1557.8 510.9 L1553.7 511.4 L1548.13 511.9 L1542.33 512.4 L1537.38 512.9 L1532.86 513.4 L1529.22 513.9 L1526.2 514.4 L1523.7 514.9 L1521.71 515.4 L1520.26 515.9 L1519.6 516.2 L1518.94 515.9 L1517.49 515.4 L1515.5 514.9 L1513 514.4 L1509.98 513.9 L1506.34 513.4 L1501.82 512.9 L1496.87 512.4 L1491.07 511.9 L1485.5 511.4 L1481.4 510.9 L1480.5 510.4 L1481.29 509.9 L1482.79 509.4 L1485.05 508.9 L1487.81 508.4 L1491.11 507.9 L1495.15 507.4 L1498.69 506.9 L1500.67 506.4 L1502.11 505.9 L1503.38 505.4 L1504.5 504.9 L1505.49 504.4 L1506.37 503.9 L1507.15 503.4 L1507.85 502.9 L1508.48 502.4 L1509.06 501.9 L1509.61 501.4 L1510.14 500.9 L1510.63 500.4 L1511.09 499.9 L1511.52 499.4 L1511.92 498.9 L1512.3 498.4 L1512.65 497.9 L1512.99 497.4 L1513.32 496.9 L1513.63 496.4 L1513.94 495.9 L1514.24 495.4 L1514.54 494.9 L1514.85 494.4 L1515.15 493.9 L1515.47 493.4 L1515.78 492.9 L1516.09 492.4 L1516.39 491.9 L1516.67 491.4 L1516.94 490.9 L1517.18 490.4 L1517.39 489.9 L1517.56 489.4 L1517.7 488.9 L1517.83 488.4 L1517.94 487.9 L1518.04 487.4 L1518.14 486.9 L1518.23 486.4 L1518.31 485.9 L1518.39 485.4 L1518.46 484.9 L1518.53 484.4 L1518.6 483.9 L1518.67 483.4 L1518.74 482.9 L1518.8 482.4 L1518.85 481.9 L1518.89 481.4 L1518.92 480.9 L1518.96 480.4 L1519 479.9 L1519.05 479.4 L1519.11 478.9 L1519.19 478.4 L1519.3 477.9 Z"/>
<path d="M1616 479.5 L1616.28 480 L1616.33 480.5 L1616.38 481 L1616.41 481.5 L1616.44 482 L1616.46 482.5 L1616.47 483 L1616.48 483.5 L1616.5 484 L1616.51 484.5 L1616.53 485 L1616.55 485.5 L1616.58 486 L1616.62 486.5 L1616.66 487 L1616.72 487.5 L1616.78 488 L1616.85 488.5 L1616.92 489 L1617.01 489.5 L1617.1 490 L1617.2 490.5 L1617.31 491 L1617.43 491.5 L1617.59 492 L1617.78 492.5 L1618.01 493 L1618.26 493.5 L1618.52 494 L1618.79 494.5 L1619.07 495 L1619.34 495.5 L1619.61 496 L1619.89 496.5 L1620.17 497 L1620.46 497.5 L1620.77 498 L1621.08 498.5 L1621.42 499 L1621.76 499.5 L1622.13 500 L1622.52 500.5 L1622.93 501 L1623.35 501.5 L1623.76 502 L1624.18 502.5 L1624.62 503 L1625.11 503.5 L1625.64 504 L1626.23 504.5 L1626.9 505 L1627.66 505.5 L1628.52 506 L1629.49 506.5 L1630.99 507 L1633.44 507.5 L1636.12 508 L1638.3 508.5 L1640.14 509 L1641.68 509.5 L1642.71 510 L1643.38 510.5 L1643.1 511 L1641.72 511.5 L1638.86 512 L1635.54 512.5 L1632.21 513 L1629.36 513.5 L1626.61 514 L1624.29 514.5 L1622.31 515 L1620.61 515.5 L1619.16 516 L1617.93 516.5 L1616.98 517 L1616.24 517.5 L1616 517.7 L1615.76 517.5 L1615.02 517 L1614.07 516.5 L1612.84 516 L1611.39 515.5 L1609.69 515 L1607.71 514.5 L1605.39 514 L1602.64 513.5 L1599.79 513 L1596.46 512.5 L1593.14 512 L1590.28 511.5 L1588.9 511 L1588.62 510.5 L1589.29 510 L1590.32 509.5 L1591.86 509 L1593.7 508.5 L1595.88 508 L1598.56 507.5 L1601.01 507 L1602.51 506.5 L1603.48 506 L1604.34 505.5 L1605.1 505 L1605.77 504.5 L1606.36 504 L1606.89 503.5 L1607.38 503 L1607.82 502.5 L1608.24 502 L1608.65 501.5 L1609.07 501 L1609.48 500.5 L1609.87 500 L1610.24 499.5 L1610.58 499 L1610.92 498.5 L1611.23 498 L1611.54 497.5 L1611.83 497 L1612.11 496.5 L1612.39 496 L1612.66 495.5 L1612.93 495 L1613.21 494.5 L1613.48 494 L1613.74 493.5 L1613.99 493 L1614.22 492.5 L1614.41 492 L1614.57 491.5 L1614.69 491 L1614.8 490.5 L1614.9 490 L1614.99 489.5 L1615.08 489 L1615.15 488.5 L1615.22 488 L1615.28 487.5 L1615.34 487 L1615.38 486.5 L1615.42 486 L1615.45 485.5 L1615.47 485 L1615.49 484.5 L1615.5 484 L1615.52 483.5 L1615.53 483 L1615.54 482.5 L1615.56 482 L1615.59 481.5 L1615.62 481 L1615.67 480.5 L1615.72 480 Z"/>
<path d="M1809 484.9 L1809.29 485.4 L1809.37 485.9 L1809.43 486.4 L1809.47 486.9 L1809.5 487.4 L1809.52 487.9 L1809.55 488.4 L1809.6 488.9 L1809.65 489.4 L1809.71 489.9 L1809.77 490.4 L1809.84 490.9 L1809.9 491.4 L1809.98 491.9 L1810.06 492.4 L1810.15 492.9 L1810.25 493.4 L1810.36 493.9 L1810.48 494.4 L1810.65 494.9 L1810.85 495.4 L1811.09 495.9 L1811.34 496.4 L1811.61 496.9 L1811.89 497.4 L1812.17 497.9 L1812.44 498.4 L1812.71 498.9 L1812.98 499.4 L1813.25 499.9 L1813.53 500.4 L1813.82 500.9 L1814.13 501.4 L1814.46 501.9 L1814.82 502.4 L1815.21 502.9 L1815.63 503.4 L1816.1 503.9 L1816.58 504.4 L1817.09 504.9 L1817.67 505.4 L1818.34 505.9 L1819.13 506.4 L1820.07 506.9 L1821.2 507.4 L1822.55 507.9 L1824.99 508.4 L1829.34 508.9 L1832.78 509.4 L1835.39 509.9 L1836.86 510.4 L1836.74 510.9 L1835.44 511.4 L1832.48 511.9 L1829.04 512.4 L1825.56 512.9 L1822.59 513.4 L1819.72 513.9 L1817.33 514.4 L1815.29 514.9 L1813.54 515.4 L1812.05 515.9 L1810.8 516.4 L1809.85 516.9 L1809 517.5 L1808.15 516.9 L1807.2 516.4 L1805.95 515.9 L1804.46 515.4 L1802.71 514.9 L1800.67 514.4 L1798.28 513.9 L1795.41 513.4 L1792.44 512.9 L1788.96 512.4 L1785.52 511.9 L1782.56 511.4 L1781.26 510.9 L1781.14 510.4 L1782.61 509.9 L1785.22 509.4 L1788.66 508.9 L1793.01 508.4 L1795.45 507.9 L1796.8 507.4 L1797.93 506.9 L1798.87 506.4 L1799.66 505.9 L1800.33 505.4 L1800.91 504.9 L1801.42 504.4 L1801.9 503.9 L1802.37 503.4 L1802.79 502.9 L1803.18 502.4 L1803.54 501.9 L1803.87 501.4 L1804.18 500.9 L1804.47 500.4 L1804.75 499.9 L1805.02 499.4 L1805.29 498.9 L1805.56 498.4 L1805.83 497.9 L1806.11 497.4 L1806.39 496.9 L1806.66 496.4 L1806.91 495.9 L1807.15 495.4 L1807.35 494.9 L1807.52 494.4 L1807.64 493.9 L1807.75 493.4 L1807.85 492.9 L1807.94 492.4 L1808.02 491.9 L1808.1 491.4 L1808.16 490.9 L1808.23 490.4 L1808.29 489.9 L1808.35 489.4 L1808.4 488.9 L1808.45 488.4 L1808.48 487.9 L1808.5 487.4 L1808.53 486.9 L1808.57 486.4 L1808.63 485.9 L1808.71 485.4 Z"/>
<path d="M1905.2 484.9 L1905.48 485.4 L1905.55 485.9 L1905.61 486.4 L1905.65 486.9 L1905.68 487.4 L1905.71 487.9 L1905.73 488.4 L1905.75 488.9 L1905.76 489.4 L1905.78 489.9 L1905.79 490.4 L1905.82 490.9 L1905.84 491.4 L1905.88 491.9 L1905.92 492.4 L1905.98 492.9 L1906.05 493.4 L1906.12 493.9 L1906.21 494.4 L1906.32 494.9 L1906.43 495.4 L1906.55 495.9 L1906.69 496.4 L1906.84 496.9 L1907.02 497.4 L1907.26 497.9 L1907.55 498.4 L1907.88 498.9 L1908.23 499.4 L1908.59 499.9 L1908.96 500.4 L1909.31 500.9 L1909.66 501.4 L1910 501.9 L1910.35 502.4 L1910.71 502.9 L1911.1 503.4 L1911.52 503.9 L1911.99 504.4 L1912.51 504.9 L1913.09 505.4 L1913.74 505.9 L1914.44 506.4 L1915.25 506.9 L1916.25 507.4 L1917.54 507.9 L1919.18 508.4 L1921.27 508.9 L1926.44 509.4 L1933.21 509.9 L1936.96 510.4 L1937.59 510.9 L1935.25 511.4 L1929.22 511.9 L1923.22 512.4 L1918.04 512.9 L1913.89 513.4 L1910.62 513.9 L1908.06 514.4 L1906.21 514.9 L1905.2 515.3 L1904.19 514.9 L1902.34 514.4 L1899.78 513.9 L1896.51 513.4 L1892.36 512.9 L1887.18 512.4 L1881.18 511.9 L1875.15 511.4 L1872.81 510.9 L1873.44 510.4 L1877.19 509.9 L1883.96 509.4 L1889.13 508.9 L1891.22 508.4 L1892.86 507.9 L1894.15 507.4 L1895.15 506.9 L1895.96 506.4 L1896.66 505.9 L1897.31 505.4 L1897.89 504.9 L1898.41 504.4 L1898.88 503.9 L1899.3 503.4 L1899.69 502.9 L1900.05 502.4 L1900.4 501.9 L1900.74 501.4 L1901.09 500.9 L1901.44 500.4 L1901.81 499.9 L1902.17 499.4 L1902.52 498.9 L1902.85 498.4 L1903.14 497.9 L1903.38 497.4 L1903.56 496.9 L1903.71 496.4 L1903.85 495.9 L1903.97 495.4 L1904.08 494.9 L1904.19 494.4 L1904.28 493.9 L1904.35 493.4 L1904.42 492.9 L1904.48 492.4 L1904.52 491.9 L1904.56 491.4 L1904.58 490.9 L1904.61 490.4 L1904.62 489.9 L1904.64 489.4 L1904.65 488.9 L1904.67 488.4 L1904.69 487.9 L1904.72 487.4 L1904.75 486.9 L1904.79 486.4 L1904.85 485.9 L1904.92 485.4 Z"/>
<path d="M2001.7 486.55 L2001.99 487.05 L2002.07 487.55 L2002.13 488.05 L2002.18 488.55 L2002.22 489.05 L2002.25 489.55 L2002.27 490.05 L2002.29 490.55 L2002.31 491.05 L2002.33 491.55 L2002.35 492.05 L2002.37 492.55 L2002.4 493.05 L2002.45 493.55 L2002.5 494.05 L2002.57 494.55 L2002.66 495.05 L2002.77 495.55 L2002.91 496.05 L2003.07 496.55 L2003.25 497.05 L2003.45 497.55 L2003.69 498.05 L2004.02 498.55 L2004.43 499.05 L2004.91 499.55 L2005.43 500.05 L2005.95 500.55 L2006.46 501.05 L2006.95 501.55 L2007.44 502.05 L2007.96 502.55 L2008.52 503.05 L2009.15 503.55 L2009.87 504.05 L2010.72 504.55 L2011.76 505.05 L2013.19 505.55 L2015 506.05 L2017.17 506.55 L2019.68 507.05 L2023.05 507.55 L2027.83 508.05 L2032.1 508.55 L2035.53 509.05 L2037.93 509.55 L2039.28 510.05 L2038.96 510.55 L2037.89 511.05 L2035.15 511.55 L2031.94 512.05 L2028.19 512.55 L2024.55 513.05 L2021.41 513.55 L2018.37 514.05 L2015.5 514.55 L2013.04 515.05 L2010.87 515.55 L2008.95 516.05 L2007.24 516.55 L2005.74 517.05 L2004.41 517.55 L2003.34 518.05 L2002.47 518.55 L2001.7 519.1 L2000.93 518.55 L2000.06 518.05 L1998.99 517.55 L1997.66 517.05 L1996.16 516.55 L1994.45 516.05 L1992.53 515.55 L1990.36 515.05 L1987.9 514.55 L1985.03 514.05 L1981.99 513.55 L1978.85 513.05 L1975.21 512.55 L1971.46 512.05 L1968.25 511.55 L1965.51 511.05 L1964.44 510.55 L1964.12 510.05 L1965.47 509.55 L1967.87 509.05 L1971.3 508.55 L1975.57 508.05 L1980.35 507.55 L1983.72 507.05 L1986.23 506.55 L1988.4 506.05 L1990.21 505.55 L1991.64 505.05 L1992.68 504.55 L1993.53 504.05 L1994.25 503.55 L1994.88 503.05 L1995.44 502.55 L1995.96 502.05 L1996.45 501.55 L1996.94 501.05 L1997.45 500.55 L1997.97 500.05 L1998.49 499.55 L1998.97 499.05 L1999.38 498.55 L1999.71 498.05 L1999.95 497.55 L2000.15 497.05 L2000.33 496.55 L2000.49 496.05 L2000.63 495.55 L2000.74 495.05 L2000.83 494.55 L2000.9 494.05 L2000.95 493.55 L2001 493.05 L2001.03 492.55 L2001.05 492.05 L2001.07 491.55 L2001.09 491.05 L2001.11 490.55 L2001.13 490.05 L2001.15 489.55 L2001.18 489.05 L2001.22 488.55 L2001.27 488.05 L2001.33 487.55 L2001.41 487.05 Z"/>
</g>
<g fill="#fff" stroke="#3c4a4a" stroke-width="0.7">
<circle cx="1712.3" cy="228.1" r="3.45"/>
<circle cx="1519.6" cy="508.1" r="3.45"/>
<circle cx="1616" cy="509.6" r="3.45"/>
<circle cx="1809" cy="509.4" r="3.45"/>
<circle cx="1905.2" cy="509.4" r="3.45"/>
<circle cx="2001.7" cy="510.9" r="3.45"/>
</g>
<g stroke="#0a0a0a" stroke-width="2.4" fill="none">
<path d="M1471.6 59.4 V526.1 H2050.5"/>
<path d="M1519.6 526.1 v9.5"/>
<path d="M1616 526.1 v9.5"/>
<path d="M1712.3 526.1 v9.5"/>
<path d="M1809 526.1 v9.5"/>
<path d="M1905.2 526.1 v9.5"/>
<path d="M2001.7 526.1 v9.5"/>
<path d="M1471.6 511.2 h-9.5"/>
<path d="M1471.6 360.83 h-9.5"/>
<path d="M1471.6 210.46 h-9.5"/>
<path d="M1471.6 60.09 h-9.5"/>
</g>
<g font-family='"Liberation Sans", sans-serif' font-size="23.6" fill="#0d0d0d">
<g text-anchor="middle">
<text x="1519.6" y="559.9">5xR1</text>
<text x="1616" y="559.9">5xR2</text>
<text x="1712.3" y="559.9">7xR3</text>
<text x="1809" y="559.9">7xR4</text>
<text x="1905.2" y="559.9">5xR5</text>
<text x="2001.7" y="559.9">5xR6</text>
</g>
<g text-anchor="end">
<text x="1456.1" y="518.1">0</text>
<text x="1456.1" y="367.73">100</text>
<text x="1456.1" y="217.36">200</text>
<text x="1456.1" y="66.99">300</text>
</g>
</g>
<rect x="1618.3" y="2" width="250.4" height="43.9" fill="#fff" stroke="#1a1a1a" stroke-width="3.2"/>
<text x="1744.1" y="35.3" text-anchor="middle" font-family='"Liberation Sans", sans-serif' font-size="33.2" fill="#0d0d0d">R3: GAGAGAG</text>
</g>
<g>
<g fill="#689a9e" stroke="#2e3030" stroke-width="1.5" stroke-linejoin="round">
<path d="M457 670.6 L457.3 671.1 L457.3 671.6 L457.3 672.1 L457.3 672.6 L457.3 673.1 L457.3 673.6 L457.3 674.1 L457.3 674.6 L457.3 675.1 L457.3 675.6 L457.3 676.1 L457.3 676.6 L457.3 677.1 L457.3 677.6 L457.3 678.1 L457.3 678.6 L457.3 679.1 L457.3 679.6 L457.3 680.1 L457.3 680.6 L457.3 681.1 L457.3 681.6 L457.3 682.1 L457.3 682.6 L457.3 683.1 L457.3 683.6 L457.3 684.1 L457.3 684.6 L457.3 685.1 L457.3 685.6 L457.3 686.1 L457.3 686.6 L457.3 687.1 L457.3 687.6 L457.3 688.1 L457.3 688.6 L457.3 689.1 L457.3 689.6 L457.3 690.1 L457.3 690.6 L457.3 691.1 L457.3 691.6 L457.3 692.1 L457.3 692.6 L457.3 693.1 L457.3 693.6 L457.3 694.1 L457.3 694.6 L457.3 695.1 L457.3 695.6 L457.3 696.1 L457.3 696.6 L457.3 697.1 L457.3 697.6 L457.3 698.1 L457.3 698.6 L457.3 699.1 L457.3 699.6 L457.3 700.1 L457.3 700.6 L457.3 701.1 L457.3 701.6 L457.3 702.1 L457.3 702.6 L457.3 703.1 L457.3 703.6 L457.3 704.1 L457.3 704.6 L457.3 705.1 L457.3 705.6 L457.3 706.1 L457.3 706.6 L457.3 707.1 L457.3 707.6 L457.3 708.1 L457.3 708.6 L457.3 709.1 L457.3 709.6 L457.3 710.1 L457.3 710.6 L457.3 711.1 L457.3 711.6 L457.3 712.1 L457.3 712.6 L457.3 713.1 L457.3 713.6 L457.3 714.1 L457.3 714.6 L457.3 715.1 L457.3 715.6 L457.3 716.1 L457.31 716.6 L457.31 717.1 L457.32 717.6 L457.33 718.1 L457.34 718.6 L457.35 719.1 L457.37 719.6 L457.38 720.1 L457.39 720.6 L457.41 721.1 L457.43 721.6 L457.45 722.1 L457.47 722.6 L457.49 723.1 L457.51 723.6 L457.54 724.1 L457.59 724.6 L457.65 725.1 L457.71 725.6 L457.78 726.1 L457.86 726.6 L457.94 727.1 L458.02 727.6 L458.11 728.1 L458.2 728.6 L458.31 729.1 L458.43 729.6 L458.56 730.1 L458.69 730.6 L458.84 731.1 L458.99 731.6 L459.15 732.1 L459.33 732.6 L459.53 733.1 L459.73 733.6 L459.94 734.1 L460.15 734.6 L460.36 735.1 L460.56 735.6 L460.75 736.1 L460.94 736.6 L461.13 737.1 L461.31 737.6 L461.49 738.1 L461.67 738.6 L461.85 739.1 L462.03 739.6 L462.21 740.1 L462.39 740.6 L462.58 741.1 L462.76 741.6 L462.95 742.1 L463.13 742.6 L463.32 743.1 L463.51 743.6 L463.7 744.1 L463.89 744.6 L464.07 745.1 L464.26 745.6 L464.45 746.1 L464.63 746.6 L464.82 747.1 L465 747.6 L465.18 748.1 L465.36 748.6 L465.54 749.1 L465.72 749.6 L465.89 750.1 L466.06 750.6 L466.23 751.1 L466.41 751.6 L466.58 752.1 L466.75 752.6 L466.92 753.1 L467.09 753.6 L467.26 754.1 L467.43 754.6 L467.61 755.1 L467.78 755.6 L467.96 756.1 L468.14 756.6 L468.32 757.1 L468.5 757.6 L468.68 758.1 L468.86 758.6 L469.05 759.1 L469.23 759.6 L469.42 760.1 L469.61 760.6 L469.79 761.1 L469.99 761.6 L470.18 762.1 L470.37 762.6 L470.57 763.1 L470.77 763.6 L470.97 764.1 L471.17 764.6 L471.37 765.1 L471.58 765.6 L471.79 766.1 L472 766.6 L472.22 767.1 L472.44 767.6 L472.66 768.1 L472.88 768.6 L473.1 769.1 L473.33 769.6 L473.55 770.1 L473.78 770.6 L474.01 771.1 L474.24 771.6 L474.47 772.1 L474.7 772.6 L474.93 773.1 L475.16 773.6 L475.39 774.1 L475.62 774.6 L475.85 775.1 L476.08 775.6 L476.3 776.1 L476.5 776.6 L476.7 777.1 L476.89 777.6 L477.07 778.1 L477.23 778.6 L477.38 779.1 L477.53 779.6 L477.66 780.1 L477.78 780.6 L477.9 781.1 L478 781.6 L478.1 782.1 L478.19 782.6 L478.28 783.1 L478.35 783.6 L478.43 784.1 L478.5 784.6 L478.56 785.1 L478.62 785.6 L478.68 786.1 L478.74 786.6 L478.79 787.1 L478.84 787.6 L478.89 788.1 L478.94 788.6 L478.99 789.1 L479.04 789.6 L479.09 790.1 L479.15 790.6 L479.21 791.1 L479.27 791.6 L479.33 792.1 L479.41 792.6 L479.48 793.1 L479.57 793.6 L479.66 794.1 L479.77 794.6 L479.88 795.1 L480.01 795.6 L480.15 796.1 L480.3 796.6 L480.46 797.1 L480.62 797.6 L480.79 798.1 L480.96 798.6 L481.14 799.1 L481.31 799.6 L481.49 800.1 L481.67 800.6 L481.85 801.1 L482.03 801.6 L482.21 802.1 L482.39 802.6 L482.57 803.1 L482.74 803.6 L482.92 804.1 L483.09 804.6 L483.25 805.1 L483.41 805.6 L483.55 806.1 L483.68 806.6 L483.8 807.1 L483.91 807.6 L484 808.1 L484.09 808.6 L484.16 809.1 L484.22 809.6 L484.27 810.1 L484.3 810.6 L484.33 811.1 L484.34 811.6 L484.35 812.1 L484.35 812.6 L484.34 813.1 L484.32 813.6 L484.29 814.1 L484.27 814.6 L484.23 815.1 L484.19 815.6 L484.14 816.1 L484.09 816.6 L484.03 817.1 L483.97 817.6 L483.9 818.1 L483.83 818.6 L483.76 819.1 L483.69 819.6 L483.62 820.1 L483.55 820.6 L483.49 821.1 L483.42 821.6 L483.36 822.1 L483.3 822.6 L483.24 823.1 L483.18 823.6 L483.12 824.1 L483.07 824.6 L483.01 825.1 L482.95 825.6 L482.89 826.1 L482.82 826.6 L482.76 827.1 L482.69 827.6 L482.62 828.1 L482.54 828.6 L482.47 829.1 L482.38 829.6 L482.29 830.1 L482.2 830.6 L482.1 831.1 L481.99 831.6 L481.88 832.1 L481.76 832.6 L481.64 833.1 L481.51 833.6 L481.38 834.1 L481.24 834.6 L481.1 835.1 L480.96 835.6 L480.82 836.1 L480.68 836.6 L480.54 837.1 L480.4 837.6 L480.27 838.1 L480.13 838.6 L480 839.1 L479.87 839.6 L479.73 840.1 L479.59 840.6 L479.45 841.1 L479.3 841.6 L479.16 842.1 L479.01 842.6 L478.85 843.1 L478.7 843.6 L478.55 844.1 L478.4 844.6 L478.24 845.1 L478.1 845.6 L477.95 846.1 L477.8 846.6 L477.65 847.1 L477.5 847.6 L477.35 848.1 L477.2 848.6 L477.04 849.1 L476.87 849.6 L476.7 850.1 L476.52 850.6 L476.34 851.1 L476.15 851.6 L475.95 852.1 L475.74 852.6 L475.52 853.1 L475.28 853.6 L475.04 854.1 L474.78 854.6 L474.52 855.1 L474.24 855.6 L473.95 856.1 L473.65 856.6 L473.35 857.1 L473.04 857.6 L472.72 858.1 L472.39 858.6 L472.06 859.1 L471.72 859.6 L471.37 860.1 L471.01 860.6 L470.64 861.1 L470.26 861.6 L469.87 862.1 L469.47 862.6 L469.05 863.1 L468.62 863.6 L468.19 864.1 L467.75 864.6 L467.3 865.1 L466.85 865.6 L466.4 866.1 L465.94 866.6 L465.49 867.1 L465.04 867.6 L464.58 868.1 L464.13 868.6 L463.68 869.1 L463.23 869.6 L462.78 870.1 L462.33 870.6 L461.89 871.1 L461.45 871.6 L461.01 872.1 L460.58 872.6 L460.17 873.1 L459.78 873.6 L459.43 874.1 L459.14 874.6 L458.87 875.1 L458.63 875.6 L458.4 876.1 L458.2 876.6 L458.01 877.1 L457.85 877.6 L457.71 878.1 L457.6 878.6 L457.5 879.1 L457.4 879.6 L457.31 880.1 L457.22 880.6 L457.15 881.1 L457.09 881.6 L457.04 882.1 L457.01 882.6 L457 882.9 L456.99 882.6 L456.96 882.1 L456.91 881.6 L456.85 881.1 L456.78 880.6 L456.69 880.1 L456.6 879.6 L456.5 879.1 L456.4 878.6 L456.29 878.1 L456.15 877.6 L455.99 877.1 L455.8 876.6 L455.6 876.1 L455.37 875.6 L455.13 875.1 L454.86 874.6 L454.57 874.1 L454.22 873.6 L453.83 873.1 L453.42 872.6 L452.99 872.1 L452.55 871.6 L452.11 871.1 L451.67 870.6 L451.22 870.1 L450.77 869.6 L450.32 869.1 L449.87 868.6 L449.42 868.1 L448.96 867.6 L448.51 867.1 L448.06 866.6 L447.6 866.1 L447.15 865.6 L446.7 865.1 L446.25 864.6 L445.81 864.1 L445.38 863.6 L444.95 863.1 L444.53 862.6 L444.13 862.1 L443.74 861.6 L443.36 861.1 L442.99 860.6 L442.63 860.1 L442.28 859.6 L441.94 859.1 L441.61 858.6 L441.28 858.1 L440.96 857.6 L440.65 857.1 L440.35 856.6 L440.05 856.1 L439.76 855.6 L439.48 855.1 L439.22 854.6 L438.96 854.1 L438.72 853.6 L438.48 853.1 L438.26 852.6 L438.05 852.1 L437.85 851.6 L437.66 851.1 L437.48 850.6 L437.3 850.1 L437.13 849.6 L436.96 849.1 L436.8 848.6 L436.65 848.1 L436.5 847.6 L436.35 847.1 L436.2 846.6 L436.05 846.1 L435.9 845.6 L435.76 845.1 L435.6 844.6 L435.45 844.1 L435.3 843.6 L435.15 843.1 L434.99 842.6 L434.84 842.1 L434.7 841.6 L434.55 841.1 L434.41 840.6 L434.27 840.1 L434.13 839.6 L434 839.1 L433.87 838.6 L433.73 838.1 L433.6 837.6 L433.46 837.1 L433.32 836.6 L433.18 836.1 L433.04 835.6 L432.9 835.1 L432.76 834.6 L432.62 834.1 L432.49 833.6 L432.36 833.1 L432.24 832.6 L432.12 832.1 L432.01 831.6 L431.9 831.1 L431.8 830.6 L431.71 830.1 L431.62 829.6 L431.53 829.1 L431.46 828.6 L431.38 828.1 L431.31 827.6 L431.24 827.1 L431.18 826.6 L431.11 826.1 L431.05 825.6 L430.99 825.1 L430.93 824.6 L430.88 824.1 L430.82 823.6 L430.76 823.1 L430.7 822.6 L430.64 822.1 L430.58 821.6 L430.51 821.1 L430.45 820.6 L430.38 820.1 L430.31 819.6 L430.24 819.1 L430.17 818.6 L430.1 818.1 L430.03 817.6 L429.97 817.1 L429.91 816.6 L429.86 816.1 L429.81 815.6 L429.77 815.1 L429.73 814.6 L429.71 814.1 L429.68 813.6 L429.66 813.1 L429.65 812.6 L429.65 812.1 L429.66 811.6 L429.67 811.1 L429.7 810.6 L429.73 810.1 L429.78 809.6 L429.84 809.1 L429.91 808.6 L430 808.1 L430.09 807.6 L430.2 807.1 L430.32 806.6 L430.45 806.1 L430.59 805.6 L430.75 805.1 L430.91 804.6 L431.08 804.1 L431.26 803.6 L431.43 803.1 L431.61 802.6 L431.79 802.1 L431.97 801.6 L432.15 801.1 L432.33 800.6 L432.51 800.1 L432.69 799.6 L432.86 799.1 L433.04 798.6 L433.21 798.1 L433.38 797.6 L433.54 797.1 L433.7 796.6 L433.85 796.1 L433.99 795.6 L434.12 795.1 L434.23 794.6 L434.34 794.1 L434.43 793.6 L434.52 793.1 L434.59 792.6 L434.67 792.1 L434.73 791.6 L434.79 791.1 L434.85 790.6 L434.91 790.1 L434.96 789.6 L435.01 789.1 L435.06 788.6 L435.11 788.1 L435.16 787.6 L435.21 787.1 L435.26 786.6 L435.32 786.1 L435.38 785.6 L435.44 785.1 L435.5 784.6 L435.57 784.1 L435.65 783.6 L435.72 783.1 L435.81 782.6 L435.9 782.1 L436 781.6 L436.1 781.1 L436.22 780.6 L436.34 780.1 L436.47 779.6 L436.62 779.1 L436.77 778.6 L436.93 778.1 L437.11 777.6 L437.3 777.1 L437.5 776.6 L437.7 776.1 L437.92 775.6 L438.15 775.1 L438.38 774.6 L438.61 774.1 L438.84 773.6 L439.07 773.1 L439.3 772.6 L439.53 772.1 L439.76 771.6 L439.99 771.1 L440.22 770.6 L440.45 770.1 L440.67 769.6 L440.9 769.1 L441.12 768.6 L441.34 768.1 L441.56 767.6 L441.78 767.1 L442 766.6 L442.21 766.1 L442.42 765.6 L442.63 765.1 L442.83 764.6 L443.03 764.1 L443.23 763.6 L443.43 763.1 L443.63 762.6 L443.82 762.1 L444.01 761.6 L444.21 761.1 L444.39 760.6 L444.58 760.1 L444.77 759.6 L444.95 759.1 L445.14 758.6 L445.32 758.1 L445.5 757.6 L445.68 757.1 L445.86 756.6 L446.04 756.1 L446.22 755.6 L446.39 755.1 L446.57 754.6 L446.74 754.1 L446.91 753.6 L447.08 753.1 L447.25 752.6 L447.42 752.1 L447.59 751.6 L447.77 751.1 L447.94 750.6 L448.11 750.1 L448.28 749.6 L448.46 749.1 L448.64 748.6 L448.82 748.1 L449 747.6 L449.18 747.1 L449.37 746.6 L449.55 746.1 L449.74 745.6 L449.93 745.1 L450.11 744.6 L450.3 744.1 L450.49 743.6 L450.68 743.1 L450.87 742.6 L451.05 742.1 L451.24 741.6 L451.42 741.1 L451.61 740.6 L451.79 740.1 L451.97 739.6 L452.15 739.1 L452.33 738.6 L452.51 738.1 L452.69 737.6 L452.87 737.1 L453.06 736.6 L453.25 736.1 L453.44 735.6 L453.64 735.1 L453.85 734.6 L454.06 734.1 L454.27 733.6 L454.47 733.1 L454.67 732.6 L454.85 732.1 L455.01 731.6 L455.16 731.1 L455.31 730.6 L455.44 730.1 L455.57 729.6 L455.69 729.1 L455.8 728.6 L455.89 728.1 L455.98 727.6 L456.06 727.1 L456.14 726.6 L456.22 726.1 L456.29 725.6 L456.35 725.1 L456.41 724.6 L456.46 724.1 L456.49 723.6 L456.51 723.1 L456.53 722.6 L456.55 722.1 L456.57 721.6 L456.59 721.1 L456.61 720.6 L456.62 720.1 L456.63 719.6 L456.65 719.1 L456.66 718.6 L456.67 718.1 L456.68 717.6 L456.69 717.1 L456.69 716.6 L456.7 716.1 L456.7 715.6 L456.7 715.1 L456.7 714.6 L456.7 714.1 L456.7 713.6 L456.7 713.1 L456.7 712.6 L456.7 712.1 L456.7 711.6 L456.7 711.1 L456.7 710.6 L456.7 710.1 L456.7 709.6 L456.7 709.1 L456.7 708.6 L456.7 708.1 L456.7 707.6 L456.7 707.1 L456.7 706.6 L456.7 706.1 L456.7 705.6 L456.7 705.1 L456.7 704.6 L456.7 704.1 L456.7 703.6 L456.7 703.1 L456.7 702.6 L456.7 702.1 L456.7 701.6 L456.7 701.1 L456.7 700.6 L456.7 700.1 L456.7 699.6 L456.7 699.1 L456.7 698.6 L456.7 698.1 L456.7 697.6 L456.7 697.1 L456.7 696.6 L456.7 696.1 L456.7 695.6 L456.7 695.1 L456.7 694.6 L456.7 694.1 L456.7 693.6 L456.7 693.1 L456.7 692.6 L456.7 692.1 L456.7 691.6 L456.7 691.1 L456.7 690.6 L456.7 690.1 L456.7 689.6 L456.7 689.1 L456.7 688.6 L456.7 688.1 L456.7 687.6 L456.7 687.1 L456.7 686.6 L456.7 686.1 L456.7 685.6 L456.7 685.1 L456.7 684.6 L456.7 684.1 L456.7 683.6 L456.7 683.1 L456.7 682.6 L456.7 682.1 L456.7 681.6 L456.7 681.1 L456.7 680.6 L456.7 680.1 L456.7 679.6 L456.7 679.1 L456.7 678.6 L456.7 678.1 L456.7 677.6 L456.7 677.1 L456.7 676.6 L456.7 676.1 L456.7 675.6 L456.7 675.1 L456.7 674.6 L456.7 674.1 L456.7 673.6 L456.7 673.1 L456.7 672.6 L456.7 672.1 L456.7 671.6 L456.7 671.1 Z"/>
<path d="M167.7 1076.8 L168 1077.3 L168.11 1077.8 L168.18 1078.3 L168.23 1078.8 L168.26 1079.3 L168.29 1079.8 L168.32 1080.3 L168.37 1080.8 L168.43 1081.3 L168.51 1081.8 L168.66 1082.3 L168.98 1082.8 L169.46 1083.3 L170.17 1083.8 L171.37 1084.3 L172.73 1084.8 L174.1 1085.3 L175.66 1085.8 L177.62 1086.3 L180.22 1086.8 L183.78 1087.3 L188.85 1087.8 L198.27 1088.3 L205.27 1088.8 L206.43 1089.3 L205.46 1089.8 L199.11 1090.3 L191.9 1090.8 L185.89 1091.3 L180.55 1091.8 L176.36 1092.3 L173.01 1092.8 L170.37 1093.3 L168.51 1093.8 L167.7 1094.1 L166.89 1093.8 L165.03 1093.3 L162.39 1092.8 L159.04 1092.3 L154.85 1091.8 L149.51 1091.3 L143.5 1090.8 L136.29 1090.3 L129.94 1089.8 L128.97 1089.3 L130.13 1088.8 L137.13 1088.3 L146.55 1087.8 L151.62 1087.3 L155.18 1086.8 L157.77 1086.3 L159.74 1085.8 L161.3 1085.3 L162.67 1084.8 L164.03 1084.3 L165.23 1083.8 L165.94 1083.3 L166.42 1082.8 L166.74 1082.3 L166.89 1081.8 L166.97 1081.3 L167.03 1080.8 L167.08 1080.3 L167.11 1079.8 L167.14 1079.3 L167.17 1078.8 L167.22 1078.3 L167.29 1077.8 L167.4 1077.3 Z"/>
<path d="M264.2 1070.5 L264.47 1071 L264.52 1071.5 L264.55 1072 L264.58 1072.5 L264.61 1073 L264.62 1073.5 L264.64 1074 L264.65 1074.5 L264.65 1075 L264.66 1075.5 L264.67 1076 L264.67 1076.5 L264.68 1077 L264.69 1077.5 L264.71 1078 L264.73 1078.5 L264.76 1079 L264.8 1079.5 L264.85 1080 L264.97 1080.5 L265.16 1081 L265.39 1081.5 L265.66 1082 L266.09 1082.5 L266.66 1083 L267.3 1083.5 L267.93 1084 L268.55 1084.5 L269.23 1085 L270.02 1085.5 L270.98 1086 L272.15 1086.5 L273.68 1087 L275.83 1087.5 L279.15 1088 L286.78 1088.5 L291.11 1089 L291.63 1089.5 L288.42 1090 L283.06 1090.5 L278.2 1091 L273.9 1091.5 L270.58 1092 L267.98 1092.5 L265.96 1093 L264.6 1093.5 L264.2 1093.7 L263.8 1093.5 L262.44 1093 L260.42 1092.5 L257.82 1092 L254.5 1091.5 L250.2 1091 L245.34 1090.5 L239.98 1090 L236.77 1089.5 L237.29 1089 L241.62 1088.5 L249.25 1088 L252.57 1087.5 L254.72 1087 L256.25 1086.5 L257.42 1086 L258.38 1085.5 L259.17 1085 L259.85 1084.5 L260.47 1084 L261.1 1083.5 L261.74 1083 L262.31 1082.5 L262.74 1082 L263.01 1081.5 L263.24 1081 L263.43 1080.5 L263.55 1080 L263.6 1079.5 L263.64 1079 L263.67 1078.5 L263.69 1078 L263.71 1077.5 L263.72 1077 L263.73 1076.5 L263.73 1076 L263.74 1075.5 L263.75 1075 L263.75 1074.5 L263.76 1074 L263.78 1073.5 L263.79 1073 L263.82 1072.5 L263.85 1072 L263.88 1071.5 L263.93 1071 Z"/>
<path d="M360.4 1077.4 L360.7 1077.9 L360.78 1078.4 L360.83 1078.9 L360.87 1079.4 L360.89 1079.9 L360.92 1080.4 L360.97 1080.9 L361.04 1081.4 L361.16 1081.9 L361.39 1082.4 L361.71 1082.9 L362.15 1083.4 L362.91 1083.9 L363.82 1084.4 L364.72 1084.9 L365.68 1085.4 L366.81 1085.9 L368.2 1086.4 L369.87 1086.9 L372.13 1087.4 L375.4 1087.9 L383.19 1088.4 L389.01 1088.9 L389.75 1089.4 L387.29 1089.9 L381.51 1090.4 L375.99 1090.9 L371.2 1091.4 L367.48 1091.9 L364.58 1092.4 L362.35 1092.9 L360.84 1093.4 L360.4 1093.6 L359.96 1093.4 L358.45 1092.9 L356.22 1092.4 L353.32 1091.9 L349.6 1091.4 L344.81 1090.9 L339.29 1090.4 L333.51 1089.9 L331.05 1089.4 L331.79 1088.9 L337.61 1088.4 L345.4 1087.9 L348.67 1087.4 L350.93 1086.9 L352.6 1086.4 L353.99 1085.9 L355.12 1085.4 L356.08 1084.9 L356.98 1084.4 L357.89 1083.9 L358.65 1083.4 L359.09 1082.9 L359.41 1082.4 L359.64 1081.9 L359.76 1081.4 L359.83 1080.9 L359.88 1080.4 L359.91 1079.9 L359.93 1079.4 L359.97 1078.9 L360.02 1078.4 L360.1 1077.9 Z"/>
<path d="M553.7 1079 L554.02 1079.5 L554.15 1080 L554.22 1080.5 L554.3 1081 L554.4 1081.5 L554.58 1082 L554.83 1082.5 L555.18 1083 L555.67 1083.5 L556.52 1084 L557.54 1084.5 L558.55 1085 L559.62 1085.5 L560.88 1086 L562.48 1086.5 L564.55 1087 L567.43 1087.5 L571.69 1088 L580.25 1088.5 L585.9 1089 L586.61 1089.5 L586.05 1090 L581.83 1090.5 L577.04 1091 L572.49 1091.5 L568.45 1092 L564.84 1092.5 L561.88 1093 L559.42 1093.5 L557.36 1094 L555.68 1094.5 L554.45 1095 L553.7 1095.4 L552.95 1095 L551.72 1094.5 L550.04 1094 L547.98 1093.5 L545.52 1093 L542.56 1092.5 L538.95 1092 L534.91 1091.5 L530.36 1091 L525.57 1090.5 L521.35 1090 L520.79 1089.5 L521.5 1089 L527.15 1088.5 L535.71 1088 L539.97 1087.5 L542.85 1087 L544.92 1086.5 L546.52 1086 L547.78 1085.5 L548.85 1085 L549.86 1084.5 L550.88 1084 L551.73 1083.5 L552.22 1083 L552.57 1082.5 L552.82 1082 L553 1081.5 L553.1 1081 L553.18 1080.5 L553.25 1080 L553.38 1079.5 Z"/>
<path d="M650 1075.1 L650.3 1075.6 L650.4 1076.1 L650.47 1076.6 L650.52 1077.1 L650.55 1077.6 L650.58 1078.1 L650.61 1078.6 L650.64 1079.1 L650.68 1079.6 L650.75 1080.1 L650.83 1080.6 L650.98 1081.1 L651.23 1081.6 L651.57 1082.1 L651.98 1082.6 L652.66 1083.1 L653.58 1083.6 L654.58 1084.1 L655.55 1084.6 L656.57 1085.1 L657.75 1085.6 L659.21 1086.1 L661.09 1086.6 L663.66 1087.1 L667.28 1087.6 L674.1 1088.1 L683.29 1088.6 L686.94 1089.1 L687.44 1089.6 L683.34 1090.1 L677.12 1090.6 L671.03 1091.1 L665.69 1091.6 L661.2 1092.1 L657.61 1092.6 L654.69 1093.1 L652.37 1093.6 L650.73 1094.1 L650 1094.4 L649.27 1094.1 L647.63 1093.6 L645.31 1093.1 L642.39 1092.6 L638.8 1092.1 L634.31 1091.6 L628.97 1091.1 L622.88 1090.6 L616.66 1090.1 L612.56 1089.6 L613.06 1089.1 L616.71 1088.6 L625.9 1088.1 L632.72 1087.6 L636.34 1087.1 L638.91 1086.6 L640.79 1086.1 L642.25 1085.6 L643.43 1085.1 L644.45 1084.6 L645.42 1084.1 L646.42 1083.6 L647.34 1083.1 L648.02 1082.6 L648.43 1082.1 L648.77 1081.6 L649.02 1081.1 L649.17 1080.6 L649.25 1080.1 L649.32 1079.6 L649.36 1079.1 L649.39 1078.6 L649.42 1078.1 L649.45 1077.6 L649.48 1077.1 L649.53 1076.6 L649.6 1076.1 L649.7 1075.6 Z"/>
</g>
<g fill="#fff" stroke="#3c4a4a" stroke-width="0.7">
<circle cx="457" cy="812.2" r="3.45"/>
<circle cx="167.7" cy="1089.2" r="3.45"/>
<circle cx="264.2" cy="1089.2" r="3.45"/>
<circle cx="360.4" cy="1089.2" r="3.45"/>
<circle cx="553.7" cy="1089.3" r="3.45"/>
<circle cx="650" cy="1089.2" r="3.45"/>
</g>
<g stroke="#0a0a0a" stroke-width="2.4" fill="none">
<path d="M119.6 632.4 V1099.3 H699"/>
<path d="M167.7 1099.3 v9.5"/>
<path d="M264.2 1099.3 v9.5"/>
<path d="M360.4 1099.3 v9.5"/>
<path d="M457 1099.3 v9.5"/>
<path d="M553.7 1099.3 v9.5"/>
<path d="M650 1099.3 v9.5"/>
<path d="M119.6 1089.3 h-9.5"/>
<path d="M119.6 988 h-9.5"/>
<path d="M119.6 886.7 h-9.5"/>
<path d="M119.6 785.4 h-9.5"/>
<path d="M119.6 684.1 h-9.5"/>
</g>
<g font-family='"Liberation Sans", sans-serif' font-size="23.6" fill="#0d0d0d">
<g text-anchor="middle">
<text x="167.7" y="1133.1">5xR1</text>
<text x="264.2" y="1133.1">5xR2</text>
<text x="360.4" y="1133.1">7xR3</text>
<text x="457" y="1133.1">7xR4</text>
<text x="553.7" y="1133.1">5xR5</text>
<text x="650" y="1133.1">5xR6</text>
</g>
<g text-anchor="end">
<text x="104.1" y="1096.2">0</text>
<text x="104.1" y="994.9">100</text>
<text x="104.1" y="893.6">200</text>
<text x="104.1" y="792.3">300</text>
<text x="104.1" y="691">400</text>
</g>
</g>
<rect x="266.7" y="605" width="249.9" height="43.7" fill="#fff" stroke="#1a1a1a" stroke-width="3.2"/>
<text x="392.25" y="638.3" text-anchor="middle" font-family='"Liberation Sans", sans-serif' font-size="33.2" fill="#0d0d0d">R4: TGTGTGT</text>
<text transform="translate(392 1187.8) scale(1 1.03)" text-anchor="middle" font-family='"Liberation Sans", sans-serif' font-size="35.4" fill="#0d0d0d">Docking site sequence</text>
<text transform="translate(26.3 881.2) rotate(-90) scale(1 1.03)" text-anchor="middle" font-family='"Liberation Sans", sans-serif' font-size="35.4" fill="#0d0d0d">Number of binding events</text>
</g>
<g>
<g fill="#689a9e" stroke="#2e3030" stroke-width="1.5" stroke-linejoin="round">
<path d="M1238 670.9 L1238.3 671.4 L1238.3 671.9 L1238.3 672.4 L1238.3 672.9 L1238.3 673.4 L1238.3 673.9 L1238.3 674.4 L1238.3 674.9 L1238.3 675.4 L1238.3 675.9 L1238.3 676.4 L1238.3 676.9 L1238.3 677.4 L1238.3 677.9 L1238.3 678.4 L1238.3 678.9 L1238.3 679.4 L1238.3 679.9 L1238.3 680.4 L1238.3 680.9 L1238.3 681.4 L1238.3 681.9 L1238.3 682.4 L1238.3 682.9 L1238.3 683.4 L1238.3 683.9 L1238.3 684.4 L1238.3 684.9 L1238.3 685.4 L1238.3 685.9 L1238.3 686.4 L1238.3 686.9 L1238.3 687.4 L1238.3 687.9 L1238.3 688.4 L1238.3 688.9 L1238.3 689.4 L1238.3 689.9 L1238.3 690.4 L1238.3 690.9 L1238.3 691.4 L1238.3 691.9 L1238.3 692.4 L1238.3 692.9 L1238.3 693.4 L1238.3 693.9 L1238.3 694.4 L1238.3 694.9 L1238.3 695.4 L1238.3 695.9 L1238.3 696.4 L1238.3 696.9 L1238.3 697.4 L1238.3 697.9 L1238.3 698.4 L1238.3 698.9 L1238.3 699.4 L1238.3 699.9 L1238.3 700.4 L1238.3 700.9 L1238.3 701.4 L1238.3 701.9 L1238.3 702.4 L1238.3 702.9 L1238.3 703.4 L1238.3 703.9 L1238.3 704.4 L1238.3 704.9 L1238.3 705.4 L1238.3 705.9 L1238.3 706.4 L1238.3 706.9 L1238.3 707.4 L1238.3 707.9 L1238.3 708.4 L1238.3 708.9 L1238.3 709.4 L1238.3 709.9 L1238.3 710.4 L1238.3 710.9 L1238.3 711.4 L1238.3 711.9 L1238.3 712.4 L1238.3 712.9 L1238.3 713.4 L1238.3 713.9 L1238.3 714.4 L1238.3 714.9 L1238.3 715.4 L1238.3 715.9 L1238.3 716.4 L1238.3 716.9 L1238.3 717.4 L1238.3 717.9 L1238.3 718.4 L1238.3 718.9 L1238.3 719.4 L1238.3 719.9 L1238.3 720.4 L1238.3 720.9 L1238.3 721.4 L1238.3 721.9 L1238.3 722.4 L1238.3 722.9 L1238.3 723.4 L1238.3 723.9 L1238.3 724.4 L1238.3 724.9 L1238.3 725.4 L1238.3 725.9 L1238.3 726.4 L1238.3 726.9 L1238.3 727.4 L1238.3 727.9 L1238.3 728.4 L1238.3 728.9 L1238.3 729.4 L1238.3 729.9 L1238.3 730.4 L1238.3 730.9 L1238.3 731.4 L1238.3 731.9 L1238.3 732.4 L1238.3 732.9 L1238.3 733.4 L1238.3 733.9 L1238.3 734.4 L1238.3 734.9 L1238.3 735.4 L1238.3 735.9 L1238.3 736.4 L1238.3 736.9 L1238.3 737.4 L1238.3 737.9 L1238.3 738.4 L1238.3 738.9 L1238.3 739.4 L1238.3 739.9 L1238.3 740.4 L1238.3 740.9 L1238.3 741.4 L1238.3 741.9 L1238.3 742.4 L1238.3 742.9 L1238.3 743.4 L1238.3 743.9 L1238.3 744.4 L1238.3 744.9 L1238.3 745.4 L1238.3 745.9 L1238.3 746.4 L1238.3 746.9 L1238.3 747.4 L1238.3 747.9 L1238.3 748.4 L1238.3 748.9 L1238.3 749.4 L1238.3 749.9 L1238.3 750.4 L1238.3 750.9 L1238.3 751.4 L1238.3 751.9 L1238.3 752.4 L1238.3 752.9 L1238.3 753.4 L1238.3 753.9 L1238.3 754.4 L1238.3 754.9 L1238.3 755.4 L1238.3 755.9 L1238.3 756.4 L1238.3 756.9 L1238.3 757.4 L1238.3 757.9 L1238.3 758.4 L1238.3 758.9 L1238.3 759.4 L1238.3 759.9 L1238.3 760.4 L1238.3 760.9 L1238.3 761.4 L1238.3 761.9 L1238.3 762.4 L1238.3 762.9 L1238.3 763.4 L1238.3 763.9 L1238.3 764.4 L1238.3 764.9 L1238.3 765.4 L1238.31 765.9 L1238.33 766.4 L1238.35 766.9 L1238.38 767.4 L1238.41 767.9 L1238.44 768.4 L1238.48 768.9 L1238.52 769.4 L1238.57 769.9 L1238.64 770.4 L1238.72 770.9 L1238.81 771.4 L1238.91 771.9 L1239.01 772.4 L1239.11 772.9 L1239.2 773.4 L1239.29 773.9 L1239.38 774.4 L1239.47 774.9 L1239.57 775.4 L1239.67 775.9 L1239.77 776.4 L1239.87 776.9 L1239.98 777.4 L1240.1 777.9 L1240.22 778.4 L1240.35 778.9 L1240.48 779.4 L1240.61 779.9 L1240.75 780.4 L1240.88 780.9 L1241.02 781.4 L1241.16 781.9 L1241.3 782.4 L1241.44 782.9 L1241.58 783.4 L1241.72 783.9 L1241.87 784.4 L1242.01 784.9 L1242.15 785.4 L1242.3 785.9 L1242.44 786.4 L1242.58 786.9 L1242.72 787.4 L1242.87 787.9 L1243.01 788.4 L1243.16 788.9 L1243.3 789.4 L1243.45 789.9 L1243.61 790.4 L1243.76 790.9 L1243.92 791.4 L1244.09 791.9 L1244.25 792.4 L1244.42 792.9 L1244.6 793.4 L1244.78 793.9 L1244.96 794.4 L1245.15 794.9 L1245.35 795.4 L1245.55 795.9 L1245.75 796.4 L1245.96 796.9 L1246.18 797.4 L1246.4 797.9 L1246.63 798.4 L1246.86 798.9 L1247.09 799.4 L1247.33 799.9 L1247.58 800.4 L1247.83 800.9 L1248.09 801.4 L1248.35 801.9 L1248.62 802.4 L1248.9 802.9 L1249.18 803.4 L1249.46 803.9 L1249.75 804.4 L1250.05 804.9 L1250.35 805.4 L1250.66 805.9 L1250.97 806.4 L1251.29 806.9 L1251.61 807.4 L1251.93 807.9 L1252.26 808.4 L1252.59 808.9 L1252.92 809.4 L1253.26 809.9 L1253.6 810.4 L1253.93 810.9 L1254.27 811.4 L1254.62 811.9 L1254.96 812.4 L1255.3 812.9 L1255.65 813.4 L1256 813.9 L1256.35 814.4 L1256.71 814.9 L1257.08 815.4 L1257.44 815.9 L1257.81 816.4 L1258.19 816.9 L1258.56 817.4 L1258.94 817.9 L1259.31 818.4 L1259.68 818.9 L1260.05 819.4 L1260.42 819.9 L1260.78 820.4 L1261.13 820.9 L1261.48 821.4 L1261.82 821.9 L1262.15 822.4 L1262.47 822.9 L1262.78 823.4 L1263.08 823.9 L1263.37 824.4 L1263.66 824.9 L1263.93 825.4 L1264.19 825.9 L1264.44 826.4 L1264.68 826.9 L1264.91 827.4 L1265.14 827.9 L1265.35 828.4 L1265.56 828.9 L1265.76 829.4 L1265.95 829.9 L1266.14 830.4 L1266.33 830.9 L1266.52 831.4 L1266.71 831.9 L1266.9 832.4 L1267.1 832.9 L1267.29 833.4 L1267.48 833.9 L1267.66 834.4 L1267.85 834.9 L1268.02 835.4 L1268.2 835.9 L1268.36 836.4 L1268.53 836.9 L1268.68 837.4 L1268.83 837.9 L1268.98 838.4 L1269.12 838.9 L1269.25 839.4 L1269.38 839.9 L1269.51 840.4 L1269.63 840.9 L1269.75 841.4 L1269.87 841.9 L1269.97 842.4 L1270.07 842.9 L1270.17 843.4 L1270.25 843.9 L1270.32 844.4 L1270.38 844.9 L1270.43 845.4 L1270.47 845.9 L1270.5 846.4 L1270.52 846.9 L1270.52 847.4 L1270.5 847.9 L1270.48 848.4 L1270.44 848.9 L1270.38 849.4 L1270.31 849.9 L1270.23 850.4 L1270.14 850.9 L1270.05 851.4 L1269.94 851.9 L1269.82 852.4 L1269.7 852.9 L1269.57 853.4 L1269.43 853.9 L1269.28 854.4 L1269.14 854.9 L1268.99 855.4 L1268.84 855.9 L1268.7 856.4 L1268.56 856.9 L1268.43 857.4 L1268.3 857.9 L1268.18 858.4 L1268.07 858.9 L1267.96 859.4 L1267.86 859.9 L1267.77 860.4 L1267.68 860.9 L1267.59 861.4 L1267.51 861.9 L1267.44 862.4 L1267.36 862.9 L1267.3 863.4 L1267.23 863.9 L1267.17 864.4 L1267.11 864.9 L1267.05 865.4 L1266.98 865.9 L1266.91 866.4 L1266.83 866.9 L1266.73 867.4 L1266.62 867.9 L1266.49 868.4 L1266.34 868.9 L1266.18 869.4 L1265.99 869.9 L1265.78 870.4 L1265.56 870.9 L1265.32 871.4 L1265.07 871.9 L1264.8 872.4 L1264.53 872.9 L1264.24 873.4 L1263.94 873.9 L1263.63 874.4 L1263.32 874.9 L1263 875.4 L1262.68 875.9 L1262.36 876.4 L1262.03 876.9 L1261.7 877.4 L1261.36 877.9 L1261.02 878.4 L1260.67 878.9 L1260.32 879.4 L1259.97 879.9 L1259.6 880.4 L1259.24 880.9 L1258.87 881.4 L1258.49 881.9 L1258.11 882.4 L1257.73 882.9 L1257.34 883.4 L1256.94 883.9 L1256.54 884.4 L1256.12 884.9 L1255.7 885.4 L1255.27 885.9 L1254.83 886.4 L1254.37 886.9 L1253.9 887.4 L1253.42 887.9 L1252.92 888.4 L1252.41 888.9 L1251.89 889.4 L1251.36 889.9 L1250.81 890.4 L1250.25 890.9 L1249.68 891.4 L1249.1 891.9 L1248.51 892.4 L1247.91 892.9 L1247.3 893.4 L1246.69 893.9 L1246.08 894.4 L1245.46 894.9 L1244.86 895.4 L1244.26 895.9 L1243.67 896.4 L1243.1 896.9 L1242.54 897.4 L1242.01 897.9 L1241.5 898.4 L1241.02 898.9 L1240.56 899.4 L1240.12 899.9 L1239.73 900.4 L1239.4 900.9 L1239.14 901.4 L1238.96 901.9 L1238.79 902.4 L1238.63 902.9 L1238.48 903.4 L1238.34 903.9 L1238.23 904.4 L1238.13 904.9 L1238.06 905.4 L1238.02 905.9 L1238 906.4 L1237.98 905.9 L1237.94 905.4 L1237.87 904.9 L1237.77 904.4 L1237.66 903.9 L1237.52 903.4 L1237.37 902.9 L1237.21 902.4 L1237.04 901.9 L1236.86 901.4 L1236.6 900.9 L1236.27 900.4 L1235.88 899.9 L1235.44 899.4 L1234.98 898.9 L1234.5 898.4 L1233.99 897.9 L1233.46 897.4 L1232.9 896.9 L1232.33 896.4 L1231.74 895.9 L1231.14 895.4 L1230.54 894.9 L1229.92 894.4 L1229.31 893.9 L1228.7 893.4 L1228.09 892.9 L1227.49 892.4 L1226.9 891.9 L1226.32 891.4 L1225.75 890.9 L1225.19 890.4 L1224.64 889.9 L1224.11 889.4 L1223.59 888.9 L1223.08 888.4 L1222.58 887.9 L1222.1 887.4 L1221.63 886.9 L1221.17 886.4 L1220.73 885.9 L1220.3 885.4 L1219.88 884.9 L1219.46 884.4 L1219.06 883.9 L1218.66 883.4 L1218.27 882.9 L1217.89 882.4 L1217.51 881.9 L1217.13 881.4 L1216.76 880.9 L1216.4 880.4 L1216.03 879.9 L1215.68 879.4 L1215.33 878.9 L1214.98 878.4 L1214.64 877.9 L1214.3 877.4 L1213.97 876.9 L1213.64 876.4 L1213.32 875.9 L1213 875.4 L1212.68 874.9 L1212.37 874.4 L1212.06 873.9 L1211.76 873.4 L1211.47 872.9 L1211.2 872.4 L1210.93 871.9 L1210.68 871.4 L1210.44 870.9 L1210.22 870.4 L1210.01 869.9 L1209.82 869.4 L1209.66 868.9 L1209.51 868.4 L1209.38 867.9 L1209.27 867.4 L1209.17 866.9 L1209.09 866.4 L1209.02 865.9 L1208.95 865.4 L1208.89 864.9 L1208.83 864.4 L1208.77 863.9 L1208.7 863.4 L1208.64 862.9 L1208.56 862.4 L1208.49 861.9 L1208.41 861.4 L1208.32 860.9 L1208.23 860.4 L1208.14 859.9 L1208.04 859.4 L1207.93 858.9 L1207.82 858.4 L1207.7 857.9 L1207.57 857.4 L1207.44 856.9 L1207.3 856.4 L1207.16 855.9 L1207.01 855.4 L1206.86 854.9 L1206.72 854.4 L1206.57 853.9 L1206.43 853.4 L1206.3 852.9 L1206.18 852.4 L1206.06 851.9 L1205.95 851.4 L1205.86 850.9 L1205.77 850.4 L1205.69 849.9 L1205.62 849.4 L1205.56 848.9 L1205.52 848.4 L1205.5 847.9 L1205.48 847.4 L1205.48 846.9 L1205.5 846.4 L1205.53 845.9 L1205.57 845.4 L1205.62 844.9 L1205.68 844.4 L1205.75 843.9 L1205.83 843.4 L1205.93 842.9 L1206.03 842.4 L1206.13 841.9 L1206.25 841.4 L1206.37 840.9 L1206.49 840.4 L1206.62 839.9 L1206.75 839.4 L1206.88 838.9 L1207.02 838.4 L1207.17 837.9 L1207.32 837.4 L1207.47 836.9 L1207.64 836.4 L1207.8 835.9 L1207.98 835.4 L1208.15 834.9 L1208.34 834.4 L1208.52 833.9 L1208.71 833.4 L1208.9 832.9 L1209.1 832.4 L1209.29 831.9 L1209.48 831.4 L1209.67 830.9 L1209.86 830.4 L1210.05 829.9 L1210.24 829.4 L1210.44 828.9 L1210.65 828.4 L1210.86 827.9 L1211.09 827.4 L1211.32 826.9 L1211.56 826.4 L1211.81 825.9 L1212.07 825.4 L1212.34 824.9 L1212.63 824.4 L1212.92 823.9 L1213.22 823.4 L1213.53 822.9 L1213.85 822.4 L1214.18 821.9 L1214.52 821.4 L1214.87 820.9 L1215.22 820.4 L1215.58 819.9 L1215.95 819.4 L1216.32 818.9 L1216.69 818.4 L1217.06 817.9 L1217.44 817.4 L1217.81 816.9 L1218.19 816.4 L1218.56 815.9 L1218.92 815.4 L1219.29 814.9 L1219.65 814.4 L1220 813.9 L1220.35 813.4 L1220.7 812.9 L1221.04 812.4 L1221.38 811.9 L1221.73 811.4 L1222.07 810.9 L1222.4 810.4 L1222.74 809.9 L1223.08 809.4 L1223.41 808.9 L1223.74 808.4 L1224.07 807.9 L1224.39 807.4 L1224.71 806.9 L1225.03 806.4 L1225.34 805.9 L1225.65 805.4 L1225.95 804.9 L1226.25 804.4 L1226.54 803.9 L1226.82 803.4 L1227.1 802.9 L1227.38 802.4 L1227.65 801.9 L1227.91 801.4 L1228.17 800.9 L1228.42 800.4 L1228.67 799.9 L1228.91 799.4 L1229.14 798.9 L1229.37 798.4 L1229.6 797.9 L1229.82 797.4 L1230.04 796.9 L1230.25 796.4 L1230.45 795.9 L1230.65 795.4 L1230.85 794.9 L1231.04 794.4 L1231.22 793.9 L1231.4 793.4 L1231.58 792.9 L1231.75 792.4 L1231.91 791.9 L1232.08 791.4 L1232.24 790.9 L1232.39 790.4 L1232.55 789.9 L1232.7 789.4 L1232.84 788.9 L1232.99 788.4 L1233.13 787.9 L1233.28 787.4 L1233.42 786.9 L1233.56 786.4 L1233.7 785.9 L1233.85 785.4 L1233.99 784.9 L1234.13 784.4 L1234.28 783.9 L1234.42 783.4 L1234.56 782.9 L1234.7 782.4 L1234.84 781.9 L1234.98 781.4 L1235.12 780.9 L1235.25 780.4 L1235.39 779.9 L1235.52 779.4 L1235.65 778.9 L1235.78 778.4 L1235.9 777.9 L1236.02 777.4 L1236.13 776.9 L1236.23 776.4 L1236.33 775.9 L1236.43 775.4 L1236.53 774.9 L1236.62 774.4 L1236.71 773.9 L1236.8 773.4 L1236.89 772.9 L1236.99 772.4 L1237.09 771.9 L1237.19 771.4 L1237.28 770.9 L1237.36 770.4 L1237.43 769.9 L1237.48 769.4 L1237.52 768.9 L1237.56 768.4 L1237.59 767.9 L1237.62 767.4 L1237.65 766.9 L1237.67 766.4 L1237.69 765.9 L1237.7 765.4 L1237.7 764.9 L1237.7 764.4 L1237.7 763.9 L1237.7 763.4 L1237.7 762.9 L1237.7 762.4 L1237.7 761.9 L1237.7 761.4 L1237.7 760.9 L1237.7 760.4 L1237.7 759.9 L1237.7 759.4 L1237.7 758.9 L1237.7 758.4 L1237.7 757.9 L1237.7 757.4 L1237.7 756.9 L1237.7 756.4 L1237.7 755.9 L1237.7 755.4 L1237.7 754.9 L1237.7 754.4 L1237.7 753.9 L1237.7 753.4 L1237.7 752.9 L1237.7 752.4 L1237.7 751.9 L1237.7 751.4 L1237.7 750.9 L1237.7 750.4 L1237.7 749.9 L1237.7 749.4 L1237.7 748.9 L1237.7 748.4 L1237.7 747.9 L1237.7 747.4 L1237.7 746.9 L1237.7 746.4 L1237.7 745.9 L1237.7 745.4 L1237.7 744.9 L1237.7 744.4 L1237.7 743.9 L1237.7 743.4 L1237.7 742.9 L1237.7 742.4 L1237.7 741.9 L1237.7 741.4 L1237.7 740.9 L1237.7 740.4 L1237.7 739.9 L1237.7 739.4 L1237.7 738.9 L1237.7 738.4 L1237.7 737.9 L1237.7 737.4 L1237.7 736.9 L1237.7 736.4 L1237.7 735.9 L1237.7 735.4 L1237.7 734.9 L1237.7 734.4 L1237.7 733.9 L1237.7 733.4 L1237.7 732.9 L1237.7 732.4 L1237.7 731.9 L1237.7 731.4 L1237.7 730.9 L1237.7 730.4 L1237.7 729.9 L1237.7 729.4 L1237.7 728.9 L1237.7 728.4 L1237.7 727.9 L1237.7 727.4 L1237.7 726.9 L1237.7 726.4 L1237.7 725.9 L1237.7 725.4 L1237.7 724.9 L1237.7 724.4 L1237.7 723.9 L1237.7 723.4 L1237.7 722.9 L1237.7 722.4 L1237.7 721.9 L1237.7 721.4 L1237.7 720.9 L1237.7 720.4 L1237.7 719.9 L1237.7 719.4 L1237.7 718.9 L1237.7 718.4 L1237.7 717.9 L1237.7 717.4 L1237.7 716.9 L1237.7 716.4 L1237.7 715.9 L1237.7 715.4 L1237.7 714.9 L1237.7 714.4 L1237.7 713.9 L1237.7 713.4 L1237.7 712.9 L1237.7 712.4 L1237.7 711.9 L1237.7 711.4 L1237.7 710.9 L1237.7 710.4 L1237.7 709.9 L1237.7 709.4 L1237.7 708.9 L1237.7 708.4 L1237.7 707.9 L1237.7 707.4 L1237.7 706.9 L1237.7 706.4 L1237.7 705.9 L1237.7 705.4 L1237.7 704.9 L1237.7 704.4 L1237.7 703.9 L1237.7 703.4 L1237.7 702.9 L1237.7 702.4 L1237.7 701.9 L1237.7 701.4 L1237.7 700.9 L1237.7 700.4 L1237.7 699.9 L1237.7 699.4 L1237.7 698.9 L1237.7 698.4 L1237.7 697.9 L1237.7 697.4 L1237.7 696.9 L1237.7 696.4 L1237.7 695.9 L1237.7 695.4 L1237.7 694.9 L1237.7 694.4 L1237.7 693.9 L1237.7 693.4 L1237.7 692.9 L1237.7 692.4 L1237.7 691.9 L1237.7 691.4 L1237.7 690.9 L1237.7 690.4 L1237.7 689.9 L1237.7 689.4 L1237.7 688.9 L1237.7 688.4 L1237.7 687.9 L1237.7 687.4 L1237.7 686.9 L1237.7 686.4 L1237.7 685.9 L1237.7 685.4 L1237.7 684.9 L1237.7 684.4 L1237.7 683.9 L1237.7 683.4 L1237.7 682.9 L1237.7 682.4 L1237.7 681.9 L1237.7 681.4 L1237.7 680.9 L1237.7 680.4 L1237.7 679.9 L1237.7 679.4 L1237.7 678.9 L1237.7 678.4 L1237.7 677.9 L1237.7 677.4 L1237.7 676.9 L1237.7 676.4 L1237.7 675.9 L1237.7 675.4 L1237.7 674.9 L1237.7 674.4 L1237.7 673.9 L1237.7 673.4 L1237.7 672.9 L1237.7 672.4 L1237.7 671.9 L1237.7 671.4 Z"/>
<path d="M852 1073.9 L852.38 1074.4 L852.66 1074.9 L852.9 1075.4 L853.11 1075.9 L853.32 1076.4 L853.55 1076.9 L853.82 1077.4 L854.14 1077.9 L854.52 1078.4 L854.94 1078.9 L855.4 1079.4 L855.88 1079.9 L856.38 1080.4 L856.9 1080.9 L857.41 1081.4 L857.92 1081.9 L858.46 1082.4 L859.03 1082.9 L859.65 1083.4 L860.33 1083.9 L861.1 1084.4 L861.95 1084.9 L862.89 1085.4 L863.94 1085.9 L865.16 1086.4 L866.64 1086.9 L868.42 1087.4 L870.57 1087.9 L873.93 1088.4 L879.84 1088.9 L884.78 1089.4 L888.57 1089.9 L890.77 1090.4 L890.62 1090.9 L886.85 1091.4 L880.43 1091.9 L873.83 1092.4 L868.15 1092.9 L863.37 1093.4 L859.57 1093.9 L856.53 1094.4 L854.15 1094.9 L852.5 1095.4 L852 1095.6 L851.5 1095.4 L849.85 1094.9 L847.47 1094.4 L844.43 1093.9 L840.63 1093.4 L835.85 1092.9 L830.17 1092.4 L823.57 1091.9 L817.15 1091.4 L813.38 1090.9 L813.23 1090.4 L815.43 1089.9 L819.22 1089.4 L824.16 1088.9 L830.07 1088.4 L833.43 1087.9 L835.58 1087.4 L837.36 1086.9 L838.84 1086.4 L840.06 1085.9 L841.11 1085.4 L842.05 1084.9 L842.9 1084.4 L843.67 1083.9 L844.35 1083.4 L844.97 1082.9 L845.54 1082.4 L846.08 1081.9 L846.59 1081.4 L847.1 1080.9 L847.62 1080.4 L848.12 1079.9 L848.6 1079.4 L849.06 1078.9 L849.48 1078.4 L849.86 1077.9 L850.18 1077.4 L850.45 1076.9 L850.68 1076.4 L850.89 1075.9 L851.1 1075.4 L851.34 1074.9 L851.62 1074.4 Z"/>
<path d="M948.5 1072.7 L948.87 1073.2 L949.1 1073.7 L949.25 1074.2 L949.35 1074.7 L949.44 1075.2 L949.52 1075.7 L949.6 1076.2 L949.71 1076.7 L949.84 1077.2 L950.03 1077.7 L950.29 1078.2 L950.61 1078.7 L950.96 1079.2 L951.34 1079.7 L951.71 1080.2 L952.08 1080.7 L952.45 1081.2 L952.84 1081.7 L953.24 1082.2 L953.67 1082.7 L954.14 1083.2 L954.66 1083.7 L955.23 1084.2 L955.85 1084.7 L956.51 1085.2 L957.25 1085.7 L958.11 1086.2 L959.14 1086.7 L960.38 1087.2 L961.87 1087.7 L964.49 1088.2 L968.55 1088.7 L971.75 1089.2 L974.23 1089.7 L975.69 1090.2 L975.6 1090.7 L973.41 1091.2 L969.39 1091.7 L964.91 1092.2 L961.16 1092.7 L957.75 1093.2 L955.03 1093.7 L952.81 1094.2 L951 1094.7 L949.63 1095.2 L948.5 1095.8 L947.37 1095.2 L946 1094.7 L944.19 1094.2 L941.97 1093.7 L939.25 1093.2 L935.84 1092.7 L932.09 1092.2 L927.61 1091.7 L923.59 1091.2 L921.4 1090.7 L921.31 1090.2 L922.77 1089.7 L925.25 1089.2 L928.45 1088.7 L932.51 1088.2 L935.13 1087.7 L936.62 1087.2 L937.86 1086.7 L938.89 1086.2 L939.75 1085.7 L940.49 1085.2 L941.15 1084.7 L941.77 1084.2 L942.34 1083.7 L942.86 1083.2 L943.33 1082.7 L943.76 1082.2 L944.16 1081.7 L944.55 1081.2 L944.92 1080.7 L945.29 1080.2 L945.66 1079.7 L946.04 1079.2 L946.39 1078.7 L946.71 1078.2 L946.97 1077.7 L947.16 1077.2 L947.29 1076.7 L947.4 1076.2 L947.48 1075.7 L947.56 1075.2 L947.65 1074.7 L947.75 1074.2 L947.9 1073.7 L948.13 1073.2 Z"/>
<path d="M1044.7 1072.6 L1045.06 1073.1 L1045.28 1073.6 L1045.44 1074.1 L1045.56 1074.6 L1045.66 1075.1 L1045.75 1075.6 L1045.84 1076.1 L1045.94 1076.6 L1046.07 1077.1 L1046.25 1077.6 L1046.5 1078.1 L1046.82 1078.6 L1047.18 1079.1 L1047.58 1079.6 L1047.99 1080.1 L1048.39 1080.6 L1048.78 1081.1 L1049.18 1081.6 L1049.6 1082.1 L1050.05 1082.6 L1050.53 1083.1 L1051.07 1083.6 L1051.66 1084.1 L1052.32 1084.6 L1053.02 1085.1 L1053.81 1085.6 L1054.72 1086.1 L1055.81 1086.6 L1057.12 1087.1 L1058.69 1087.6 L1061.1 1088.1 L1065.36 1088.6 L1069.03 1089.1 L1071.87 1089.6 L1073.62 1090.1 L1073.97 1090.6 L1072.52 1091.1 L1068.8 1091.6 L1064.28 1092.1 L1060.28 1092.6 L1056.62 1093.1 L1053.51 1093.6 L1050.97 1094.1 L1048.87 1094.6 L1047.13 1095.1 L1045.81 1095.6 L1044.7 1096.2 L1043.59 1095.6 L1042.27 1095.1 L1040.53 1094.6 L1038.43 1094.1 L1035.89 1093.6 L1032.78 1093.1 L1029.12 1092.6 L1025.12 1092.1 L1020.6 1091.6 L1016.88 1091.1 L1015.43 1090.6 L1015.78 1090.1 L1017.53 1089.6 L1020.37 1089.1 L1024.04 1088.6 L1028.3 1088.1 L1030.71 1087.6 L1032.28 1087.1 L1033.59 1086.6 L1034.68 1086.1 L1035.59 1085.6 L1036.38 1085.1 L1037.08 1084.6 L1037.74 1084.1 L1038.33 1083.6 L1038.87 1083.1 L1039.35 1082.6 L1039.8 1082.1 L1040.22 1081.6 L1040.62 1081.1 L1041.01 1080.6 L1041.41 1080.1 L1041.82 1079.6 L1042.22 1079.1 L1042.58 1078.6 L1042.9 1078.1 L1043.15 1077.6 L1043.33 1077.1 L1043.46 1076.6 L1043.56 1076.1 L1043.65 1075.6 L1043.74 1075.1 L1043.84 1074.6 L1043.96 1074.1 L1044.12 1073.6 L1044.34 1073.1 Z"/>
<path d="M1141.2 1069 L1141.49 1069.5 L1141.57 1070 L1141.62 1070.5 L1141.66 1071 L1141.68 1071.5 L1141.71 1072 L1141.74 1072.5 L1141.78 1073 L1141.83 1073.5 L1141.9 1074 L1141.98 1074.5 L1142.07 1075 L1142.17 1075.5 L1142.28 1076 L1142.41 1076.5 L1142.55 1077 L1142.73 1077.5 L1142.97 1078 L1143.27 1078.5 L1143.61 1079 L1143.97 1079.5 L1144.34 1080 L1144.7 1080.5 L1145.06 1081 L1145.42 1081.5 L1145.79 1082 L1146.19 1082.5 L1146.62 1083 L1147.09 1083.5 L1147.61 1084 L1148.2 1084.5 L1148.84 1085 L1149.55 1085.5 L1150.36 1086 L1151.33 1086.5 L1152.49 1087 L1153.89 1087.5 L1155.62 1088 L1159.18 1088.5 L1163.16 1089 L1166.09 1089.5 L1168.16 1090 L1169.2 1090.5 L1168.37 1091 L1164.76 1091.5 L1160.09 1092 L1155.82 1092.5 L1151.97 1093 L1148.84 1093.5 L1146.31 1094 L1144.26 1094.5 L1142.66 1095 L1141.54 1095.5 L1141.2 1095.7 L1140.86 1095.5 L1139.74 1095 L1138.14 1094.5 L1136.09 1094 L1133.56 1093.5 L1130.43 1093 L1126.58 1092.5 L1122.31 1092 L1117.64 1091.5 L1114.03 1091 L1113.2 1090.5 L1114.24 1090 L1116.31 1089.5 L1119.24 1089 L1123.22 1088.5 L1126.78 1088 L1128.51 1087.5 L1129.91 1087 L1131.07 1086.5 L1132.04 1086 L1132.85 1085.5 L1133.56 1085 L1134.2 1084.5 L1134.79 1084 L1135.31 1083.5 L1135.78 1083 L1136.21 1082.5 L1136.61 1082 L1136.98 1081.5 L1137.34 1081 L1137.7 1080.5 L1138.06 1080 L1138.43 1079.5 L1138.79 1079 L1139.13 1078.5 L1139.43 1078 L1139.67 1077.5 L1139.85 1077 L1139.99 1076.5 L1140.12 1076 L1140.23 1075.5 L1140.33 1075 L1140.42 1074.5 L1140.5 1074 L1140.57 1073.5 L1140.62 1073 L1140.66 1072.5 L1140.69 1072 L1140.72 1071.5 L1140.74 1071 L1140.78 1070.5 L1140.83 1070 L1140.91 1069.5 Z"/>
<path d="M1334.2 1074.5 L1334.6 1075 L1334.93 1075.5 L1335.15 1076 L1335.32 1076.5 L1335.45 1077 L1335.58 1077.5 L1335.7 1078 L1335.86 1078.5 L1336.07 1079 L1336.37 1079.5 L1336.78 1080 L1337.27 1080.5 L1337.82 1081 L1338.38 1081.5 L1338.93 1082 L1339.47 1082.5 L1340.01 1083 L1340.59 1083.5 L1341.21 1084 L1341.91 1084.5 L1342.7 1085 L1343.6 1085.5 L1344.63 1086 L1345.84 1086.5 L1347.31 1087 L1349.13 1087.5 L1351.4 1088 L1354.62 1088.5 L1360.93 1089 L1366.25 1089.5 L1370.03 1090 L1371.8 1090.5 L1370.18 1091 L1364.09 1091.5 L1356.72 1092 L1350.56 1092.5 L1345.31 1093 L1341.27 1093.5 L1338.1 1094 L1335.75 1094.5 L1334.2 1095 L1332.65 1094.5 L1330.3 1094 L1327.13 1093.5 L1323.09 1093 L1317.84 1092.5 L1311.68 1092 L1304.31 1091.5 L1298.22 1091 L1296.6 1090.5 L1298.37 1090 L1302.15 1089.5 L1307.47 1089 L1313.78 1088.5 L1317 1088 L1319.27 1087.5 L1321.09 1087 L1322.56 1086.5 L1323.77 1086 L1324.8 1085.5 L1325.7 1085 L1326.49 1084.5 L1327.19 1084 L1327.81 1083.5 L1328.39 1083 L1328.93 1082.5 L1329.47 1082 L1330.02 1081.5 L1330.58 1081 L1331.13 1080.5 L1331.62 1080 L1332.03 1079.5 L1332.33 1079 L1332.54 1078.5 L1332.7 1078 L1332.82 1077.5 L1332.95 1077 L1333.08 1076.5 L1333.25 1076 L1333.47 1075.5 L1333.8 1075 Z"/>
</g>
<g fill="#fff" stroke="#3c4a4a" stroke-width="0.7">
<circle cx="1238" cy="848.4" r="3.45"/>
<circle cx="852" cy="1089.2" r="3.45"/>
<circle cx="948.5" cy="1089.2" r="3.45"/>
<circle cx="1044.7" cy="1089.2" r="3.45"/>
<circle cx="1141.2" cy="1089.2" r="3.45"/>
<circle cx="1334.2" cy="1089.4" r="3.45"/>
</g>
<g stroke="#0a0a0a" stroke-width="2.4" fill="none">
<path d="M804 632.4 V1099.3 H1383.5"/>
<path d="M852 1099.3 v9.5"/>
<path d="M948.5 1099.3 v9.5"/>
<path d="M1044.7 1099.3 v9.5"/>
<path d="M1141.2 1099.3 v9.5"/>
<path d="M1238 1099.3 v9.5"/>
<path d="M1334.2 1099.3 v9.5"/>
<path d="M804 1091.6 h-9.5"/>
<path d="M804 1015.25 h-9.5"/>
<path d="M804 938.9 h-9.5"/>
<path d="M804 862.55 h-9.5"/>
<path d="M804 786.2 h-9.5"/>
<path d="M804 709.85 h-9.5"/>
<path d="M804 633.5 h-9.5"/>
</g>
<g font-family='"Liberation Sans", sans-serif' font-size="23.6" fill="#0d0d0d">
<g text-anchor="middle">
<text x="852" y="1133.1">5xR1</text>
<text x="948.5" y="1133.1">5xR2</text>
<text x="1044.7" y="1133.1">7xR3</text>
<text x="1141.2" y="1133.1">7xR4</text>
<text x="1238" y="1133.1">5xR5</text>
<text x="1334.2" y="1133.1">5xR6</text>
</g>
<g text-anchor="end">
<text x="788.5" y="1098.5">0</text>
<text x="788.5" y="1022.15">100</text>
<text x="788.5" y="945.8">200</text>
<text x="788.5" y="869.45">300</text>
<text x="788.5" y="793.1">400</text>
<text x="788.5" y="716.75">500</text>
<text x="788.5" y="640.4">600</text>
</g>
</g>
<rect x="951.8" y="605" width="249.2" height="43.7" fill="#fff" stroke="#1a1a1a" stroke-width="3.2"/>
<text x="1077" y="638.3" text-anchor="middle" font-family='"Liberation Sans", sans-serif' font-size="33.2" fill="#0d0d0d">R5: GTTGTTG</text>
<text transform="translate(1076 1187.8) scale(1 1.03)" text-anchor="middle" font-family='"Liberation Sans", sans-serif' font-size="35.4" fill="#0d0d0d">Docking site sequence</text>
</g>
<g>
<g fill="#689a9e" stroke="#2e3030" stroke-width="1.5" stroke-linejoin="round">
<path d="M2018.7 633.4 L2019 633.9 L2019.01 634.4 L2019.01 634.9 L2019.01 635.4 L2019.02 635.9 L2019.02 636.4 L2019.02 636.9 L2019.02 637.4 L2019.03 637.9 L2019.03 638.4 L2019.03 638.9 L2019.03 639.4 L2019.03 639.9 L2019.03 640.4 L2019.03 640.9 L2019.03 641.4 L2019.03 641.9 L2019.03 642.4 L2019.03 642.9 L2019.04 643.4 L2019.04 643.9 L2019.04 644.4 L2019.04 644.9 L2019.04 645.4 L2019.04 645.9 L2019.04 646.4 L2019.04 646.9 L2019.04 647.4 L2019.04 647.9 L2019.04 648.4 L2019.05 648.9 L2019.05 649.4 L2019.05 649.9 L2019.05 650.4 L2019.05 650.9 L2019.06 651.4 L2019.06 651.9 L2019.06 652.4 L2019.07 652.9 L2019.07 653.4 L2019.08 653.9 L2019.08 654.4 L2019.09 654.9 L2019.09 655.4 L2019.1 655.9 L2019.1 656.4 L2019.11 656.9 L2019.11 657.4 L2019.12 657.9 L2019.12 658.4 L2019.13 658.9 L2019.14 659.4 L2019.14 659.9 L2019.15 660.4 L2019.16 660.9 L2019.16 661.4 L2019.17 661.9 L2019.18 662.4 L2019.19 662.9 L2019.19 663.4 L2019.2 663.9 L2019.21 664.4 L2019.22 664.9 L2019.22 665.4 L2019.23 665.9 L2019.24 666.4 L2019.25 666.9 L2019.26 667.4 L2019.27 667.9 L2019.27 668.4 L2019.28 668.9 L2019.29 669.4 L2019.3 669.9 L2019.31 670.4 L2019.32 670.9 L2019.32 671.4 L2019.33 671.9 L2019.34 672.4 L2019.36 672.9 L2019.37 673.4 L2019.38 673.9 L2019.39 674.4 L2019.4 674.9 L2019.41 675.4 L2019.42 675.9 L2019.44 676.4 L2019.45 676.9 L2019.46 677.4 L2019.47 677.9 L2019.49 678.4 L2019.5 678.9 L2019.51 679.4 L2019.53 679.9 L2019.54 680.4 L2019.56 680.9 L2019.57 681.4 L2019.58 681.9 L2019.6 682.4 L2019.61 682.9 L2019.62 683.4 L2019.64 683.9 L2019.65 684.4 L2019.67 684.9 L2019.68 685.4 L2019.69 685.9 L2019.71 686.4 L2019.72 686.9 L2019.73 687.4 L2019.75 687.9 L2019.76 688.4 L2019.77 688.9 L2019.79 689.4 L2019.8 689.9 L2019.81 690.4 L2019.82 690.9 L2019.83 691.4 L2019.84 691.9 L2019.85 692.4 L2019.86 692.9 L2019.87 693.4 L2019.88 693.9 L2019.89 694.4 L2019.9 694.9 L2019.91 695.4 L2019.92 695.9 L2019.94 696.4 L2019.95 696.9 L2019.97 697.4 L2019.98 697.9 L2020 698.4 L2020.02 698.9 L2020.05 699.4 L2020.07 699.9 L2020.1 700.4 L2020.14 700.9 L2020.17 701.4 L2020.21 701.9 L2020.26 702.4 L2020.3 702.9 L2020.35 703.4 L2020.4 703.9 L2020.45 704.4 L2020.5 704.9 L2020.56 705.4 L2020.61 705.9 L2020.67 706.4 L2020.73 706.9 L2020.8 707.4 L2020.87 707.9 L2020.95 708.4 L2021.03 708.9 L2021.12 709.4 L2021.21 709.9 L2021.31 710.4 L2021.41 710.9 L2021.52 711.4 L2021.63 711.9 L2021.75 712.4 L2021.88 712.9 L2022.01 713.4 L2022.16 713.9 L2022.31 714.4 L2022.48 714.9 L2022.67 715.4 L2022.87 715.9 L2023.08 716.4 L2023.31 716.9 L2023.55 717.4 L2023.8 717.9 L2024.06 718.4 L2024.32 718.9 L2024.6 719.4 L2024.88 719.9 L2025.17 720.4 L2025.46 720.9 L2025.76 721.4 L2026.07 721.9 L2026.38 722.4 L2026.69 722.9 L2027 723.4 L2027.32 723.9 L2027.63 724.4 L2027.95 724.9 L2028.25 725.4 L2028.56 725.9 L2028.86 726.4 L2029.15 726.9 L2029.43 727.4 L2029.71 727.9 L2029.97 728.4 L2030.23 728.9 L2030.47 729.4 L2030.71 729.9 L2030.95 730.4 L2031.18 730.9 L2031.41 731.4 L2031.63 731.9 L2031.86 732.4 L2032.08 732.9 L2032.29 733.4 L2032.51 733.9 L2032.72 734.4 L2032.93 734.9 L2033.14 735.4 L2033.35 735.9 L2033.56 736.4 L2033.76 736.9 L2033.97 737.4 L2034.17 737.9 L2034.37 738.4 L2034.57 738.9 L2034.78 739.4 L2034.97 739.9 L2035.17 740.4 L2035.37 740.9 L2035.57 741.4 L2035.76 741.9 L2035.96 742.4 L2036.15 742.9 L2036.34 743.4 L2036.53 743.9 L2036.72 744.4 L2036.92 744.9 L2037.11 745.4 L2037.3 745.9 L2037.49 746.4 L2037.68 746.9 L2037.88 747.4 L2038.07 747.9 L2038.27 748.4 L2038.47 748.9 L2038.67 749.4 L2038.87 749.9 L2039.07 750.4 L2039.27 750.9 L2039.47 751.4 L2039.68 751.9 L2039.88 752.4 L2040.08 752.9 L2040.29 753.4 L2040.49 753.9 L2040.69 754.4 L2040.9 754.9 L2041.1 755.4 L2041.3 755.9 L2041.5 756.4 L2041.69 756.9 L2041.89 757.4 L2042.08 757.9 L2042.28 758.4 L2042.47 758.9 L2042.66 759.4 L2042.86 759.9 L2043.05 760.4 L2043.24 760.9 L2043.43 761.4 L2043.62 761.9 L2043.81 762.4 L2044 762.9 L2044.18 763.4 L2044.37 763.9 L2044.56 764.4 L2044.75 764.9 L2044.94 765.4 L2045.13 765.9 L2045.32 766.4 L2045.51 766.9 L2045.7 767.4 L2045.89 767.9 L2046.07 768.4 L2046.26 768.9 L2046.45 769.4 L2046.64 769.9 L2046.83 770.4 L2047.01 770.9 L2047.2 771.4 L2047.38 771.9 L2047.56 772.4 L2047.74 772.9 L2047.92 773.4 L2048.09 773.9 L2048.27 774.4 L2048.44 774.9 L2048.61 775.4 L2048.78 775.9 L2048.95 776.4 L2049.12 776.9 L2049.29 777.4 L2049.46 777.9 L2049.63 778.4 L2049.81 778.9 L2049.98 779.4 L2050.16 779.9 L2050.34 780.4 L2050.52 780.9 L2050.71 781.4 L2050.9 781.9 L2051.08 782.4 L2051.28 782.9 L2051.47 783.4 L2051.67 783.9 L2051.86 784.4 L2052.06 784.9 L2052.26 785.4 L2052.46 785.9 L2052.66 786.4 L2052.86 786.9 L2053.05 787.4 L2053.25 787.9 L2053.44 788.4 L2053.63 788.9 L2053.81 789.4 L2053.98 789.9 L2054.15 790.4 L2054.31 790.9 L2054.46 791.4 L2054.6 791.9 L2054.72 792.4 L2054.84 792.9 L2054.95 793.4 L2055.05 793.9 L2055.14 794.4 L2055.22 794.9 L2055.3 795.4 L2055.36 795.9 L2055.42 796.4 L2055.48 796.9 L2055.52 797.4 L2055.57 797.9 L2055.6 798.4 L2055.63 798.9 L2055.65 799.4 L2055.67 799.9 L2055.68 800.4 L2055.69 800.9 L2055.69 801.4 L2055.7 801.9 L2055.7 802.4 L2055.7 802.9 L2055.7 803.4 L2055.7 803.9 L2055.7 804.4 L2055.7 804.9 L2055.7 805.4 L2055.7 805.9 L2055.7 806.4 L2055.7 806.9 L2055.69 807.4 L2055.68 807.9 L2055.67 808.4 L2055.66 808.9 L2055.64 809.4 L2055.61 809.9 L2055.58 810.4 L2055.54 810.9 L2055.5 811.4 L2055.45 811.9 L2055.39 812.4 L2055.33 812.9 L2055.27 813.4 L2055.2 813.9 L2055.12 814.4 L2055.04 814.9 L2054.95 815.4 L2054.86 815.9 L2054.77 816.4 L2054.67 816.9 L2054.57 817.4 L2054.47 817.9 L2054.37 818.4 L2054.26 818.9 L2054.15 819.4 L2054.04 819.9 L2053.92 820.4 L2053.8 820.9 L2053.68 821.4 L2053.55 821.9 L2053.42 822.4 L2053.28 822.9 L2053.13 823.4 L2052.98 823.9 L2052.82 824.4 L2052.65 824.9 L2052.47 825.4 L2052.29 825.9 L2052.09 826.4 L2051.88 826.9 L2051.67 827.4 L2051.44 827.9 L2051.2 828.4 L2050.96 828.9 L2050.7 829.4 L2050.44 829.9 L2050.16 830.4 L2049.88 830.9 L2049.59 831.4 L2049.29 831.9 L2048.97 832.4 L2048.65 832.9 L2048.31 833.4 L2047.97 833.9 L2047.61 834.4 L2047.24 834.9 L2046.86 835.4 L2046.46 835.9 L2046.05 836.4 L2045.62 836.9 L2045.17 837.4 L2044.7 837.9 L2044.21 838.4 L2043.69 838.9 L2043.16 839.4 L2042.61 839.9 L2042.04 840.4 L2041.45 840.9 L2040.84 841.4 L2040.21 841.9 L2039.57 842.4 L2038.91 842.9 L2038.23 843.4 L2037.54 843.9 L2036.83 844.4 L2036.11 844.9 L2035.37 845.4 L2034.62 845.9 L2033.85 846.4 L2033.07 846.9 L2032.29 847.4 L2031.5 847.9 L2030.71 848.4 L2029.93 848.9 L2029.16 849.4 L2028.42 849.9 L2027.69 850.4 L2026.99 850.9 L2026.31 851.4 L2025.66 851.9 L2025.04 852.4 L2024.45 852.9 L2023.89 853.4 L2023.33 853.9 L2022.82 854.4 L2022.35 854.9 L2021.9 855.4 L2021.48 855.9 L2021.08 856.4 L2020.71 856.9 L2020.38 857.4 L2020.1 857.9 L2019.87 858.4 L2019.71 858.9 L2019.56 859.4 L2019.42 859.9 L2019.29 860.4 L2019.17 860.9 L2019.06 861.4 L2018.96 861.9 L2018.87 862.4 L2018.8 862.9 L2018.75 863.4 L2018.72 863.9 L2018.7 864.5 L2018.68 863.9 L2018.65 863.4 L2018.6 862.9 L2018.53 862.4 L2018.44 861.9 L2018.34 861.4 L2018.23 860.9 L2018.11 860.4 L2017.98 859.9 L2017.84 859.4 L2017.69 858.9 L2017.53 858.4 L2017.3 857.9 L2017.02 857.4 L2016.69 856.9 L2016.32 856.4 L2015.92 855.9 L2015.5 855.4 L2015.05 854.9 L2014.58 854.4 L2014.07 853.9 L2013.51 853.4 L2012.95 852.9 L2012.36 852.4 L2011.74 851.9 L2011.09 851.4 L2010.41 850.9 L2009.71 850.4 L2008.98 849.9 L2008.24 849.4 L2007.47 848.9 L2006.69 848.4 L2005.9 847.9 L2005.11 847.4 L2004.33 846.9 L2003.55 846.4 L2002.78 845.9 L2002.03 845.4 L2001.29 844.9 L2000.57 844.4 L1999.86 843.9 L1999.17 843.4 L1998.49 842.9 L1997.83 842.4 L1997.19 841.9 L1996.56 841.4 L1995.95 840.9 L1995.36 840.4 L1994.79 839.9 L1994.24 839.4 L1993.71 838.9 L1993.19 838.4 L1992.7 837.9 L1992.23 837.4 L1991.78 836.9 L1991.35 836.4 L1990.94 835.9 L1990.54 835.4 L1990.16 834.9 L1989.79 834.4 L1989.43 833.9 L1989.09 833.4 L1988.75 832.9 L1988.43 832.4 L1988.11 831.9 L1987.81 831.4 L1987.52 830.9 L1987.24 830.4 L1986.96 829.9 L1986.7 829.4 L1986.44 828.9 L1986.2 828.4 L1985.96 827.9 L1985.73 827.4 L1985.52 826.9 L1985.31 826.4 L1985.11 825.9 L1984.93 825.4 L1984.75 824.9 L1984.58 824.4 L1984.42 823.9 L1984.27 823.4 L1984.12 822.9 L1983.98 822.4 L1983.85 821.9 L1983.72 821.4 L1983.6 820.9 L1983.48 820.4 L1983.36 819.9 L1983.25 819.4 L1983.14 818.9 L1983.03 818.4 L1982.93 817.9 L1982.83 817.4 L1982.73 816.9 L1982.63 816.4 L1982.54 815.9 L1982.45 815.4 L1982.36 814.9 L1982.28 814.4 L1982.2 813.9 L1982.13 813.4 L1982.07 812.9 L1982.01 812.4 L1981.95 811.9 L1981.9 811.4 L1981.86 810.9 L1981.82 810.4 L1981.79 809.9 L1981.76 809.4 L1981.74 808.9 L1981.73 808.4 L1981.72 807.9 L1981.71 807.4 L1981.7 806.9 L1981.7 806.4 L1981.7 805.9 L1981.7 805.4 L1981.7 804.9 L1981.7 804.4 L1981.7 803.9 L1981.7 803.4 L1981.7 802.9 L1981.7 802.4 L1981.7 801.9 L1981.71 801.4 L1981.71 800.9 L1981.72 800.4 L1981.73 799.9 L1981.75 799.4 L1981.77 798.9 L1981.8 798.4 L1981.83 797.9 L1981.88 797.4 L1981.92 796.9 L1981.98 796.4 L1982.04 795.9 L1982.1 795.4 L1982.18 794.9 L1982.26 794.4 L1982.35 793.9 L1982.45 793.4 L1982.56 792.9 L1982.68 792.4 L1982.8 791.9 L1982.94 791.4 L1983.09 790.9 L1983.25 790.4 L1983.42 789.9 L1983.59 789.4 L1983.77 788.9 L1983.96 788.4 L1984.15 787.9 L1984.35 787.4 L1984.54 786.9 L1984.74 786.4 L1984.94 785.9 L1985.14 785.4 L1985.34 784.9 L1985.54 784.4 L1985.73 783.9 L1985.93 783.4 L1986.12 782.9 L1986.32 782.4 L1986.5 781.9 L1986.69 781.4 L1986.88 780.9 L1987.06 780.4 L1987.24 779.9 L1987.42 779.4 L1987.59 778.9 L1987.77 778.4 L1987.94 777.9 L1988.11 777.4 L1988.28 776.9 L1988.45 776.4 L1988.62 775.9 L1988.79 775.4 L1988.96 774.9 L1989.13 774.4 L1989.31 773.9 L1989.48 773.4 L1989.66 772.9 L1989.84 772.4 L1990.02 771.9 L1990.2 771.4 L1990.39 770.9 L1990.57 770.4 L1990.76 769.9 L1990.95 769.4 L1991.14 768.9 L1991.33 768.4 L1991.51 767.9 L1991.7 767.4 L1991.89 766.9 L1992.08 766.4 L1992.27 765.9 L1992.46 765.4 L1992.65 764.9 L1992.84 764.4 L1993.03 763.9 L1993.22 763.4 L1993.4 762.9 L1993.59 762.4 L1993.78 761.9 L1993.97 761.4 L1994.16 760.9 L1994.35 760.4 L1994.54 759.9 L1994.74 759.4 L1994.93 758.9 L1995.12 758.4 L1995.32 757.9 L1995.51 757.4 L1995.71 756.9 L1995.9 756.4 L1996.1 755.9 L1996.3 755.4 L1996.5 754.9 L1996.71 754.4 L1996.91 753.9 L1997.11 753.4 L1997.32 752.9 L1997.52 752.4 L1997.72 751.9 L1997.93 751.4 L1998.13 750.9 L1998.33 750.4 L1998.53 749.9 L1998.73 749.4 L1998.93 748.9 L1999.13 748.4 L1999.33 747.9 L1999.52 747.4 L1999.72 746.9 L1999.91 746.4 L2000.1 745.9 L2000.29 745.4 L2000.48 744.9 L2000.68 744.4 L2000.87 743.9 L2001.06 743.4 L2001.25 742.9 L2001.44 742.4 L2001.64 741.9 L2001.83 741.4 L2002.03 740.9 L2002.23 740.4 L2002.43 739.9 L2002.62 739.4 L2002.83 738.9 L2003.03 738.4 L2003.23 737.9 L2003.43 737.4 L2003.64 736.9 L2003.84 736.4 L2004.05 735.9 L2004.26 735.4 L2004.47 734.9 L2004.68 734.4 L2004.89 733.9 L2005.11 733.4 L2005.32 732.9 L2005.54 732.4 L2005.77 731.9 L2005.99 731.4 L2006.22 730.9 L2006.45 730.4 L2006.69 729.9 L2006.93 729.4 L2007.17 728.9 L2007.43 728.4 L2007.69 727.9 L2007.97 727.4 L2008.25 726.9 L2008.54 726.4 L2008.84 725.9 L2009.15 725.4 L2009.45 724.9 L2009.77 724.4 L2010.08 723.9 L2010.4 723.4 L2010.71 722.9 L2011.02 722.4 L2011.33 721.9 L2011.64 721.4 L2011.94 720.9 L2012.23 720.4 L2012.52 719.9 L2012.8 719.4 L2013.08 718.9 L2013.34 718.4 L2013.6 717.9 L2013.85 717.4 L2014.09 716.9 L2014.32 716.4 L2014.53 715.9 L2014.73 715.4 L2014.92 714.9 L2015.09 714.4 L2015.24 713.9 L2015.39 713.4 L2015.52 712.9 L2015.65 712.4 L2015.77 711.9 L2015.88 711.4 L2015.99 710.9 L2016.09 710.4 L2016.19 709.9 L2016.28 709.4 L2016.37 708.9 L2016.45 708.4 L2016.53 707.9 L2016.6 707.4 L2016.67 706.9 L2016.73 706.4 L2016.79 705.9 L2016.84 705.4 L2016.9 704.9 L2016.95 704.4 L2017 703.9 L2017.05 703.4 L2017.1 702.9 L2017.14 702.4 L2017.19 701.9 L2017.23 701.4 L2017.26 700.9 L2017.3 700.4 L2017.33 699.9 L2017.35 699.4 L2017.38 698.9 L2017.4 698.4 L2017.42 697.9 L2017.43 697.4 L2017.45 696.9 L2017.46 696.4 L2017.48 695.9 L2017.49 695.4 L2017.5 694.9 L2017.51 694.4 L2017.52 693.9 L2017.53 693.4 L2017.54 692.9 L2017.55 692.4 L2017.56 691.9 L2017.57 691.4 L2017.58 690.9 L2017.59 690.4 L2017.6 689.9 L2017.61 689.4 L2017.63 688.9 L2017.64 688.4 L2017.65 687.9 L2017.67 687.4 L2017.68 686.9 L2017.69 686.4 L2017.71 685.9 L2017.72 685.4 L2017.73 684.9 L2017.75 684.4 L2017.76 683.9 L2017.78 683.4 L2017.79 682.9 L2017.8 682.4 L2017.82 681.9 L2017.83 681.4 L2017.84 680.9 L2017.86 680.4 L2017.87 679.9 L2017.89 679.4 L2017.9 678.9 L2017.91 678.4 L2017.93 677.9 L2017.94 677.4 L2017.95 676.9 L2017.96 676.4 L2017.98 675.9 L2017.99 675.4 L2018 674.9 L2018.01 674.4 L2018.02 673.9 L2018.03 673.4 L2018.04 672.9 L2018.06 672.4 L2018.07 671.9 L2018.08 671.4 L2018.08 670.9 L2018.09 670.4 L2018.1 669.9 L2018.11 669.4 L2018.12 668.9 L2018.13 668.4 L2018.13 667.9 L2018.14 667.4 L2018.15 666.9 L2018.16 666.4 L2018.17 665.9 L2018.18 665.4 L2018.18 664.9 L2018.19 664.4 L2018.2 663.9 L2018.21 663.4 L2018.21 662.9 L2018.22 662.4 L2018.23 661.9 L2018.24 661.4 L2018.24 660.9 L2018.25 660.4 L2018.26 659.9 L2018.26 659.4 L2018.27 658.9 L2018.28 658.4 L2018.28 657.9 L2018.29 657.4 L2018.29 656.9 L2018.3 656.4 L2018.3 655.9 L2018.31 655.4 L2018.31 654.9 L2018.32 654.4 L2018.32 653.9 L2018.33 653.4 L2018.33 652.9 L2018.34 652.4 L2018.34 651.9 L2018.34 651.4 L2018.35 650.9 L2018.35 650.4 L2018.35 649.9 L2018.35 649.4 L2018.35 648.9 L2018.36 648.4 L2018.36 647.9 L2018.36 647.4 L2018.36 646.9 L2018.36 646.4 L2018.36 645.9 L2018.36 645.4 L2018.36 644.9 L2018.36 644.4 L2018.36 643.9 L2018.36 643.4 L2018.37 642.9 L2018.37 642.4 L2018.37 641.9 L2018.37 641.4 L2018.37 640.9 L2018.37 640.4 L2018.37 639.9 L2018.37 639.4 L2018.37 638.9 L2018.37 638.4 L2018.37 637.9 L2018.38 637.4 L2018.38 636.9 L2018.38 636.4 L2018.38 635.9 L2018.39 635.4 L2018.39 634.9 L2018.39 634.4 L2018.4 633.9 Z"/>
<path d="M1536.4 1063.6 L1536.68 1064.1 L1536.76 1064.6 L1536.82 1065.1 L1536.87 1065.6 L1536.91 1066.1 L1536.94 1066.6 L1536.96 1067.1 L1536.98 1067.6 L1536.99 1068.1 L1537.01 1068.6 L1537.02 1069.1 L1537.04 1069.6 L1537.06 1070.1 L1537.09 1070.6 L1537.12 1071.1 L1537.16 1071.6 L1537.22 1072.1 L1537.29 1072.6 L1537.41 1073.1 L1537.59 1073.6 L1537.82 1074.1 L1538.1 1074.6 L1538.41 1075.1 L1538.86 1075.6 L1539.48 1076.1 L1540.2 1076.6 L1540.95 1077.1 L1541.66 1077.6 L1542.38 1078.1 L1543.13 1078.6 L1543.99 1079.1 L1544.98 1079.6 L1546.18 1080.1 L1547.62 1080.6 L1549.49 1081.1 L1551.95 1081.6 L1555.19 1082.1 L1561.67 1082.6 L1569.49 1083.1 L1573.89 1083.6 L1574.58 1084.1 L1574.31 1084.6 L1570.14 1085.1 L1565.29 1085.6 L1560.12 1086.1 L1555.78 1086.6 L1551.6 1087.1 L1548.1 1087.6 L1545.14 1088.1 L1542.62 1088.6 L1540.49 1089.1 L1538.73 1089.6 L1537.4 1090.1 L1536.4 1090.6 L1535.4 1090.1 L1534.07 1089.6 L1532.31 1089.1 L1530.18 1088.6 L1527.66 1088.1 L1524.7 1087.6 L1521.2 1087.1 L1517.02 1086.6 L1512.68 1086.1 L1507.51 1085.6 L1502.66 1085.1 L1498.49 1084.6 L1498.22 1084.1 L1498.91 1083.6 L1503.31 1083.1 L1511.13 1082.6 L1517.61 1082.1 L1520.85 1081.6 L1523.31 1081.1 L1525.18 1080.6 L1526.62 1080.1 L1527.82 1079.6 L1528.81 1079.1 L1529.67 1078.6 L1530.42 1078.1 L1531.14 1077.6 L1531.85 1077.1 L1532.6 1076.6 L1533.32 1076.1 L1533.94 1075.6 L1534.39 1075.1 L1534.7 1074.6 L1534.98 1074.1 L1535.21 1073.6 L1535.39 1073.1 L1535.51 1072.6 L1535.58 1072.1 L1535.64 1071.6 L1535.68 1071.1 L1535.71 1070.6 L1535.74 1070.1 L1535.76 1069.6 L1535.78 1069.1 L1535.79 1068.6 L1535.81 1068.1 L1535.82 1067.6 L1535.84 1067.1 L1535.86 1066.6 L1535.89 1066.1 L1535.93 1065.6 L1535.98 1065.1 L1536.04 1064.6 L1536.12 1064.1 Z"/>
<path d="M1632.9 1060 L1633.16 1060.5 L1633.2 1061 L1633.23 1061.5 L1633.25 1062 L1633.27 1062.5 L1633.29 1063 L1633.3 1063.5 L1633.32 1064 L1633.33 1064.5 L1633.33 1065 L1633.34 1065.5 L1633.34 1066 L1633.35 1066.5 L1633.35 1067 L1633.35 1067.5 L1633.36 1068 L1633.36 1068.5 L1633.37 1069 L1633.37 1069.5 L1633.38 1070 L1633.39 1070.5 L1633.41 1071 L1633.43 1071.5 L1633.45 1072 L1633.47 1072.5 L1633.5 1073 L1633.55 1073.5 L1633.66 1074 L1633.81 1074.5 L1634.01 1075 L1634.22 1075.5 L1634.51 1076 L1634.93 1076.5 L1635.43 1077 L1635.97 1077.5 L1636.5 1078 L1637.01 1078.5 L1637.54 1079 L1638.15 1079.5 L1638.87 1080 L1639.75 1080.5 L1640.86 1081 L1642.36 1081.5 L1644.43 1082 L1647.4 1082.5 L1653.99 1083 L1658.83 1083.5 L1659.61 1084 L1659.36 1084.5 L1655.64 1085 L1651.26 1085.5 L1647.32 1086 L1643.73 1086.5 L1640.76 1087 L1638.34 1087.5 L1636.35 1088 L1634.75 1088.5 L1633.58 1089 L1632.9 1089.4 L1632.22 1089 L1631.05 1088.5 L1629.45 1088 L1627.46 1087.5 L1625.04 1087 L1622.07 1086.5 L1618.48 1086 L1614.54 1085.5 L1610.16 1085 L1606.44 1084.5 L1606.19 1084 L1606.97 1083.5 L1611.81 1083 L1618.4 1082.5 L1621.37 1082 L1623.44 1081.5 L1624.94 1081 L1626.05 1080.5 L1626.93 1080 L1627.65 1079.5 L1628.26 1079 L1628.79 1078.5 L1629.3 1078 L1629.83 1077.5 L1630.37 1077 L1630.87 1076.5 L1631.29 1076 L1631.58 1075.5 L1631.79 1075 L1631.99 1074.5 L1632.14 1074 L1632.25 1073.5 L1632.3 1073 L1632.33 1072.5 L1632.35 1072 L1632.37 1071.5 L1632.39 1071 L1632.41 1070.5 L1632.42 1070 L1632.43 1069.5 L1632.43 1069 L1632.44 1068.5 L1632.44 1068 L1632.45 1067.5 L1632.45 1067 L1632.45 1066.5 L1632.46 1066 L1632.46 1065.5 L1632.47 1065 L1632.47 1064.5 L1632.48 1064 L1632.5 1063.5 L1632.51 1063 L1632.53 1062.5 L1632.55 1062 L1632.57 1061.5 L1632.6 1061 L1632.64 1060.5 Z"/>
<path d="M1729.2 1054.4 L1729.46 1054.9 L1729.49 1055.4 L1729.52 1055.9 L1729.54 1056.4 L1729.56 1056.9 L1729.58 1057.4 L1729.59 1057.9 L1729.61 1058.4 L1729.62 1058.9 L1729.63 1059.4 L1729.64 1059.9 L1729.65 1060.4 L1729.65 1060.9 L1729.66 1061.4 L1729.66 1061.9 L1729.66 1062.4 L1729.67 1062.9 L1729.67 1063.4 L1729.67 1063.9 L1729.67 1064.4 L1729.67 1064.9 L1729.68 1065.4 L1729.68 1065.9 L1729.68 1066.4 L1729.69 1066.9 L1729.7 1067.4 L1729.7 1067.9 L1729.71 1068.4 L1729.72 1068.9 L1729.73 1069.4 L1729.75 1069.9 L1729.77 1070.4 L1729.78 1070.9 L1729.8 1071.4 L1729.83 1071.9 L1729.86 1072.4 L1729.95 1072.9 L1730.1 1073.4 L1730.3 1073.9 L1730.53 1074.4 L1730.81 1074.9 L1731.23 1075.4 L1731.77 1075.9 L1732.37 1076.4 L1732.96 1076.9 L1733.54 1077.4 L1734.15 1077.9 L1734.83 1078.4 L1735.61 1078.9 L1736.55 1079.4 L1737.73 1079.9 L1739.25 1080.4 L1741.13 1080.9 L1743.4 1081.4 L1746.82 1081.9 L1751.36 1082.4 L1754.85 1082.9 L1757.37 1083.4 L1758.6 1083.9 L1758.07 1084.4 L1755.88 1084.9 L1752.49 1085.4 L1748.5 1085.9 L1745.05 1086.4 L1741.85 1086.9 L1738.99 1087.4 L1736.62 1087.9 L1734.6 1088.4 L1732.89 1088.9 L1731.44 1089.4 L1730.32 1089.9 L1729.47 1090.4 L1729.2 1090.6 L1728.93 1090.4 L1728.08 1089.9 L1726.96 1089.4 L1725.51 1088.9 L1723.8 1088.4 L1721.78 1087.9 L1719.41 1087.4 L1716.55 1086.9 L1713.35 1086.4 L1709.9 1085.9 L1705.91 1085.4 L1702.52 1084.9 L1700.33 1084.4 L1699.8 1083.9 L1701.03 1083.4 L1703.55 1082.9 L1707.04 1082.4 L1711.58 1081.9 L1715 1081.4 L1717.27 1080.9 L1719.15 1080.4 L1720.67 1079.9 L1721.85 1079.4 L1722.79 1078.9 L1723.57 1078.4 L1724.25 1077.9 L1724.86 1077.4 L1725.44 1076.9 L1726.03 1076.4 L1726.63 1075.9 L1727.17 1075.4 L1727.59 1074.9 L1727.87 1074.4 L1728.1 1073.9 L1728.3 1073.4 L1728.45 1072.9 L1728.54 1072.4 L1728.57 1071.9 L1728.6 1071.4 L1728.62 1070.9 L1728.63 1070.4 L1728.65 1069.9 L1728.67 1069.4 L1728.68 1068.9 L1728.69 1068.4 L1728.7 1067.9 L1728.7 1067.4 L1728.71 1066.9 L1728.72 1066.4 L1728.72 1065.9 L1728.72 1065.4 L1728.73 1064.9 L1728.73 1064.4 L1728.73 1063.9 L1728.73 1063.4 L1728.73 1062.9 L1728.74 1062.4 L1728.74 1061.9 L1728.74 1061.4 L1728.75 1060.9 L1728.75 1060.4 L1728.76 1059.9 L1728.77 1059.4 L1728.78 1058.9 L1728.79 1058.4 L1728.81 1057.9 L1728.82 1057.4 L1728.84 1056.9 L1728.86 1056.4 L1728.88 1055.9 L1728.91 1055.4 L1728.94 1054.9 Z"/>
<path d="M1825.7 1053.3 L1825.96 1053.8 L1825.99 1054.3 L1826.01 1054.8 L1826.03 1055.3 L1826.05 1055.8 L1826.07 1056.3 L1826.08 1056.8 L1826.09 1057.3 L1826.1 1057.8 L1826.11 1058.3 L1826.12 1058.8 L1826.13 1059.3 L1826.13 1059.8 L1826.14 1060.3 L1826.14 1060.8 L1826.15 1061.3 L1826.15 1061.8 L1826.15 1062.3 L1826.15 1062.8 L1826.15 1063.3 L1826.16 1063.8 L1826.16 1064.3 L1826.16 1064.8 L1826.16 1065.3 L1826.17 1065.8 L1826.17 1066.3 L1826.18 1066.8 L1826.18 1067.3 L1826.19 1067.8 L1826.2 1068.3 L1826.21 1068.8 L1826.22 1069.3 L1826.24 1069.8 L1826.25 1070.3 L1826.27 1070.8 L1826.29 1071.3 L1826.31 1071.8 L1826.35 1072.3 L1826.45 1072.8 L1826.6 1073.3 L1826.79 1073.8 L1827 1074.3 L1827.25 1074.8 L1827.63 1075.3 L1828.11 1075.8 L1828.64 1076.3 L1829.16 1076.8 L1829.67 1077.3 L1830.19 1077.8 L1830.76 1078.3 L1831.4 1078.8 L1832.17 1079.3 L1833.1 1079.8 L1834.31 1080.3 L1835.87 1080.8 L1837.83 1081.3 L1840.28 1081.8 L1844.69 1082.3 L1848.87 1082.8 L1851.96 1083.3 L1853.62 1083.8 L1853.36 1084.3 L1851.78 1084.8 L1848.69 1085.3 L1845.05 1085.8 L1841.63 1086.3 L1838.62 1086.8 L1835.78 1087.3 L1833.44 1087.8 L1831.44 1088.3 L1829.74 1088.8 L1828.3 1089.3 L1827.13 1089.8 L1826.25 1090.3 L1825.7 1090.7 L1825.15 1090.3 L1824.27 1089.8 L1823.1 1089.3 L1821.66 1088.8 L1819.96 1088.3 L1817.96 1087.8 L1815.62 1087.3 L1812.78 1086.8 L1809.77 1086.3 L1806.35 1085.8 L1802.71 1085.3 L1799.62 1084.8 L1798.04 1084.3 L1797.78 1083.8 L1799.44 1083.3 L1802.53 1082.8 L1806.71 1082.3 L1811.12 1081.8 L1813.57 1081.3 L1815.53 1080.8 L1817.09 1080.3 L1818.3 1079.8 L1819.23 1079.3 L1820 1078.8 L1820.64 1078.3 L1821.21 1077.8 L1821.73 1077.3 L1822.24 1076.8 L1822.76 1076.3 L1823.29 1075.8 L1823.77 1075.3 L1824.15 1074.8 L1824.4 1074.3 L1824.61 1073.8 L1824.8 1073.3 L1824.95 1072.8 L1825.05 1072.3 L1825.09 1071.8 L1825.11 1071.3 L1825.13 1070.8 L1825.15 1070.3 L1825.16 1069.8 L1825.18 1069.3 L1825.19 1068.8 L1825.2 1068.3 L1825.21 1067.8 L1825.22 1067.3 L1825.22 1066.8 L1825.23 1066.3 L1825.23 1065.8 L1825.24 1065.3 L1825.24 1064.8 L1825.24 1064.3 L1825.24 1063.8 L1825.25 1063.3 L1825.25 1062.8 L1825.25 1062.3 L1825.25 1061.8 L1825.25 1061.3 L1825.26 1060.8 L1825.26 1060.3 L1825.27 1059.8 L1825.27 1059.3 L1825.28 1058.8 L1825.29 1058.3 L1825.3 1057.8 L1825.31 1057.3 L1825.32 1056.8 L1825.33 1056.3 L1825.35 1055.8 L1825.37 1055.3 L1825.39 1054.8 L1825.41 1054.3 L1825.44 1053.8 Z"/>
<path d="M1922.2 1056.7 L1922.47 1057.2 L1922.51 1057.7 L1922.54 1058.2 L1922.57 1058.7 L1922.6 1059.2 L1922.62 1059.7 L1922.64 1060.2 L1922.65 1060.7 L1922.67 1061.2 L1922.68 1061.7 L1922.69 1062.2 L1922.7 1062.7 L1922.7 1063.2 L1922.71 1063.7 L1922.71 1064.2 L1922.72 1064.7 L1922.72 1065.2 L1922.72 1065.7 L1922.73 1066.2 L1922.73 1066.7 L1922.74 1067.2 L1922.74 1067.7 L1922.75 1068.2 L1922.76 1068.7 L1922.78 1069.2 L1922.79 1069.7 L1922.81 1070.2 L1922.83 1070.7 L1922.86 1071.2 L1922.88 1071.7 L1922.92 1072.2 L1922.97 1072.7 L1923.08 1073.2 L1923.26 1073.7 L1923.49 1074.2 L1923.74 1074.7 L1924.06 1075.2 L1924.54 1075.7 L1925.13 1076.2 L1925.78 1076.7 L1926.42 1077.2 L1927.05 1077.7 L1927.7 1078.2 L1928.42 1078.7 L1929.26 1079.2 L1930.25 1079.7 L1931.47 1080.2 L1933.03 1080.7 L1935.03 1081.2 L1937.56 1081.7 L1941.55 1082.2 L1947.69 1082.7 L1952.17 1083.2 L1954.88 1083.7 L1955.1 1084.2 L1954.02 1084.7 L1951.02 1085.2 L1947.49 1085.7 L1943.46 1086.2 L1940.03 1086.7 L1936.82 1087.2 L1933.85 1087.7 L1931.35 1088.2 L1929.2 1088.7 L1927.33 1089.2 L1925.73 1089.7 L1924.36 1090.2 L1923.3 1090.7 L1922.47 1091.2 L1922.2 1091.4 L1921.93 1091.2 L1921.1 1090.7 L1920.04 1090.2 L1918.67 1089.7 L1917.07 1089.2 L1915.2 1088.7 L1913.05 1088.2 L1910.55 1087.7 L1907.58 1087.2 L1904.37 1086.7 L1900.94 1086.2 L1896.91 1085.7 L1893.38 1085.2 L1890.38 1084.7 L1889.3 1084.2 L1889.52 1083.7 L1892.23 1083.2 L1896.71 1082.7 L1902.85 1082.2 L1906.84 1081.7 L1909.37 1081.2 L1911.37 1080.7 L1912.93 1080.2 L1914.15 1079.7 L1915.14 1079.2 L1915.98 1078.7 L1916.7 1078.2 L1917.35 1077.7 L1917.98 1077.2 L1918.62 1076.7 L1919.27 1076.2 L1919.86 1075.7 L1920.34 1075.2 L1920.66 1074.7 L1920.91 1074.2 L1921.14 1073.7 L1921.32 1073.2 L1921.43 1072.7 L1921.48 1072.2 L1921.52 1071.7 L1921.54 1071.2 L1921.57 1070.7 L1921.59 1070.2 L1921.61 1069.7 L1921.62 1069.2 L1921.64 1068.7 L1921.65 1068.2 L1921.66 1067.7 L1921.66 1067.2 L1921.67 1066.7 L1921.67 1066.2 L1921.68 1065.7 L1921.68 1065.2 L1921.68 1064.7 L1921.69 1064.2 L1921.69 1063.7 L1921.7 1063.2 L1921.7 1062.7 L1921.71 1062.2 L1921.72 1061.7 L1921.73 1061.2 L1921.75 1060.7 L1921.76 1060.2 L1921.78 1059.7 L1921.8 1059.2 L1921.83 1058.7 L1921.86 1058.2 L1921.89 1057.7 L1921.93 1057.2 Z"/>
</g>
<g fill="#fff" stroke="#3c4a4a" stroke-width="0.7">
<circle cx="2018.7" cy="795.7" r="3.45"/>
<circle cx="1536.4" cy="1084.2" r="3.45"/>
<circle cx="1632.9" cy="1084.2" r="3.45"/>
<circle cx="1729.2" cy="1084.2" r="3.45"/>
<circle cx="1825.7" cy="1084.2" r="3.45"/>
<circle cx="1922.2" cy="1084.2" r="3.45"/>
</g>
<g stroke="#0a0a0a" stroke-width="2.4" fill="none">
<path d="M1488.3 632.4 V1099.3 H2068"/>
<path d="M1536.4 1099.3 v9.5"/>
<path d="M1632.9 1099.3 v9.5"/>
<path d="M1729.2 1099.3 v9.5"/>
<path d="M1825.7 1099.3 v9.5"/>
<path d="M1922.2 1099.3 v9.5"/>
<path d="M2018.7 1099.3 v9.5"/>
<path d="M1488.3 1084.15 h-9.5"/>
<path d="M1488.3 1008.99 h-9.5"/>
<path d="M1488.3 933.82 h-9.5"/>
<path d="M1488.3 858.66 h-9.5"/>
<path d="M1488.3 783.49 h-9.5"/>
<path d="M1488.3 708.33 h-9.5"/>
<path d="M1488.3 633.16 h-9.5"/>
</g>
<g font-family='"Liberation Sans", sans-serif' font-size="23.6" fill="#0d0d0d">
<g text-anchor="middle">
<text x="1536.4" y="1133.1">5xR1</text>
<text x="1632.9" y="1133.1">5xR2</text>
<text x="1729.2" y="1133.1">7xR3</text>
<text x="1825.7" y="1133.1">7xR4</text>
<text x="1922.2" y="1133.1">5xR5</text>
<text x="2018.7" y="1133.1">5xR6</text>
</g>
<g text-anchor="end">
<text x="1472.8" y="1091.05">0</text>
<text x="1472.8" y="1015.89">50</text>
<text x="1472.8" y="940.72">100</text>
<text x="1472.8" y="865.56">150</text>
<text x="1472.8" y="790.39">200</text>
<text x="1472.8" y="715.23">250</text>
<text x="1472.8" y="640.06">300</text>
</g>
</g>
<rect x="1618.3" y="605" width="250.4" height="43.7" fill="#fff" stroke="#1a1a1a" stroke-width="3.2"/>
<text x="1744.1" y="638.3" text-anchor="middle" font-family='"Liberation Sans", sans-serif' font-size="33.2" fill="#0d0d0d">R6: TTGTTGTT</text>
<text transform="translate(1760.1 1187.8) scale(1 1.03)" text-anchor="middle" font-family='"Liberation Sans", sans-serif' font-size="35.4" fill="#0d0d0d">Docking site sequence</text>
</g>
</svg>
</body>
</html>
